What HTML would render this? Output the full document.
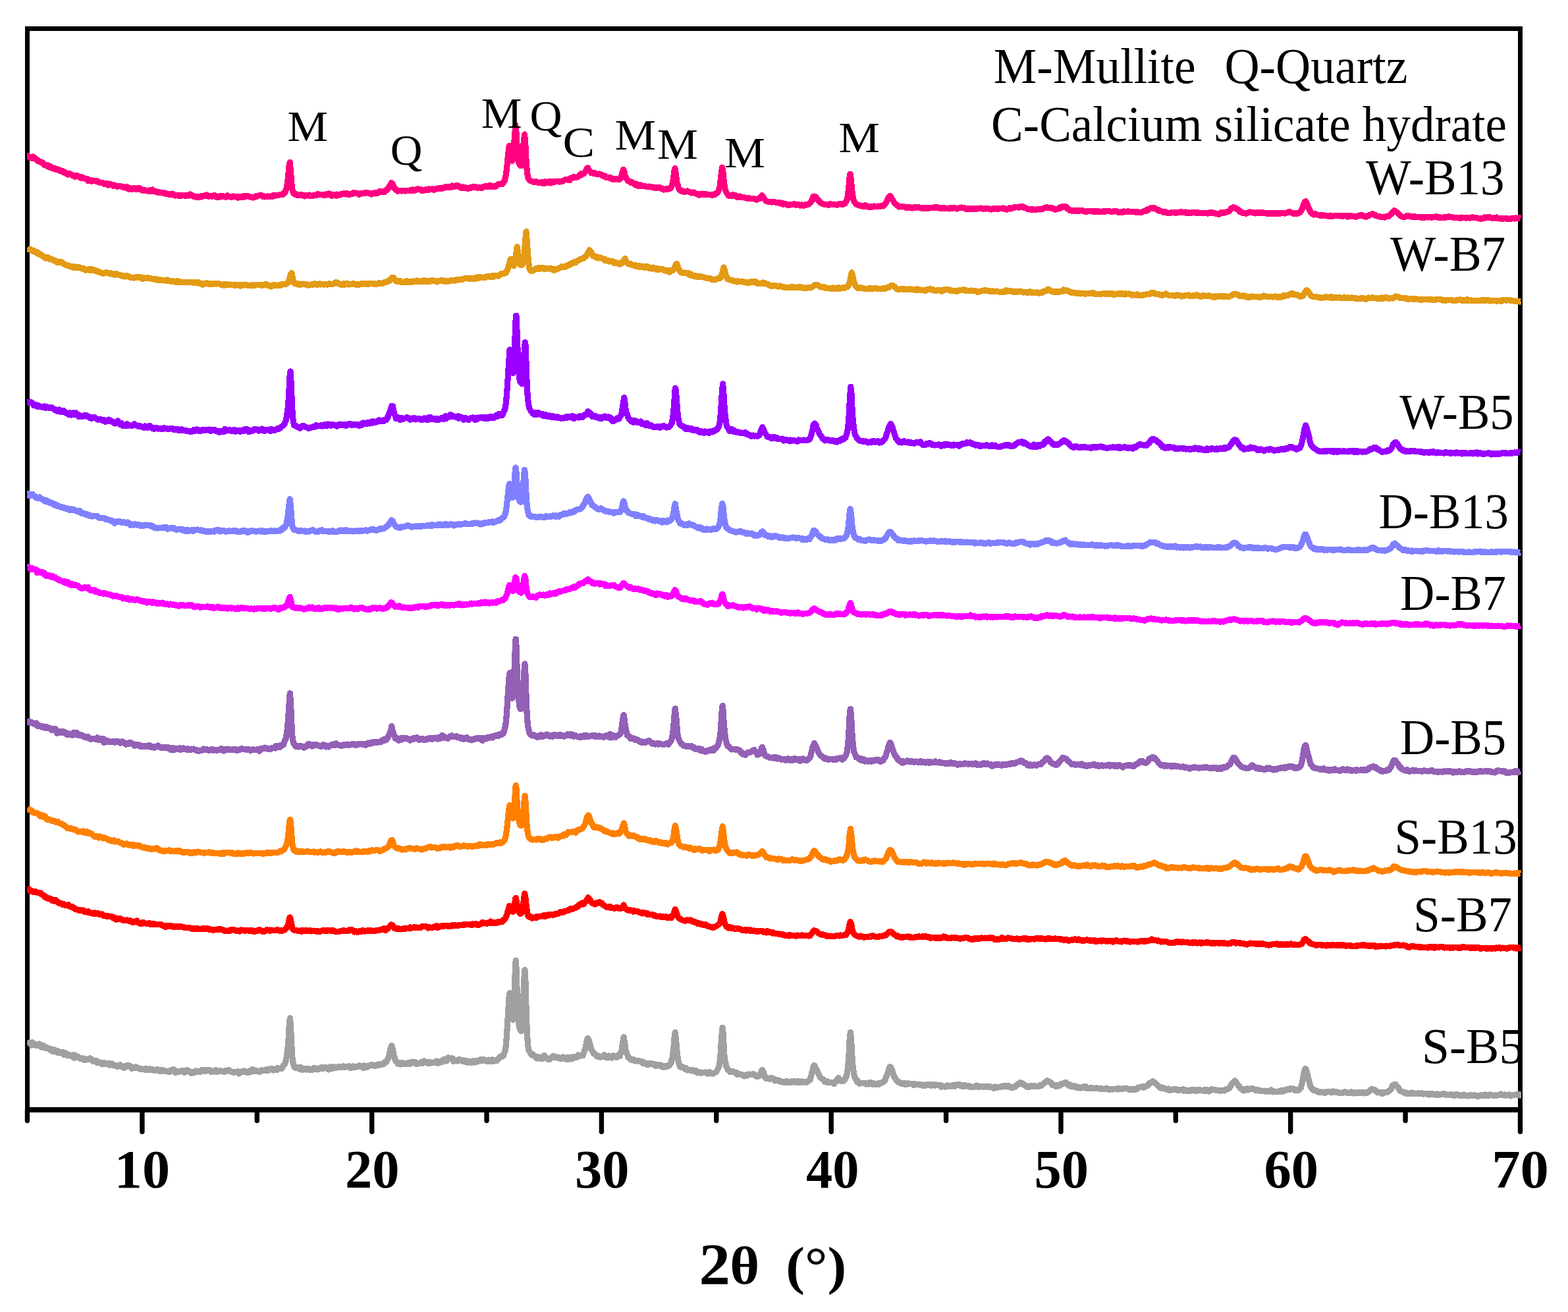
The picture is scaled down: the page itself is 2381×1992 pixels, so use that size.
<!DOCTYPE html>
<html lang="en">
<head>
<meta charset="utf-8">
<title>XRD patterns</title>
<style>
html,body{margin:0;padding:0;background:#fff;}
body{width:2381px;height:1992px;overflow:hidden;}
svg{display:block;}
text{font-family:"Liberation Serif","Times New Roman",Times,serif;fill:#000;}
.c{fill:none;stroke-width:9.2;stroke-linejoin:round;stroke-linecap:butt;shape-rendering:crispEdges;}
.tk{fill:none;stroke:#000;stroke-width:7.4;stroke-linecap:round;}
</style>
</head>
<body>
<svg width="2381" height="1992" viewBox="0 0 2381 1992">
<rect x="0" y="0" width="2381" height="1992" fill="#fff"/>
<g id="axes">
<path id="frame" fill="#000" shape-rendering="crispEdges" d="M38,40H2312V1689H38Z M45,47V1681H2305V47Z" fill-rule="evenodd"/>
<line class="tk" x1="41.5" y1="1685.0" x2="41.5" y2="1701.6"/>
<line class="tk" x1="215.9" y1="1685.0" x2="215.9" y2="1718.3"/>
<line class="tk" x1="390.3" y1="1685.0" x2="390.3" y2="1701.6"/>
<line class="tk" x1="564.7" y1="1685.0" x2="564.7" y2="1718.3"/>
<line class="tk" x1="739.0" y1="1685.0" x2="739.0" y2="1701.6"/>
<line class="tk" x1="913.4" y1="1685.0" x2="913.4" y2="1718.3"/>
<line class="tk" x1="1087.8" y1="1685.0" x2="1087.8" y2="1701.6"/>
<line class="tk" x1="1262.2" y1="1685.0" x2="1262.2" y2="1718.3"/>
<line class="tk" x1="1436.6" y1="1685.0" x2="1436.6" y2="1701.6"/>
<line class="tk" x1="1611.0" y1="1685.0" x2="1611.0" y2="1718.3"/>
<line class="tk" x1="1785.3" y1="1685.0" x2="1785.3" y2="1701.6"/>
<line class="tk" x1="1959.7" y1="1685.0" x2="1959.7" y2="1718.3"/>
<line class="tk" x1="2134.1" y1="1685.0" x2="2134.1" y2="1701.6"/>
<line class="tk" x1="2308.5" y1="1685.0" x2="2308.5" y2="1718.3"/>
</g>
<defs><clipPath id="plotclip"><rect x="41" y="0" width="2269" height="1992"/></clipPath></defs>
<g id="curves" clip-path="url(#plotclip)">
<polyline class="c" stroke="#a0a0a0" points="41.5,1580.1 42.8,1581.9 44,1583 45.2,1583.3 46.5,1584.5 47.8,1587.1 49,1582.7 50.2,1586.5 51.5,1584.5 52.8,1586.3 54,1586 55.2,1587.4 56.5,1585.5 57.8,1587.6 59,1585.3 60.2,1585 61.5,1587.8 62.8,1590 64,1589.1 65.2,1587.4 66.5,1589.6 67.8,1590.1 69,1591.6 70.2,1590 71.5,1591.8 72.8,1591.8 74,1591.6 75.2,1593.2 76.5,1592.5 77.8,1592.7 79,1596.2 80.2,1596.4 81.5,1596.1 82.8,1593.8 84,1595.8 85.2,1597 86.5,1596.6 87.8,1596.1 89,1598.9 90.2,1597.9 91.5,1597.2 92.8,1597.5 94,1598.5 95.2,1600 96.5,1597.7 97.8,1601.7 99,1600 100.2,1599 101.5,1601.5 102.8,1603 104,1601.7 105.2,1602.5 106.5,1601.7 107.8,1602.4 109,1604.2 110.2,1604 111.5,1601.6 112.8,1606.4 114,1602.1 115.2,1603.8 116.5,1604 117.8,1604.1 119,1605.6 120.2,1606 121.5,1607.3 122.8,1606.8 124,1606.6 125.2,1607.7 126.5,1608.5 127.8,1607 129,1609.9 130.2,1607.7 131.5,1609 132.8,1608.6 134,1608.4 135.2,1608.5 136.5,1606.7 137.8,1608.5 139,1608.1 140.2,1608.9 141.5,1611.7 142.8,1610.6 144,1611.5 145.2,1611.3 146.5,1610.3 147.8,1613.7 149,1613 150.2,1612.4 151.5,1612.6 152.8,1614.4 154,1613.1 155.2,1615.9 156.5,1615.6 157.8,1613.3 159,1615.1 160.2,1615.4 161.5,1615.2 162.8,1614.7 164,1615 165.2,1614.6 166.5,1617.1 167.8,1615.8 169,1616.6 170.2,1615 171.5,1617.3 172.8,1617.1 174,1617.2 175.2,1618.5 176.5,1618.6 177.8,1619.1 179,1619.5 180.2,1617.8 181.5,1618.6 182.8,1616.8 184,1619 185.2,1619.1 186.5,1620.6 187.8,1621.4 189,1620.7 190.2,1618.3 191.5,1619.5 192.8,1617.7 194,1618.5 195.2,1618.6 196.5,1618 197.8,1618.3 199,1620.9 200.2,1622.2 201.5,1621.5 202.8,1621.7 204,1620.8 205.2,1620.7 206.5,1619.8 207.8,1621.7 209,1621.7 210.2,1621.9 211.5,1622.4 212.8,1622.5 214,1623.9 215.2,1622.8 216.5,1623.3 217.8,1623.7 219,1623.7 220.2,1624.1 221.5,1622.2 222.8,1623 224,1624.9 225.2,1623.8 226.5,1623.8 227.8,1622.9 229,1624.3 230.2,1623.2 231.5,1623.2 232.8,1625 234,1625.2 235.2,1624.9 236.5,1624.7 237.8,1624 239,1625.4 240.2,1624.1 241.5,1624.8 242.8,1624.4 244,1626.8 245.2,1625.1 246.5,1625.8 247.8,1624.8 249,1625.3 250.2,1626.6 251.5,1626.4 252.8,1626.9 254,1626.3 255.2,1627.2 256.5,1626.6 257.8,1627.4 259,1625.1 260.2,1624.5 261.5,1624.5 262.8,1623.6 264,1624.3 265.2,1627 266.5,1628.8 267.8,1626.8 269,1627.1 270.2,1626.5 271.5,1627.7 272.8,1626.6 274,1626.2 275.2,1626.4 276.5,1625.3 277.8,1627.5 279,1625.6 280.2,1628.4 281.5,1627.4 282.8,1626.3 284,1624.4 285.2,1626.3 286.5,1626.8 287.8,1626.7 289,1627.1 290.2,1629.5 291.5,1627.9 292.8,1627.1 294,1629.1 295.2,1627.3 296.5,1626 297.8,1626.1 299,1627.3 300.2,1626.8 301.5,1626.7 302.8,1627 304,1627.7 305.2,1625.9 306.5,1624.4 307.8,1624.8 309,1624.7 310.2,1625.8 311.5,1626.5 312.8,1624.8 314,1625.4 315.2,1625.2 316.5,1624.2 317.8,1624.7 319,1625.1 320.2,1627.4 321.5,1627.2 322.8,1626.5 324,1626.5 325.2,1627.2 326.5,1625.7 327.8,1624.6 329,1626.8 330.2,1627.4 331.5,1626.2 332.8,1626.1 334,1626.6 335.2,1625.7 336.5,1626.6 337.8,1626.2 339,1626.9 340.2,1627.5 341.5,1626 342.8,1626.9 344,1626.3 345.2,1625 346.5,1625 347.8,1624.3 349,1625.6 350.2,1626.7 351.5,1627.5 352.8,1627.5 354,1628 355.2,1628.5 356.5,1627.5 357.8,1627.2 359,1627.7 360.2,1627.5 361.5,1626.7 362.8,1630.1 364,1627.9 365.2,1628 366.5,1627.4 367.8,1627 369,1626.2 370.2,1627.6 371.5,1626.1 372.8,1627.3 374,1626.9 375.2,1628.8 376.5,1628.8 377.8,1627.7 379,1626.3 380.2,1625.5 381.5,1627.4 382.8,1623.9 384,1624.8 385.2,1624.1 386.5,1624.9 387.8,1626.6 389,1625.7 390.2,1626.6 391.5,1626.1 392.8,1627 394,1627.4 395.2,1627 396.5,1625.3 397.8,1624.9 399,1625.7 400.2,1625.7 401.5,1625.2 402.8,1625.2 404,1623.8 405.2,1623.7 406.5,1625.5 407.8,1623.5 409,1624.7 410.2,1622.9 411.5,1623 412.8,1622.7 414,1624.6 415.2,1625 416.5,1624 417.8,1624.7 419,1624.8 420.2,1624.8 421.5,1621.6 422.8,1622.3 424,1622.7 425.2,1622.4 426.5,1622.6 427.8,1622.4 429,1620.3 430.2,1618.1 431.5,1616.3 432.8,1614.9 434,1611 435.2,1604.6 436.5,1595.6 437.8,1582.2 439,1561 440.2,1546.5 440.5,1545.7 441.5,1559.1 442.8,1587.7 444,1606 445.2,1614.3 446.5,1618.8 447.8,1620.8 449,1621.3 450.2,1621.1 451.5,1620.4 452.8,1621.9 454,1622.8 455.2,1623 456.5,1620.2 457.8,1621.3 459,1624.3 460.2,1622.1 461.5,1623 462.8,1622.1 464,1623.8 465.2,1624.2 466.5,1622.6 467.8,1622.2 469,1624.2 470.2,1623.3 471.5,1624.3 472.8,1624.7 474,1624.1 475.2,1624.1 476.5,1621.5 477.8,1623.5 479,1622 480.2,1622.4 481.5,1623.7 482.8,1622.6 484,1622.8 485.2,1623.1 486.5,1621.4 487.8,1620.7 489,1620.6 490.2,1622.7 491.5,1620.5 492.8,1620.1 494,1620.5 495.2,1620.6 496.5,1621.8 497.8,1621.9 499,1624.1 500.2,1622.7 501.5,1619.7 502.8,1622.1 504,1620.9 505.2,1622.2 506.5,1619.5 507.8,1620.8 509,1621 510.2,1621.3 511.5,1621 512.8,1620.6 514,1619.7 515.2,1620.5 516.5,1620.1 517.8,1620.6 519,1619.8 520.2,1620.3 521.5,1618.9 522.8,1620.3 524,1620.2 525.2,1619.5 526.5,1619.6 527.8,1619.2 529,1619.3 530.2,1618.7 531.5,1621.2 532.8,1619.9 534,1621.2 535.2,1621 536.5,1618.7 537.8,1619.4 539,1619.6 540.2,1620.4 541.5,1619.6 542.8,1619 544,1619.4 545.2,1617.8 546.5,1618.8 547.8,1618.9 549,1618.4 550.2,1619.7 551.5,1621.5 552.8,1617.9 554,1619.4 555.2,1620.4 556.5,1619.2 557.8,1620.1 559,1618 560.2,1618.5 561.5,1618.1 562.8,1617.8 564,1616.6 565.2,1616.7 566.5,1617.6 567.8,1618 569,1618.8 570.2,1618.1 571.5,1617 572.8,1617.7 574,1616.6 575.2,1617.3 576.5,1615.7 577.8,1616.3 579,1615.8 580.2,1616.4 581.5,1615.1 582.8,1615.5 584,1613.3 585.2,1612.1 586.5,1612.6 587.8,1610.6 589,1607 590.2,1605.9 591.5,1599.1 592.8,1592.6 594,1589.1 594.8,1587.5 595.2,1589.1 596.5,1594 597.8,1600.8 599,1605.4 600.2,1609.7 601.5,1611.5 602.8,1612.1 604,1614.9 605.2,1615.2 606.5,1614.8 607.8,1616.1 609,1614.4 610.2,1613.5 611.5,1613.6 612.8,1615.6 614,1614.2 615.2,1614.3 616.5,1615.5 617.8,1615.9 619,1614.1 620.2,1614.5 621.5,1613.6 622.8,1615.4 624,1612.7 625.2,1613.9 626.5,1612 627.8,1613.2 629,1614.1 630.2,1612.4 631.5,1615.4 632.8,1614.8 634,1615.4 635.2,1614.2 636.5,1614.5 637.8,1614.4 639,1612.9 640.2,1612.4 641.5,1614.7 642.8,1611.9 644,1611.1 645.2,1612.5 646.5,1612.4 647.8,1612.7 649,1614.4 650.2,1613.7 651.5,1612.6 652.8,1614.7 654,1612.9 655.2,1613.8 656.5,1613.1 657.8,1613.6 659,1613.4 660.2,1613.4 661.5,1611.9 662.8,1611 664,1613.3 665.2,1614.3 666.5,1613.7 667.8,1613 669,1612.9 670.2,1611 671.5,1612.9 672.8,1609 674,1611 675.2,1609 676.5,1609.6 677.8,1611.1 679,1608.8 680.2,1605.9 681.5,1606.7 682.8,1607.5 684,1607.1 685.2,1606.8 686.2,1606.5 686.5,1609 687.8,1607.2 689,1611.7 690.2,1609.3 691.5,1609.4 692.8,1610 694,1609.5 695.2,1611.1 696.5,1608.8 697.8,1608.7 699,1609.4 700.2,1609.9 701.5,1609.5 702.8,1611.6 704,1610.9 705.2,1610.7 706.5,1610.1 707.8,1612.9 709,1611 710.2,1613.3 711.5,1612.1 712.8,1611.4 714,1612.7 715.2,1613.7 716.5,1612.5 717.8,1611.5 719,1610.8 720.2,1613.1 721.5,1612.2 722.8,1610.6 724,1612.2 725.2,1612 726.5,1610.9 727.8,1610.2 729,1609.5 730.2,1608.3 731.5,1611 732.8,1609.9 734,1608.2 735.2,1609.9 736.5,1610 737.8,1611 739,1610.5 740.2,1611.6 741.5,1609.1 742.8,1610.2 744,1609.2 745.2,1611.4 746.5,1609.1 747.8,1608.9 749,1611.5 750.2,1610.3 751.5,1610.8 752.8,1609.6 754,1610.8 755.2,1608.7 756.5,1608.2 757.8,1606.7 759,1605 760.2,1603.9 761.5,1604.7 762.8,1602.8 764,1603.5 765.2,1600.9 766.5,1596.8 767.8,1591.7 769,1578.4 770.2,1561.2 771.5,1539.9 772.8,1515.9 773.7,1509 774,1507.8 775.2,1518.6 776.5,1535.4 777.8,1547.4 779,1548.3 780.2,1529.1 781.5,1497.4 782.8,1461.2 783.2,1458.2 784,1469.6 785.2,1507.1 786.5,1537.2 787.8,1553.3 789,1561.4 790.2,1563.6 791.5,1565.7 792.8,1557 794,1538.4 795.2,1506.1 796.5,1474.1 796.9,1472.7 797.8,1485.4 799,1529 800.2,1564.5 801.5,1586.3 802.8,1594.3 804,1596.5 805.2,1597.7 806.5,1601 807.8,1602.1 809,1600.4 810.2,1602.4 811.5,1602.8 812.8,1603.2 814,1606.2 815.2,1606.9 816.5,1605.2 817.8,1604.9 819,1606.9 820.2,1607.6 821.5,1606.1 822.8,1604.5 824,1607.7 825.2,1604 826.5,1602.6 827.8,1605.3 829,1605.3 830.2,1606.5 831.5,1607.4 832.8,1608.8 834,1608.7 835.2,1608.2 836.5,1606.5 837.8,1605 839,1603.9 840.2,1603.7 841.5,1604.1 842.8,1605.9 844,1604.2 845.2,1604.9 846.5,1606.6 847.8,1606.2 849,1605.9 850.2,1605.9 851.5,1607.7 852.8,1606 854,1607 855.2,1604.8 856.5,1607 857.8,1606.7 859,1606.2 860.2,1608.8 861.5,1606.4 862.8,1605 864,1608.1 865.2,1606.5 866.5,1606.1 867.8,1608.1 869,1606 870.2,1604.8 871.5,1606 872.8,1604.8 874,1605 875.2,1604.2 876.5,1605.1 877.8,1601.9 879,1603.8 880.2,1603.5 881.5,1603.2 882.8,1602.6 884,1602.3 885.2,1602.7 886.5,1598.7 887.8,1595 889,1590.8 890.2,1584.9 891.5,1578 892.8,1576.3 893,1577.4 894,1578.8 895.2,1582.5 896.5,1587.7 897.8,1593.1 899,1595.2 900.2,1596.9 901.5,1600 902.8,1599.8 904,1600.6 905.2,1602.9 906.5,1602.4 907.8,1603.2 909,1604.7 910.2,1604.1 911.5,1605.2 912.8,1604.6 914,1604.1 915.2,1604.4 916.5,1602.2 917.8,1601.8 919,1605.1 920.2,1604.2 921.5,1603.3 922.8,1606.1 924,1602.9 925.2,1605.4 926.5,1603.5 927.8,1604.4 929,1606.2 930.2,1603.8 931.5,1602.9 932.8,1604.4 934,1603.1 935.2,1605.1 936.5,1605.2 937.8,1603 939,1603.1 940.2,1601 941.5,1603.7 942.8,1598 944,1594.7 945.2,1586.1 946.5,1578.1 947.1,1574.5 947.8,1578.1 949,1586.3 950.2,1595.7 951.5,1598.7 952.8,1601.7 954,1605.7 955.2,1606.3 956.5,1606.9 957.8,1609.1 959,1608.1 960.2,1609.1 961.5,1609.9 962.8,1608.8 964,1611 965.2,1610 966.5,1610.7 967.8,1610.7 969,1611.1 970.2,1610.5 971.5,1611.4 972.8,1611.5 974,1612 975.2,1611.5 976.5,1614.7 977.8,1613.5 979,1613.8 980.2,1614.6 981.5,1615.4 982.8,1616.8 984,1614.4 985.2,1616.4 986.5,1614.4 987.8,1615.6 989,1614.8 990.2,1615.3 991.5,1615.5 992.8,1615.5 994,1615.6 995.2,1618.3 996.5,1617.9 997.8,1618 999,1616.8 1000.2,1616.9 1001.5,1618.2 1002.8,1616.9 1004,1618.8 1005.2,1618.3 1006.5,1620.2 1007.8,1618.6 1009,1619.3 1010.2,1620.1 1011.5,1618 1012.8,1619 1014,1619 1015.2,1618 1016.5,1617.4 1017.8,1615.2 1019,1614.1 1020.2,1608.5 1021.5,1604.1 1022.8,1592.5 1024,1576.6 1025.2,1567.8 1025.2,1567.2 1026.5,1578.4 1027.8,1594.1 1029,1604.8 1030.2,1611.7 1031.5,1616.4 1032.8,1620 1034,1618.8 1035.2,1620.1 1036.5,1619.7 1037.8,1620.8 1039,1622.4 1040.2,1623.5 1041.5,1621.4 1042.8,1623 1044,1624.8 1045.2,1624.1 1046.5,1624.4 1047.8,1624.7 1049,1625.8 1050.2,1625.4 1051.5,1624.7 1052.8,1626.2 1054,1625.8 1055.2,1626.6 1056.5,1625.4 1057.8,1626.3 1059,1629.1 1060.2,1628 1061.5,1627.5 1062.8,1628.2 1064,1629.2 1065.2,1628.5 1066.5,1628.5 1067.8,1628.2 1069,1628.1 1070.2,1628.1 1071.5,1627.9 1072.8,1629.3 1074,1630.1 1075.2,1630.1 1076.5,1627.7 1077.8,1627.8 1079,1629.9 1080.2,1629.9 1081.5,1629.2 1082.8,1630.1 1084,1629.3 1085.2,1629.1 1086.5,1628.1 1087.8,1627.3 1089,1625 1090.2,1622.9 1091.5,1620.1 1092.8,1614.8 1094,1601.5 1095.2,1583.1 1096.5,1564.1 1097.1,1560.1 1097.8,1565.2 1099,1585.9 1100.2,1607 1101.5,1612.8 1102.8,1618.9 1104,1621.1 1105.2,1624.6 1106.5,1625 1107.8,1626.1 1109,1627.8 1110.2,1626.8 1111.5,1626.8 1112.8,1626.3 1114,1627.3 1115.2,1627.8 1116.5,1628.9 1117.8,1628.1 1119,1631.3 1120.2,1630.5 1121.5,1630.5 1122.8,1630.6 1124,1631.4 1125.2,1631.4 1126.5,1631.2 1127.8,1632.1 1129,1632.7 1130.2,1634 1131.5,1633.5 1132.8,1633.4 1134,1631.7 1135.2,1633 1136.5,1631.4 1137.8,1630.9 1139,1631.2 1140.2,1631.2 1141.5,1631.6 1142.8,1631.7 1143.1,1630.3 1144,1631.2 1145.2,1631.5 1146.5,1632 1147.8,1633.6 1149,1634.3 1150.2,1634.9 1151.5,1634.1 1152.8,1632.8 1154,1631.3 1155.2,1630.1 1156.5,1625.3 1157.4,1624.2 1157.8,1625.2 1159,1627.6 1160.2,1630.5 1161.5,1635.9 1162.8,1636.3 1164,1637.9 1165.2,1636.9 1166.5,1637.7 1167.8,1637.8 1169,1638.4 1170.2,1637.9 1171.5,1636.6 1172.8,1637.4 1174,1637.9 1175.2,1638 1176.5,1641 1177.8,1640 1179,1640.3 1180.2,1639.9 1181.5,1641.2 1182.8,1640.5 1184,1641.1 1185.2,1642.2 1186.5,1641.9 1187.8,1642.8 1189,1642.4 1190.2,1643.4 1191.5,1642.7 1192.8,1643.1 1194,1641.7 1195.2,1643 1196.5,1642.1 1197.8,1643.4 1199,1642.8 1200.2,1642.8 1201.5,1643.1 1202.8,1641.6 1204,1642.7 1205.2,1643.2 1206.5,1641.9 1207.8,1642.3 1209,1642.9 1210.2,1643.4 1211.5,1641.6 1212.8,1641.9 1214,1643.9 1215.2,1642.7 1216.5,1643.4 1217.8,1641.8 1219,1643.8 1220.2,1642.7 1221.5,1642.8 1222.8,1642.8 1224,1642.5 1225.2,1643.3 1226.5,1641.7 1227.8,1641.4 1229,1639.5 1230.2,1639.4 1231.5,1634.8 1232.8,1629 1234,1625 1235.2,1619.1 1236.2,1617.5 1236.5,1618 1237.8,1619.3 1239,1622.1 1240.2,1623.9 1241.5,1627.8 1242.8,1629.9 1244,1633.2 1245.2,1635.6 1246.5,1636.9 1247.8,1637.4 1249,1638.6 1250.2,1638.9 1251.5,1640.3 1252.8,1642.8 1254,1641.3 1255.2,1641.3 1256.5,1643.8 1257.8,1642.3 1259,1643.3 1260.2,1643.4 1261.5,1643.4 1262.8,1643.4 1264,1643.5 1265.2,1644.5 1266.5,1645.9 1267.8,1643.6 1269,1642.3 1270.2,1641.6 1271.5,1638.8 1272.8,1637.1 1273.2,1636.6 1274,1638.4 1275.2,1639.6 1276.5,1641.3 1277.8,1641.6 1279,1641.9 1280.2,1641.1 1281.5,1640.6 1282.8,1639.5 1284,1636.2 1285.2,1634.4 1286.5,1628.7 1287.8,1618.4 1289,1601.6 1290.2,1577.7 1291.3,1567.2 1291.5,1567.3 1292.8,1583 1294,1606 1295.2,1620.4 1296.5,1629.8 1297.8,1634.9 1299,1638.4 1300.2,1638.9 1301.5,1642.5 1302.8,1642.4 1304,1642.8 1305.2,1645.2 1306.5,1644.7 1307.8,1644.7 1309,1644.1 1310.2,1644.5 1311.5,1644.6 1312.8,1644.3 1314,1645.2 1315.2,1646 1316.5,1644.6 1317.8,1644.9 1319,1646 1320.2,1645.3 1321.5,1643.4 1322.8,1645.1 1324,1645.6 1325.2,1646.8 1326.5,1644.9 1327.8,1646.4 1329,1645.5 1330.2,1646.5 1331.5,1645.7 1332.8,1646.9 1334,1644.7 1335.2,1644.2 1336.5,1645.3 1337.8,1643.9 1339,1643.9 1340.2,1643.3 1341.5,1642.6 1342.8,1641.8 1344,1640.3 1345.2,1636.1 1346.5,1633.5 1347.8,1629.8 1349,1626.1 1350.2,1621.8 1351.5,1619.8 1351.7,1620.3 1352.8,1621.2 1354,1622.9 1355.2,1626.3 1356.5,1630.1 1357.8,1635.4 1359,1636.1 1360.2,1637.9 1361.5,1640.4 1362.8,1642.1 1364,1642.8 1365.2,1642.5 1366.5,1644.2 1367.8,1644.5 1369,1645.3 1370.2,1644.8 1371.5,1645.3 1372.8,1646 1374,1644.8 1375.2,1646.1 1376.5,1646.8 1377.8,1645.5 1379,1644.8 1380.2,1645 1381.5,1645.9 1382.8,1645.6 1384,1645.9 1385.2,1645.8 1386.5,1645.9 1387.8,1647.8 1389,1645.8 1390.2,1646.3 1391.5,1646.8 1392.8,1646.3 1394,1646.3 1395.2,1646.2 1396.5,1647.2 1397.8,1646.5 1399,1646.5 1400.2,1648.3 1401.5,1647.3 1402.8,1647.4 1404,1648.8 1405.2,1647.1 1406.5,1647.7 1407.8,1647.8 1409,1646.8 1410.2,1647.9 1411.5,1647.5 1412.8,1646.6 1414,1648.2 1415.2,1647.9 1416.5,1646.8 1417.8,1647.3 1419,1648.1 1420.2,1646.9 1421.5,1646.7 1422.8,1647.7 1424,1647.5 1425.2,1647.5 1426.5,1648 1427.8,1647.5 1429,1650.5 1430.2,1648.8 1431.5,1649 1432.8,1649.2 1434,1649.8 1435.2,1650.2 1436.5,1650 1437.8,1648.3 1439,1648 1440.2,1649.3 1441.5,1648.5 1442.8,1648.8 1444,1648.9 1445.2,1649.2 1446.5,1648 1447.8,1648.8 1449,1648.8 1450.2,1649.4 1451.5,1646.9 1452.8,1647.2 1454,1647.1 1455.2,1647.5 1456.5,1646.5 1457.8,1648.3 1459,1647.8 1460.2,1648.5 1461.5,1649.8 1462.8,1647.6 1464,1649.8 1465.2,1647.8 1466.5,1648.9 1467.8,1648.6 1469,1649 1470.2,1649 1471.5,1648.9 1472.8,1650.2 1474,1649.4 1475.2,1650 1476.5,1650.3 1477.8,1650.2 1479,1650.5 1480.2,1649.7 1481.5,1649.6 1482.8,1648.1 1484,1649.9 1485.2,1650.2 1486.5,1649.2 1487.8,1650.6 1489,1649.2 1490.2,1649.7 1491.5,1649.6 1492.8,1649.7 1494,1650.3 1495.2,1650 1496.5,1649.6 1497.8,1649.8 1499,1650.2 1500.2,1649.5 1501.5,1650.1 1502.8,1649.7 1504,1650.7 1505.2,1650.7 1506.5,1651.1 1507.8,1651.8 1509,1652.2 1510.2,1650.5 1511.5,1650 1512.8,1651.2 1514,1651.4 1515.2,1650.3 1516.5,1650.3 1517.8,1650.4 1519,1650.7 1520.2,1649.4 1521.5,1650 1522.8,1649.2 1524,1648.8 1525.2,1649.4 1526.5,1648.7 1527.8,1649.9 1529,1648.7 1530.2,1648.5 1531.5,1648.6 1532.8,1649.4 1534,1650.7 1535.2,1651.3 1536.5,1650.8 1537.8,1651.3 1539,1650.4 1540.2,1649.8 1541.5,1650.2 1542.8,1648.2 1544,1648 1545.2,1646.3 1546.5,1645 1547.8,1645.3 1549,1645.7 1549.4,1643.6 1550.2,1645.7 1551.5,1645.2 1552.8,1644.8 1554,1646.8 1555.2,1647.6 1556.5,1647.3 1557.8,1648.4 1559,1649.8 1560.2,1650.8 1561.5,1649.3 1562.8,1650.3 1564,1649.7 1565.2,1648.4 1566.5,1649.8 1567.8,1649.4 1569,1648.1 1570.2,1649.6 1571.5,1648.7 1572.8,1649.1 1574,1649.3 1575.2,1649.1 1576.5,1649.6 1577.8,1649.7 1579,1649 1580.2,1647.1 1581.5,1648.1 1582.8,1646.6 1584,1645.8 1585.2,1645 1586.5,1643 1587.8,1642.9 1589,1641.8 1590.2,1640.6 1590.2,1640.5 1591.5,1641.6 1592.8,1642.5 1594,1642.7 1595.2,1643.2 1596.5,1645.1 1597.8,1647.6 1599,1647.9 1600.2,1647.1 1601.5,1647.5 1602.8,1648.8 1604,1649.8 1605.2,1647.8 1606.5,1647.3 1607.8,1647.5 1609,1648.5 1610.2,1646.8 1611.5,1645.6 1612.8,1646.2 1614,1645.4 1615.2,1645.4 1615.7,1644.1 1616.5,1644.6 1617.8,1643.2 1619,1643.7 1620.2,1645 1621.5,1647.2 1622.8,1646.1 1624,1648.8 1625.2,1648.3 1626.5,1649.8 1627.8,1650 1629,1649.7 1630.2,1648.5 1631.5,1650.4 1632.8,1649 1634,1651.1 1635.2,1651.3 1636.5,1651.2 1637.8,1651.5 1639,1650.2 1640.2,1652.1 1641.5,1651.1 1642.8,1651 1644,1651.1 1645.2,1649.8 1646.5,1651.2 1647.8,1650.9 1649,1649.6 1650.2,1652.7 1651.5,1652.1 1652.8,1652.7 1654,1652.4 1655.2,1651.9 1656.5,1652.1 1657.8,1651.6 1659,1652.9 1660.2,1652.4 1661.5,1652.5 1662.8,1652.6 1664,1652.6 1665.2,1651.6 1666.5,1652.2 1667.8,1652.5 1669,1652.4 1670.2,1652.6 1671.5,1653.6 1672.8,1652.4 1674,1653 1675.2,1653.8 1676.5,1653.3 1677.8,1653.4 1679,1653.1 1680.2,1652 1681.5,1653.4 1682.8,1653.4 1684,1654.4 1685.2,1654.2 1686.5,1653.2 1687.8,1653.3 1689,1653.4 1690.2,1654 1691.5,1653.2 1692.8,1653.8 1694,1653.5 1695.2,1653.2 1696.5,1652.9 1697.8,1654.1 1699,1652.5 1700.2,1652.6 1701.5,1653.8 1702.8,1653.8 1704,1653.7 1705.2,1653 1706.5,1652.9 1707.8,1652.5 1709,1652.9 1710.2,1652.4 1711.5,1652.9 1712.8,1653.3 1714,1654.3 1715.2,1653.2 1716.5,1653.4 1717.8,1654.2 1719,1654.3 1720.2,1654.3 1721.5,1653.6 1722.8,1654.1 1724,1653.3 1725.2,1654.1 1726.5,1653.4 1727.8,1651.4 1729,1651.4 1730.2,1651 1731.5,1650.3 1732.5,1650.8 1732.8,1650.5 1734,1650.6 1735.2,1649.3 1736.5,1651.2 1737.8,1649.9 1739,1650.1 1740.2,1649.4 1741.5,1649 1742.8,1648.4 1744,1646 1745.2,1644.8 1746.5,1645.1 1747.8,1643.5 1749,1643.5 1749.9,1642.9 1750.2,1641.8 1751.5,1643.5 1752.8,1643 1754,1644.2 1755.2,1644.9 1756.5,1646.6 1757.8,1647.8 1759,1648.7 1760.2,1649.6 1761.5,1651.6 1762.8,1651.2 1764,1652.3 1765.2,1651.1 1766.5,1651.7 1767.8,1652.7 1769,1652.7 1770.2,1653.3 1771.5,1654.2 1772.8,1654.1 1774,1652.9 1775.2,1655.2 1776.5,1654.2 1777.8,1655 1779,1654.6 1780.2,1654.7 1781.5,1653.7 1782.8,1654 1784,1653.9 1785.2,1653.8 1786.5,1655 1787.8,1655 1789,1655.5 1790.2,1654.4 1791.5,1655.1 1792.8,1654.9 1794,1654.4 1795.2,1654.7 1796.5,1653.8 1797.8,1656.2 1799,1654.2 1800.2,1655.2 1801.5,1656.1 1802.8,1655.8 1804,1655.4 1805.2,1656.4 1806.5,1655.9 1807.8,1656.5 1809,1654.7 1810.2,1654.5 1811.5,1655.8 1812.8,1654.6 1814,1655.8 1815.2,1655.8 1816.5,1656.4 1817.8,1654.6 1819,1654.2 1820.2,1655.6 1821.5,1654.5 1822.8,1654.8 1824,1655.2 1825.2,1655.5 1826.5,1655.3 1827.8,1656.3 1829,1654.8 1830.2,1655.3 1831.5,1656.6 1832.8,1654.5 1834,1656.7 1835.2,1656.9 1836.5,1657 1837.8,1655 1839,1654.4 1840.2,1653.7 1841.5,1654.3 1842.8,1654.9 1844,1654.9 1845.2,1654.2 1846.5,1655.2 1847.8,1655.3 1849,1655.6 1850.2,1655.3 1851.5,1655.3 1852.8,1656.5 1854,1656.1 1855.2,1655.8 1856.5,1655.2 1857.8,1655.3 1859,1656.1 1860.2,1654.3 1861.5,1654 1862.8,1654.2 1864,1653.8 1865.2,1652.5 1866.5,1652.2 1867.8,1650.7 1869,1648.6 1870.2,1645.6 1871.5,1644.9 1872.8,1643.3 1873.8,1642.7 1874,1642.8 1875.2,1640.9 1876.5,1642 1877.8,1644.3 1879,1645.9 1880.2,1648.2 1881.5,1648.9 1882.8,1651.1 1884,1653.2 1885.2,1653 1886.5,1654.9 1887.8,1655.8 1889,1656.1 1890.2,1653.9 1891.5,1653.2 1892.8,1654.3 1894,1652.8 1895.2,1655.1 1896.5,1654.2 1897.8,1653.3 1899,1653.6 1899.9,1653.6 1900.2,1652.4 1901.5,1652.5 1902.8,1653.5 1904,1653.5 1905.2,1654.6 1906.5,1655.9 1907.8,1654.3 1909,1655.3 1910.2,1655.6 1911.5,1655 1912.8,1656.2 1914,1655.6 1915.2,1656.9 1916.5,1656.4 1917.8,1656.2 1919,1656.5 1920.2,1656.6 1921.5,1656.1 1922.8,1657.7 1924,1656.4 1925.2,1656.5 1926.5,1656.2 1927.8,1657.1 1929,1656.6 1930.2,1654.9 1931.5,1656.1 1932.8,1658 1934,1657 1935.2,1657 1936.5,1657.3 1937.8,1657.5 1939,1657.5 1940.2,1657.2 1941.5,1657.4 1942.8,1656.7 1944,1657.8 1945.2,1657 1946.5,1655 1947.8,1656.3 1949,1657 1950.2,1655.2 1951.5,1654.8 1952.8,1655 1954,1654.6 1955.2,1653.4 1956.5,1653.7 1957.8,1654.3 1959,1653.9 1959.2,1652.7 1960.2,1653.5 1961.5,1653.7 1962.8,1653.9 1964,1652.8 1965.2,1654.1 1966.5,1655.7 1967.8,1654.7 1969,1655.7 1970.2,1655.3 1971.5,1655.6 1972.8,1654.6 1974,1653.2 1975.2,1652.3 1976.5,1647.6 1977.8,1641.5 1979,1635 1980.2,1627.5 1981.5,1623.4 1982.2,1622.5 1982.8,1622.9 1984,1626.4 1985.2,1631.1 1986.5,1636.3 1987.8,1641.6 1989,1646.3 1990.2,1650.1 1991.5,1652.1 1992.8,1653 1994,1655.4 1995.2,1655.1 1996.5,1655.1 1997.8,1655.7 1999,1656 2000.2,1656.8 2001.5,1658.2 2002.8,1657.3 2004,1658.3 2005.2,1658 2006.5,1658.7 2007.8,1658 2009,1658.2 2010.2,1658.7 2011.5,1659.4 2012.8,1658 2014,1658.1 2015.2,1658.1 2016.5,1657.3 2017.8,1657.3 2019,1657.7 2020.2,1657.2 2021.5,1659 2022.8,1658.1 2024,1657.1 2025.2,1657.8 2026.5,1657.7 2027.8,1658.4 2029,1657.8 2030.2,1658.8 2031.5,1658.5 2032.8,1659.4 2034,1659 2035.2,1659.8 2036.5,1659.6 2037.8,1659 2039,1659.1 2040.2,1659 2041.5,1657.7 2042.8,1658 2044,1658.6 2045.2,1659.5 2046.5,1659 2047.8,1659.5 2049,1659.8 2050.2,1659.5 2051.5,1657.8 2052.8,1658.1 2054,1658.9 2055.2,1660.1 2056.5,1658.6 2057.8,1659 2059,1659.2 2060.2,1659.9 2061.5,1658.7 2062.8,1658.5 2064,1659.5 2065.2,1659.7 2066.5,1658.7 2067.8,1658.9 2069,1659.8 2070.2,1658.6 2071.5,1659.7 2072.8,1658.4 2074,1659.9 2075.2,1659.6 2076.5,1658.8 2077.8,1658.1 2079,1656.8 2080.2,1656.1 2081.5,1654.9 2082.8,1653.5 2084,1653.6 2084.8,1654.5 2085.2,1654.8 2086.5,1654.7 2087.8,1654.8 2089,1656.6 2090.2,1657.2 2091.5,1658.8 2092.8,1658 2094,1658.1 2095.2,1659 2096.5,1658.8 2097.8,1660.2 2099,1660.8 2100.2,1658.6 2101.5,1659 2102.8,1658.8 2104,1658.7 2105.2,1658.5 2106.5,1658.1 2107.8,1657.7 2109,1656.2 2110.2,1655.9 2111.5,1654.5 2112.8,1653.1 2114,1649.4 2115.2,1647.3 2116.5,1646.8 2117.5,1646.7 2117.8,1647.8 2119,1646.2 2120.2,1647.9 2121.5,1649.8 2122.8,1651.4 2124,1651.9 2125.2,1655.2 2126.5,1656.7 2127.8,1656.8 2129,1657.3 2130.2,1658 2131.5,1658 2132.8,1659.1 2134,1658.5 2135.2,1660.3 2136.5,1660 2137.8,1659.9 2139,1660.6 2140.2,1660.3 2141.5,1659.8 2142.8,1660.1 2144,1659 2145.2,1660.1 2146.5,1659.7 2147.8,1660.5 2149,1660.3 2150.2,1660.1 2151.5,1660.7 2152.8,1660.4 2154,1659.4 2155.2,1660 2156.5,1660.3 2157.8,1660.1 2159,1659.5 2160.2,1660.5 2161.5,1661.1 2162.8,1661 2164,1660.2 2165.2,1660.9 2166.5,1660.9 2167.8,1660.9 2169,1661.6 2170.2,1662.1 2171.5,1660.2 2172.8,1660.7 2174,1661.4 2175.2,1661 2176.5,1661.1 2177.8,1662 2179,1661.6 2180.2,1662.5 2181.5,1660.7 2182.8,1662 2184,1662 2185.2,1661.3 2186.5,1662.2 2187.8,1661.5 2189,1661.2 2190.2,1660.9 2191.5,1660.9 2192.8,1660.3 2194,1662 2195.2,1661.8 2196.5,1661.9 2197.8,1662.3 2199,1662.9 2200.2,1662.7 2201.5,1661.9 2202.8,1661.8 2204,1661.4 2205.2,1662.2 2206.5,1663.3 2207.8,1663 2209,1663.3 2210.2,1661.9 2211.5,1662.2 2212.8,1662 2214,1662 2215.2,1662.2 2216.5,1663.6 2217.8,1662.4 2219,1662.4 2220.2,1663.9 2221.5,1662.3 2222.8,1662 2224,1663.9 2225.2,1663.2 2226.5,1663.4 2227.8,1663.5 2229,1664.1 2230.2,1663.1 2231.5,1663.4 2232.8,1662.3 2234,1663.5 2235.2,1663.8 2236.5,1663.4 2237.8,1662.6 2239,1663.2 2240.2,1663.6 2241.5,1663.8 2242.8,1663.5 2244,1664.9 2245.2,1664.4 2246.5,1663.2 2247.8,1663.3 2249,1663.1 2250.2,1662.1 2251.5,1664 2252.8,1663 2254,1662.8 2255.2,1662 2256.5,1663.6 2257.8,1663 2259,1663.2 2260.2,1662.6 2261.5,1663.2 2262.8,1661.8 2264,1662.9 2265.2,1662.3 2266.5,1663 2267.8,1663.6 2269,1663.4 2270.2,1663 2271.5,1663.3 2272.8,1663.5 2274,1663.1 2275.2,1662.2 2276.5,1662.8 2277.8,1662.1 2279,1661.1 2280.2,1661.8 2281.5,1662.6 2282.8,1662.5 2284,1663 2285.2,1662 2286.5,1662.6 2287.8,1663.2 2289,1662.8 2290.2,1662.8 2291.5,1661.7 2292.8,1663.5 2294,1664 2295.2,1662.3 2296.5,1662.6 2297.8,1662.6 2299,1662.6 2300.2,1662.7 2301.5,1662.6 2302.8,1661.7 2304,1662 2305.2,1661.2 2306.5,1661.4 2307.8,1663.1 2308.5,1660.8"/>
<polyline class="c" stroke="#ff0000" points="41.5,1348.2 42.8,1349.9 44,1349.7 45.2,1352.4 46.5,1352.5 47.8,1353.2 49,1352.9 50.2,1354.2 51.5,1353.8 52.8,1353.5 54,1354.2 55.2,1353.9 56.5,1355.3 57.8,1355.4 59,1355.8 60.2,1355.8 61.5,1355.8 62.8,1357.9 64,1357.5 65.2,1359.2 66.5,1359 67.8,1361.6 69,1362.5 70.2,1362.1 71.5,1363.4 72.8,1364.3 74,1364.2 75.2,1364 76.5,1364.8 77.8,1364.8 79,1367 80.2,1367.8 81.5,1368 82.8,1367.1 84,1368.3 85.2,1366.8 86.5,1368.6 87.8,1370.1 89,1370.3 90.2,1371.8 91.5,1371.1 92.8,1371.8 94,1371.9 95.2,1373.8 96.5,1372.3 97.8,1373.7 99,1373.9 100.2,1374.9 101.5,1374.6 102.8,1375 104,1373.9 105.2,1375 106.5,1376.6 107.8,1376.9 109,1376.2 110.2,1378.1 111.5,1378.8 112.8,1378.6 114,1380.3 115.2,1380.9 116.5,1380.8 117.8,1381.1 119,1382.1 120.2,1382.6 121.5,1381.2 122.8,1382.8 124,1382.2 125.2,1382.7 126.5,1382 127.8,1384.3 129,1384 130.2,1383.6 131.5,1384.5 132.8,1385.4 134,1383.8 135.2,1384.7 136.5,1385.3 137.8,1385.8 139,1386.7 140.2,1386.2 141.5,1386.1 142.8,1387.7 144,1386 145.2,1387 146.5,1387.4 147.8,1387.5 149,1386.6 150.2,1388.2 151.5,1387.9 152.8,1388.8 154,1388.9 155.2,1388 156.5,1390 157.8,1390.8 159,1390.2 160.2,1390.8 161.5,1391.2 162.8,1391 164,1390.6 165.2,1391.1 166.5,1391.3 167.8,1391.9 169,1391.2 170.2,1391.6 171.5,1393.5 172.8,1394.3 174,1393.4 175.2,1393.9 176.5,1396.1 177.8,1395.1 179,1394.6 180.2,1395.5 181.5,1395.4 182.8,1394.6 184,1395.4 185.2,1396.4 186.5,1397.2 187.8,1397 189,1397.3 190.2,1397.8 191.5,1397.1 192.8,1396.8 194,1397.7 195.2,1398.1 196.5,1398.3 197.8,1397.7 199,1398.7 200.2,1400 201.5,1399.4 202.8,1400.2 204,1399.9 205.2,1399.6 206.5,1398.5 207.8,1398 209,1399.8 210.2,1400.7 211.5,1402.1 212.8,1402 214,1401.4 215.2,1400.9 216.5,1402.4 217.8,1400.5 219,1401.3 220.2,1401.5 221.5,1402.2 222.8,1402.3 224,1402.5 225.2,1402.9 226.5,1401.6 227.8,1403.3 229,1403.7 230.2,1402.7 231.5,1402.5 232.8,1403.7 234,1402.7 235.2,1403.8 236.5,1403.2 237.8,1403.2 239,1403.7 240.2,1403.7 241.5,1403.3 242.8,1403.8 244,1403.1 245.2,1403.9 246.5,1405.1 247.8,1405.2 249,1405.1 250.2,1405.6 251.5,1407.4 252.8,1407.1 254,1405.8 255.2,1405.8 256.5,1406.4 257.8,1406 259,1406.7 260.2,1405.8 261.5,1406.1 262.8,1407.3 264,1406.9 265.2,1407.3 266.5,1406.2 267.8,1406.2 269,1407.1 270.2,1406.5 271.5,1407.2 272.8,1406.4 274,1406.8 275.2,1406.5 276.5,1407.5 277.8,1407.2 279,1407.5 280.2,1408.4 281.5,1408.7 282.8,1408.5 284,1408.5 285.2,1408.5 286.5,1408.5 287.8,1409 289,1408.9 290.2,1409.3 291.5,1409.3 292.8,1410.6 294,1409.9 295.2,1409.9 296.5,1410.3 297.8,1409.9 299,1410 300.2,1409.6 301.5,1410.6 302.8,1410.2 304,1410.5 305.2,1410.2 306.5,1410.4 307.8,1409.9 309,1409.5 310.2,1410.5 311.5,1410.4 312.8,1409.7 314,1409.4 315.2,1409.8 316.5,1410.6 317.8,1411.2 319,1410.5 320.2,1411.1 321.5,1411.5 322.8,1411.8 324,1412.5 325.2,1411.6 326.5,1411.2 327.8,1411.7 329,1411.2 330.2,1411 331.5,1411.1 332.8,1411 334,1411 335.2,1410.9 336.5,1411.1 337.8,1411.6 339,1412.3 340.2,1413 341.5,1413.2 342.8,1412.9 344,1413.5 345.2,1413.4 346.5,1413.3 347.8,1412.5 349,1413.6 350.2,1412.7 351.5,1411.4 352.8,1411.4 354,1411.8 355.2,1411.6 356.5,1412.4 357.8,1412.3 359,1412.6 360.2,1413.9 361.5,1413.4 362.8,1413 364,1413.9 365.2,1413.1 366.5,1411.9 367.8,1412.1 369,1412.6 370.2,1412.7 371.5,1413.1 372.8,1413.1 374,1412.9 375.2,1412.3 376.5,1413 377.8,1412.7 379,1413.7 380.2,1413.1 381.5,1412.4 382.8,1412.7 384,1413.9 385.2,1413.3 386.5,1414.5 387.8,1413.6 389,1413.7 390.2,1413.8 391.5,1412.6 392.8,1412.6 394,1411.4 395.2,1412.6 396.5,1413.3 397.8,1414 399,1414 400.2,1413.4 401.5,1414.3 402.8,1413.2 404,1412.4 405.2,1411.7 406.5,1412.7 407.8,1412.7 409,1412 410.2,1413.4 411.5,1412.6 412.8,1412.1 414,1412.7 415.2,1412.8 416.5,1412.6 417.8,1412.1 419,1412.5 420.2,1412.1 421.5,1411.7 422.8,1412.3 424,1412.6 425.2,1413.4 426.5,1413.5 427.8,1413.6 429,1412.2 430.2,1412.5 431.5,1412.3 432.8,1411.8 434,1410.2 435.2,1408.2 436.5,1406.4 437.8,1402.7 439,1396.9 440.2,1392.8 440.5,1392.9 441.5,1397.4 442.8,1404.2 444,1409.5 445.2,1411.3 446.5,1412 447.8,1412.8 449,1412.7 450.2,1412.2 451.5,1413.4 452.8,1413.2 454,1413.4 455.2,1413.4 456.5,1412.7 457.8,1414.4 459,1412.7 460.2,1413.6 461.5,1413 462.8,1413.2 464,1413.1 465.2,1412.4 466.5,1413.1 467.8,1413.2 469,1413.3 470.2,1413 471.5,1412.7 472.8,1413.9 474,1413.3 475.2,1413.8 476.5,1413.1 477.8,1413.6 479,1413.8 480.2,1414.1 481.5,1414.4 482.8,1413.7 484,1413.9 485.2,1414.4 486.5,1414.3 487.8,1413.7 489,1413.1 490.2,1412.7 491.5,1413 492.8,1413 494,1413.5 495.2,1412.8 496.5,1413 497.8,1413.1 499,1412.6 500.2,1412.4 501.5,1413.2 502.8,1412.3 504,1412.9 505.2,1413.5 506.5,1412.9 507.8,1413.7 509,1413.9 510.2,1414.9 511.5,1414.7 512.8,1414.5 514,1414.7 515.2,1414.1 516.5,1413.8 517.8,1413.2 519,1413.2 520.2,1412.9 521.5,1413.1 522.8,1412.9 524,1413.7 525.2,1413.6 526.5,1413.5 527.8,1413.7 529,1413.6 530.2,1411.8 531.5,1411.9 532.8,1411.9 534,1411.4 535.2,1412.4 536.5,1412.8 537.8,1415 539,1414.3 540.2,1413.8 541.5,1414.1 542.8,1415.4 544,1414.6 545.2,1414.3 546.5,1413.4 547.8,1413.7 549,1414.2 550.2,1412.3 551.5,1413.8 552.8,1413.5 554,1414 555.2,1413.2 556.5,1413.1 557.8,1412.6 559,1412.2 560.2,1413.3 561.5,1413 562.8,1412.7 564,1413.5 565.2,1413.2 566.5,1413.1 567.8,1413.7 569,1413.2 570.2,1413.3 571.5,1412.4 572.8,1412.7 574,1412.7 575.2,1412.3 576.5,1412.1 577.8,1411.3 579,1411.4 580.2,1411.5 581.5,1410.8 582.8,1409.7 584,1411.2 585.2,1412.8 586.5,1411.5 587.8,1410.6 589,1410.1 590.2,1407.9 591.5,1407.1 592.8,1405.7 594,1403.9 594.8,1404.4 595.2,1404.3 596.5,1405.7 597.8,1407.5 599,1409.6 600.2,1409.2 601.5,1410.4 602.8,1410.2 604,1409.9 605.2,1409.9 606.5,1410.7 607.8,1410.8 609,1410.9 610.2,1410.9 611.5,1410 612.8,1410.4 614,1409.5 615.2,1410.6 616.5,1409.2 617.8,1409.4 619,1409.4 620.2,1409.2 621.5,1410 622.8,1407.8 624,1409.3 625.2,1408.7 626.5,1408.6 627.8,1408.8 629,1407.7 630.2,1407.4 631.5,1407.7 632.8,1408.9 634,1408.7 635.2,1408.5 636.5,1408.8 637.8,1408.2 639,1408.5 640.2,1407.1 641.5,1406.6 642.8,1406.2 644,1406.9 645.2,1406.4 646.5,1406.6 647.8,1407 649,1408.3 650.2,1409 651.5,1407.5 652.8,1408.6 654,1408.3 655.2,1408.6 656.5,1408.4 657.8,1407.8 659,1407.4 660.2,1407.1 661.5,1406.9 662.8,1405.7 664,1408.2 665.2,1407 666.5,1407.9 667.8,1406.7 669,1406.7 670.2,1405.9 671.5,1406.5 672.8,1406 674,1405.2 675.2,1406 676.5,1405.4 677.8,1405.8 679,1405.5 680.2,1406.7 681.5,1406.7 682.8,1405.9 684,1405.5 685.2,1406 686.5,1404.7 687.8,1406 689,1404.5 690.2,1405.7 691.5,1404.8 692.8,1405.9 694,1405.7 695.2,1404.9 696.5,1405.3 697.8,1404.9 699,1404.6 700.2,1404.6 701.5,1404.4 702.8,1404.6 704,1403.5 705.2,1404.4 706.5,1403.5 707.8,1403.1 709,1403.4 710.2,1403.6 711.5,1403.5 712.8,1403.8 714,1404 715.2,1403.8 716.5,1404.7 717.8,1402.8 719,1403.2 720.2,1403.6 721.5,1403 722.8,1402.5 724,1403 725.2,1404.3 726.5,1404.6 727.8,1404.2 729,1403.2 730.2,1403 731.5,1401.5 732.8,1400.2 734,1401.8 735.2,1401 736.5,1401.7 737.8,1401.2 739,1402.7 740.2,1401.3 741.5,1400.8 742.8,1401.3 744,1400.7 745.2,1399 746.5,1400.1 747.8,1401.7 749,1400.7 750.2,1400.4 751.5,1401.3 752.8,1400.2 754,1401.1 755.2,1399.9 756.5,1400.6 757.8,1399.8 759,1400.1 760.2,1399.8 761.5,1399.6 762.8,1399.6 764,1396.7 765.2,1397 766.5,1395.6 767.8,1393.3 769,1390.7 770.2,1387.3 771.5,1382.6 772.8,1377.3 773.7,1375.3 774,1375.3 775.2,1376.6 776.5,1381.2 777.8,1383.7 779,1384.5 780.2,1379.9 781.5,1372.6 782.8,1364 783.2,1363.3 784,1366.4 785.2,1373.8 786.5,1381.2 787.8,1384.2 789,1386.1 790.2,1387.2 791.5,1386.9 792.8,1384.4 794,1377.8 795.2,1367.8 796.5,1356.9 796.9,1357.1 797.8,1361.9 799,1372.9 800.2,1382.3 801.5,1389.4 802.8,1391.9 804,1392.2 805.2,1391.5 806.5,1392.8 807.8,1394.2 809,1393 810.2,1393.4 811.5,1393.3 812.8,1393.4 814,1392.1 815.2,1393 816.5,1391.5 817.8,1391.9 819,1391.7 820.2,1391.8 821.5,1391.2 822.8,1390.8 824,1390.4 825.2,1391.1 826.5,1389.4 827.8,1391.3 829,1390.3 830.2,1390.7 831.5,1389.8 832.8,1388.7 834,1388.8 835.2,1389.5 836.5,1388.3 837.8,1388.5 839,1388.7 840.2,1389.3 841.5,1388 842.8,1388.3 844,1387.3 845.2,1387.2 846.5,1387.6 847.8,1386.6 849,1386.5 850.2,1384.8 851.5,1385.2 852.8,1384.5 854,1385.3 855.2,1384.3 856.5,1383.8 857.8,1384.2 859,1383.3 860.2,1383 861.5,1382.8 862.8,1381.9 864,1382 865.2,1381.5 866.5,1379.3 867.8,1379.6 869,1380.2 870.2,1380 871.5,1379.2 872.8,1378.9 874,1377.6 875.2,1377.8 876.5,1377.2 877.8,1376 879,1373.6 880.2,1374 881.5,1372.9 882.8,1371.5 884,1370.9 885.2,1373 886.5,1372.7 887.8,1370.1 889,1368.9 890.2,1367.4 891.5,1365.7 892.8,1364.3 893,1362.6 894,1364.2 895.2,1364.8 896.5,1367.5 897.8,1370.3 899,1371 900.2,1371 901.5,1371.6 902.8,1373.1 904,1371.6 905.2,1372.5 906.5,1370.6 907.8,1370.7 909,1370.8 910.2,1369.3 911.5,1371 912.8,1371.7 914,1371.2 915.2,1373.9 916.5,1374.2 917.8,1374.9 919,1375.6 920.2,1376.7 921.5,1377.7 922.8,1377.2 924,1377 925.2,1376.5 926.5,1376.5 927.8,1378.7 929,1378.1 930.2,1378.9 931.5,1378.7 932.8,1379.3 934,1378.7 935.2,1378.8 936.5,1377.4 937.8,1378.9 939,1378.4 940.2,1378.7 941.5,1379.6 942.8,1378.1 944,1379.2 945.2,1377.2 946.5,1374.9 947.1,1374 947.8,1376 949,1378.2 950.2,1380 951.5,1380.9 952.8,1381.6 954,1381.9 955.2,1382.2 956.5,1381.6 957.8,1381.8 959,1382.5 960.2,1383 961.5,1384 962.8,1382.6 964,1383.1 965.2,1383.2 966.5,1383.4 967.8,1383.2 969,1384.3 970.2,1385.2 971.5,1385.5 972.8,1385.7 974,1386.3 975.2,1386.9 976.5,1385.3 977.8,1385.3 979,1386.4 980.2,1387.2 981.5,1386.4 982.8,1386.5 984,1388.7 985.2,1388.5 986.5,1388.9 987.8,1388.6 989,1388.7 990.2,1388.2 991.5,1388.7 992.8,1390.3 994,1389.9 995.2,1389.9 996.5,1390.9 997.8,1391.7 999,1391.9 1000.2,1391.3 1001.5,1391 1002.8,1391.6 1004,1392.2 1005.2,1391.4 1006.5,1391.5 1007.8,1392.2 1009,1392.7 1010.2,1392.6 1011.5,1392 1012.8,1392 1014,1393.9 1015.2,1393.2 1016.5,1393.2 1017.8,1392.6 1019,1393.8 1020.2,1392.3 1021.5,1389.8 1022.8,1387.4 1024,1383.7 1025.2,1380.5 1025.2,1381.4 1026.5,1382.8 1027.8,1388.2 1029,1390.8 1030.2,1393.2 1031.5,1394.6 1032.8,1395 1034,1395.6 1035.2,1396.8 1036.5,1397.1 1037.8,1397.1 1039,1397.2 1040.2,1398.1 1041.5,1397.9 1042.8,1397.1 1044,1396.9 1045.2,1397.2 1046.5,1397.3 1047.8,1396.8 1049,1397 1050.2,1398.4 1051.5,1399.4 1052.8,1399 1054,1399.8 1055.2,1400.3 1056.5,1400.1 1057.8,1400.2 1059,1401.3 1060.2,1402.9 1061.5,1401.8 1062.8,1402.2 1064,1403.2 1065.2,1403.1 1066.5,1403 1067.8,1404.2 1069,1403.5 1070.2,1403.4 1071.5,1404.9 1072.8,1404.6 1074,1406 1075.2,1406.5 1076.5,1406.2 1077.8,1406.9 1079,1407.2 1080.2,1407.5 1081.5,1408.4 1082.8,1408.1 1084,1408.1 1085.2,1407.1 1086.5,1407 1087.8,1405.8 1089,1405 1090.2,1404.3 1091.5,1403.5 1092.8,1402.2 1094,1398.6 1095.2,1393.2 1096.5,1387.8 1097.1,1387.5 1097.8,1389.4 1099,1395.4 1100.2,1400.7 1101.5,1403.6 1102.8,1406.5 1104,1407.5 1105.2,1408.2 1106.5,1409 1107.8,1407.8 1109,1407.6 1110.2,1409.6 1111.5,1408.4 1112.8,1409.1 1114,1409.3 1115.2,1409.1 1116.5,1410.5 1117.8,1409.2 1119,1409.9 1120.2,1409.4 1121.5,1410.4 1122.8,1410.5 1124,1410.6 1125.2,1411.2 1126.5,1412.2 1127.8,1412.1 1129,1412.2 1130.2,1411.9 1131.5,1411.9 1132.8,1413 1134,1412.4 1135.2,1411.6 1136.5,1411.8 1137.8,1412.3 1139,1413.2 1140.2,1411.9 1141.5,1413.2 1142.8,1413.5 1144,1413.3 1145.2,1413 1146.5,1413.8 1147.8,1414 1149,1413.8 1150.2,1414.2 1151.5,1414.1 1152.8,1413.2 1154,1413.4 1155.2,1413.2 1156.5,1413.8 1157.4,1413.4 1157.8,1414.2 1159,1415 1160.2,1414.4 1161.5,1414.9 1162.8,1415.8 1164,1416.1 1165.2,1413.6 1166.5,1415.1 1167.8,1414.3 1169,1415 1170.2,1415.3 1171.5,1415.9 1172.8,1417.1 1174,1415.7 1175.2,1416.7 1176.5,1417.3 1177.8,1417.6 1179,1417.2 1180.2,1417.6 1181.5,1418 1182.8,1417.8 1184,1418.2 1185.2,1418.3 1186.5,1418 1187.8,1419.5 1189,1418.3 1190.2,1419.8 1191.5,1420.3 1192.8,1420.7 1194,1420.2 1195.2,1420.4 1196.5,1420.4 1197.8,1421 1199,1419.3 1200.2,1419.5 1201.5,1420.8 1202.8,1420.4 1204,1420.4 1205.2,1420.5 1206.5,1420.6 1207.8,1420.9 1209,1421.4 1210.2,1420 1211.5,1420.1 1212.8,1420.2 1214,1420.6 1215.2,1420.7 1216.5,1420 1217.8,1419.8 1219,1420.1 1220.2,1420.3 1221.5,1420.2 1222.8,1420.3 1224,1420.7 1225.2,1420.9 1226.5,1420.8 1227.8,1421 1229,1420.8 1230.2,1420.7 1231.5,1418.5 1232.8,1417.2 1234,1415.4 1235.2,1413.5 1236.2,1412.6 1236.5,1412.9 1237.8,1413.6 1239,1414.1 1240.2,1413.9 1241.5,1415.3 1242.8,1417 1244,1417.5 1245.2,1418.5 1246.5,1418.7 1247.8,1418.6 1249,1419.8 1250.2,1419.1 1251.5,1419.7 1252.8,1419.9 1254,1420.4 1255.2,1421.3 1256.5,1420.9 1257.8,1421.5 1259,1421.3 1260.2,1421.1 1261.5,1421 1262.8,1421.3 1264,1421.4 1265.2,1421.4 1266.5,1421.8 1267.8,1421.5 1269,1421 1270.2,1420.9 1271.5,1420.3 1272.8,1420.8 1274,1420.9 1275.2,1421.1 1276.5,1419.8 1277.8,1420.6 1279,1420.5 1280.2,1420.5 1281.5,1419.8 1282.8,1419.5 1284,1419.8 1285.2,1418.6 1286.5,1416.6 1287.8,1413.3 1289,1409 1290.2,1402.5 1291.3,1399.5 1291.5,1399.9 1292.8,1403.9 1294,1411.3 1295.2,1415.2 1296.5,1417.1 1297.8,1419.2 1299,1420.1 1300.2,1420.7 1301.5,1421.1 1302.8,1421.9 1304,1422 1305.2,1422.2 1306.5,1421 1307.8,1421.5 1309,1421.7 1310.2,1422 1311.5,1423.1 1312.8,1423 1314,1422.9 1315.2,1422.4 1316.5,1422.8 1317.8,1422.8 1319,1422.1 1320.2,1421.9 1321.5,1422.5 1322.8,1421.2 1324,1421 1325.2,1420.9 1326.5,1421.2 1327.8,1421.8 1329,1422 1330.2,1422.1 1331.5,1422.2 1332.8,1422.4 1334,1422.4 1335.2,1421.5 1336.5,1421.7 1337.8,1421.4 1339,1421.5 1340.2,1421.6 1341.5,1420.5 1342.8,1420.5 1344,1419.7 1345.2,1420 1346.5,1418.8 1347.8,1417.2 1349,1416.1 1350.2,1414.8 1351.5,1414.5 1351.7,1414.3 1352.8,1414.5 1354,1415.2 1355.2,1416.1 1356.5,1417 1357.8,1419 1359,1419.4 1360.2,1420.5 1361.5,1421.5 1362.8,1420.5 1364,1421.5 1365.2,1422.9 1366.5,1422.8 1367.8,1423.1 1369,1423.4 1370.2,1422.7 1371.5,1423.2 1372.8,1422.5 1374,1422.7 1375.2,1422.9 1376.5,1422.1 1377.8,1422.4 1379,1421.9 1380.2,1422.4 1381.5,1423.2 1382.8,1423.1 1384,1423 1385.2,1423.1 1386.5,1423.6 1387.8,1423.4 1389,1423 1390.2,1422.8 1391.5,1423 1392.8,1422.7 1394,1422.2 1395.2,1421.5 1396.5,1422.5 1397.8,1422.2 1399,1422.2 1400.2,1421.9 1401.5,1422.7 1402.8,1421.7 1404,1422.1 1405.2,1421.3 1406.5,1422.7 1407.8,1422.7 1409,1422.8 1410.2,1423.5 1411.5,1422.9 1412.8,1424.3 1414,1423.3 1415.2,1423.1 1416.5,1423.6 1417.8,1423.2 1419,1424 1420.2,1424.1 1421.5,1423.8 1422.8,1424.4 1424,1423.4 1425.2,1424.8 1426.5,1424.8 1427.8,1423.5 1429,1424.3 1430.2,1423.6 1431.5,1423.2 1432.8,1422 1434,1423.2 1435.2,1423.4 1436.5,1422.9 1437.8,1424.2 1439,1424.1 1440.2,1424.2 1441.5,1424.5 1442.8,1424 1444,1424.4 1445.2,1423.7 1446.5,1423.6 1447.8,1424 1449,1423.8 1450.2,1423.9 1451.5,1423.6 1452.8,1424.8 1454,1424.1 1455.2,1424.1 1456.5,1424.9 1457.8,1425.2 1459,1425.1 1460.2,1424.6 1461.5,1424.7 1462.8,1424.4 1464,1424 1465.2,1423.5 1466.5,1423.2 1467.8,1423.3 1469,1423.4 1470.2,1424.6 1471.5,1425.2 1472.8,1425.8 1474,1426 1475.2,1425.8 1476.5,1426.7 1477.8,1425.8 1479,1426 1480.2,1424.8 1481.5,1425.7 1482.8,1425.3 1484,1424.1 1485.2,1425.6 1486.5,1425.4 1487.8,1424.4 1489,1424.6 1490.2,1423.9 1491.5,1424.1 1492.8,1424.4 1494,1424.2 1495.2,1424.1 1496.5,1424.2 1497.8,1424.1 1499,1424.6 1500.2,1424.2 1501.5,1423.9 1502.8,1423.2 1504,1424.8 1505.2,1424.6 1506.5,1423.7 1507.8,1424.4 1509,1424.8 1510.2,1426.4 1511.5,1426.1 1512.8,1426.4 1514,1425.9 1515.2,1426.1 1516.5,1426.2 1517.8,1426 1519,1425.9 1520.2,1425.2 1521.5,1423.6 1522.8,1425.8 1524,1425.5 1525.2,1425.6 1526.5,1425.7 1527.8,1425.4 1529,1424.9 1530.2,1423.9 1531.5,1424.8 1532.8,1424.8 1534,1424.8 1535.2,1424.7 1536.5,1425 1537.8,1425.7 1539,1425.4 1540.2,1425.1 1541.5,1425.6 1542.8,1425.2 1544,1424.9 1545.2,1425.6 1546.5,1426.1 1547.8,1426.5 1549,1425.8 1550.2,1425.5 1551.5,1425.5 1552.8,1425.1 1554,1424.7 1555.2,1425.2 1556.5,1425.9 1557.8,1424.7 1559,1426.1 1560.2,1426.6 1561.5,1425.8 1562.8,1426.6 1564,1425.3 1565.2,1426.1 1566.5,1425.7 1567.8,1425.4 1569,1425.4 1570.2,1425.3 1571.5,1426 1572.8,1424.6 1574,1424.4 1575.2,1424.5 1576.5,1425.1 1577.8,1424.4 1579,1425.6 1580.2,1424.4 1581.5,1424.2 1582.8,1425.3 1584,1425.7 1585.2,1425.2 1586.5,1425.7 1587.8,1426.2 1589,1425.2 1590.2,1425.4 1591.5,1424.5 1592.8,1425.3 1594,1424.7 1595.2,1425.2 1596.5,1425.2 1597.8,1425.3 1599,1425.8 1600.2,1425.9 1601.5,1425.5 1602.8,1424.8 1604,1425.4 1605.2,1425.6 1606.5,1425.7 1607.8,1425.5 1609,1426 1610.2,1425.4 1611.5,1426.3 1612.8,1426.7 1614,1427.1 1615.2,1426.4 1616.5,1427.6 1617.8,1427.5 1619,1426.9 1620.2,1426.7 1621.5,1427.4 1622.8,1428.2 1624,1427.9 1625.2,1427.7 1626.5,1427.6 1627.8,1426.8 1629,1426.4 1630.2,1427 1631.5,1426.1 1632.8,1425.8 1634,1426.7 1635.2,1427.6 1636.5,1427.1 1637.8,1426 1639,1427.7 1640.2,1427 1641.5,1427.5 1642.8,1428.4 1644,1427.9 1645.2,1427.7 1646.5,1428.1 1647.8,1427.5 1649,1427.6 1650.2,1426.9 1651.5,1427.3 1652.8,1427.7 1654,1428 1655.2,1428.1 1656.5,1427.9 1657.8,1428.3 1659,1428.3 1660.2,1428 1661.5,1427.7 1662.8,1429.4 1664,1429.7 1665.2,1429.6 1666.5,1428.8 1667.8,1428.1 1669,1428.3 1670.2,1428.5 1671.5,1427.9 1672.8,1429.2 1674,1428.4 1675.2,1427.9 1676.5,1428.4 1677.8,1428.7 1679,1429 1680.2,1428.4 1681.5,1428.3 1682.8,1429.2 1684,1428.3 1685.2,1428.8 1686.5,1428.5 1687.8,1429.5 1689,1428.8 1690.2,1429.9 1691.5,1428.6 1692.8,1428.8 1694,1429 1695.2,1427.6 1696.5,1428.6 1697.8,1428.9 1699,1429.2 1700.2,1429.5 1701.5,1429 1702.8,1430 1704,1429 1705.2,1429 1706.5,1428.3 1707.8,1428.1 1709,1428.9 1710.2,1428.7 1711.5,1429.5 1712.8,1428.9 1714,1429.7 1715.2,1430.2 1716.5,1429.6 1717.8,1429.4 1719,1429.3 1720.2,1429.3 1721.5,1429.9 1722.8,1429.5 1724,1429.9 1725.2,1429.8 1726.5,1429.8 1727.8,1430.1 1729,1429.6 1730.2,1429.6 1731.5,1428.9 1732.8,1428.8 1734,1428.6 1735.2,1429 1736.5,1428.9 1737.8,1429 1739,1428.9 1740.2,1429.2 1741.5,1428.3 1742.8,1428.2 1744,1428.4 1745.2,1427.9 1746.5,1427.6 1747.8,1427.3 1749,1426 1749.9,1427.4 1750.2,1426.9 1751.5,1427.3 1752.8,1427.3 1754,1427.7 1755.2,1427.6 1756.5,1428.3 1757.8,1428.9 1759,1428 1760.2,1428.8 1761.5,1429.1 1762.8,1430 1764,1429.1 1765.2,1429.3 1766.5,1430 1767.8,1429.4 1769,1429.7 1770.2,1429.4 1771.5,1430 1772.8,1430.4 1774,1430.9 1775.2,1431.5 1776.5,1431.7 1777.8,1431.6 1779,1431.5 1780.2,1431.7 1781.5,1431.4 1782.8,1431 1784,1431 1785.2,1430.2 1786.5,1430 1787.8,1430 1789,1429.4 1790.2,1430.1 1791.5,1430.6 1792.8,1430.1 1794,1431.1 1795.2,1430.6 1796.5,1430 1797.8,1430.5 1799,1430.4 1800.2,1430.6 1801.5,1430.6 1802.8,1430.9 1804,1430.6 1805.2,1431.3 1806.5,1431.2 1807.8,1431.3 1809,1431.6 1810.2,1431 1811.5,1431.9 1812.8,1430.7 1814,1430.5 1815.2,1430.9 1816.5,1431.7 1817.8,1432 1819,1431.7 1820.2,1431.2 1821.5,1430.8 1822.8,1431.1 1824,1432.1 1825.2,1431 1826.5,1431.4 1827.8,1431.4 1829,1431.2 1830.2,1431.5 1831.5,1430.7 1832.8,1430.9 1834,1431.1 1835.2,1431 1836.5,1431.8 1837.8,1431.9 1839,1432.1 1840.2,1431.9 1841.5,1431.5 1842.8,1432.7 1844,1432.1 1845.2,1432.3 1846.5,1431.6 1847.8,1431.7 1849,1431.7 1850.2,1432.1 1851.5,1432 1852.8,1432.2 1854,1431.5 1855.2,1431.9 1856.5,1431.9 1857.8,1431.9 1859,1431.7 1860.2,1432.3 1861.5,1432.4 1862.8,1432.5 1864,1433 1865.2,1432.1 1866.5,1432.4 1867.8,1432.1 1869,1432.4 1870.2,1431.1 1871.5,1430.5 1872.8,1430.2 1873.8,1430.6 1874,1430.3 1875.2,1430.9 1876.5,1432.3 1877.8,1431.7 1879,1431.7 1880.2,1431.3 1881.5,1431.8 1882.8,1431.6 1884,1432.8 1885.2,1432.4 1886.5,1432.8 1887.8,1432.9 1889,1432.9 1890.2,1433.1 1891.5,1433.2 1892.8,1433.6 1894,1434 1895.2,1433.4 1896.5,1432.8 1897.8,1432.7 1899,1432 1900.2,1432.6 1901.5,1432.6 1902.8,1432.5 1904,1432.7 1905.2,1432.3 1906.5,1433.1 1907.8,1433.2 1909,1432.9 1910.2,1433.7 1911.5,1432.4 1912.8,1432.7 1914,1432.7 1915.2,1433.3 1916.5,1432.9 1917.8,1432.9 1919,1433.2 1920.2,1433.8 1921.5,1434 1922.8,1434.1 1924,1434.8 1925.2,1434.2 1926.5,1435.2 1927.8,1434.6 1929,1434.1 1930.2,1434.1 1931.5,1434 1932.8,1433.5 1934,1433.8 1935.2,1433.8 1936.5,1433.8 1937.8,1433 1939,1433 1940.2,1433.3 1941.5,1434.5 1942.8,1433.8 1944,1433.7 1945.2,1434.8 1946.5,1434.5 1947.8,1433.5 1949,1434 1950.2,1434.1 1951.5,1434.5 1952.8,1433.9 1954,1433.8 1955.2,1434.5 1956.5,1433.8 1957.8,1434 1959,1433.4 1960.2,1432.9 1961.5,1433.9 1962.8,1434.1 1964,1434.2 1965.2,1433.8 1966.5,1434.1 1967.8,1434.4 1969,1434.3 1970.2,1434.7 1971.5,1434.4 1972.8,1434.6 1974,1433.9 1975.2,1433.9 1976.5,1433.3 1977.8,1430.9 1979,1429.2 1980.2,1427.1 1981.5,1425.8 1982.2,1425.6 1982.8,1426 1984,1427 1985.2,1428.2 1986.5,1429.8 1987.8,1429.7 1989,1431.9 1990.2,1432.5 1991.5,1432.9 1992.8,1433.8 1994,1433.7 1995.2,1434.1 1996.5,1434.6 1997.8,1434.5 1999,1435.2 2000.2,1434.2 2001.5,1434.5 2002.8,1434.3 2004,1434.8 2005.2,1434.4 2006.5,1435.1 2007.8,1435.2 2009,1434.7 2010.2,1435.4 2011.5,1435.3 2012.8,1435.2 2014,1435.9 2015.2,1434.4 2016.5,1435.1 2017.8,1435.7 2019,1435.2 2020.2,1435.8 2021.5,1434.4 2022.8,1434.6 2024,1435 2025.2,1434.7 2026.5,1434.8 2027.8,1435.3 2029,1435.5 2030.2,1435 2031.5,1435 2032.8,1434.8 2034,1435.2 2035.2,1434.9 2036.5,1434.7 2037.8,1435.7 2039,1434.8 2040.2,1434.8 2041.5,1435 2042.8,1435.5 2044,1436.2 2045.2,1436 2046.5,1435.6 2047.8,1435.9 2049,1435.8 2050.2,1436.2 2051.5,1435.8 2052.8,1436.1 2054,1436.4 2055.2,1436.4 2056.5,1436.5 2057.8,1436.5 2059,1436 2060.2,1436.6 2061.5,1435.8 2062.8,1435.8 2064,1435.4 2065.2,1435.8 2066.5,1435.2 2067.8,1434.8 2069,1435.6 2070.2,1434.6 2071.5,1435.2 2072.8,1435 2074,1435.4 2075.2,1436 2076.5,1435.7 2077.8,1436 2079,1435.9 2080.2,1436.2 2081.5,1435.7 2082.8,1436 2084,1435.9 2085.2,1435.8 2086.5,1435.6 2087.8,1437.2 2089,1437.8 2090.2,1437.4 2091.5,1437 2092.8,1436.8 2094,1437 2095.2,1436.5 2096.5,1436 2097.8,1436.6 2099,1436.2 2100.2,1436.4 2101.5,1436.4 2102.8,1436.4 2104,1437 2105.2,1436 2106.5,1436.2 2107.8,1436.2 2109,1436.4 2110.2,1436.5 2111.5,1436.2 2112.8,1435.5 2114,1435.7 2115.2,1435.6 2116.5,1434.7 2117.5,1435.1 2117.8,1435.2 2119,1435.1 2120.2,1434.8 2121.5,1434.2 2122.8,1434 2124,1435.5 2125.2,1435.4 2126.5,1435.4 2127.8,1435.8 2129,1435.9 2130.2,1435.6 2131.5,1435 2132.8,1435.4 2134,1435.8 2135.2,1436 2136.5,1437.6 2137.8,1437.6 2139,1438.2 2140.2,1438.2 2141.5,1437.3 2142.8,1437 2144,1436.4 2145.2,1436.7 2146.5,1436.6 2147.8,1437.2 2149,1437.5 2150.2,1437.5 2151.5,1437.6 2152.8,1437.7 2154,1438 2155.2,1437.9 2156.5,1438.1 2157.8,1437.7 2159,1437.9 2160.2,1438.3 2161.5,1438.7 2162.8,1438.7 2164,1438.7 2165.2,1438.6 2166.5,1438.6 2167.8,1439 2169,1438 2170.2,1437.3 2171.5,1437.3 2172.8,1438.3 2174,1437.5 2175.2,1438 2176.5,1437.8 2177.8,1439.4 2179,1438.3 2180.2,1437.5 2181.5,1438.2 2182.8,1438.2 2184,1438.7 2185.2,1437.9 2186.5,1437.5 2187.8,1437.6 2189,1437.8 2190.2,1437.4 2191.5,1438.2 2192.8,1439 2194,1438.2 2195.2,1438.5 2196.5,1439 2197.8,1438.7 2199,1438.6 2200.2,1438.3 2201.5,1439.2 2202.8,1439.1 2204,1438.5 2205.2,1438.4 2206.5,1439.1 2207.8,1438.5 2209,1438.7 2210.2,1438.7 2211.5,1438.5 2212.8,1439.1 2214,1438.2 2215.2,1439.3 2216.5,1438.6 2217.8,1439.2 2219,1438.9 2220.2,1438 2221.5,1438.1 2222.8,1437.6 2224,1438 2225.2,1438.2 2226.5,1438.2 2227.8,1438.3 2229,1438.6 2230.2,1438.9 2231.5,1438.9 2232.8,1439 2234,1438.5 2235.2,1439.1 2236.5,1439.2 2237.8,1438.9 2239,1438.8 2240.2,1439.3 2241.5,1439.2 2242.8,1438.7 2244,1438.6 2245.2,1438.8 2246.5,1440 2247.8,1439.9 2249,1439.9 2250.2,1440 2251.5,1439.6 2252.8,1439.4 2254,1439.3 2255.2,1439.4 2256.5,1439.8 2257.8,1440.6 2259,1439.8 2260.2,1440.1 2261.5,1439.7 2262.8,1439.9 2264,1440.3 2265.2,1439.6 2266.5,1440.2 2267.8,1439.9 2269,1439.6 2270.2,1440.1 2271.5,1439 2272.8,1439.1 2274,1439.5 2275.2,1439.1 2276.5,1438.3 2277.8,1439.7 2279,1440 2280.2,1439.8 2281.5,1439.1 2282.8,1439.6 2284,1439.6 2285.2,1439.4 2286.5,1439.4 2287.8,1440.4 2289,1439.6 2290.2,1439.5 2291.5,1439.1 2292.8,1438.4 2294,1438.5 2295.2,1438.3 2296.5,1438.7 2297.8,1438.5 2299,1439.2 2300.2,1439.4 2301.5,1438.9 2302.8,1440.2 2304,1439.3 2305.2,1438.9 2306.5,1439.3 2307.8,1439.8 2308.5,1438.7"/>
<polyline class="c" stroke="#ff8000" points="41.5,1227.1 42.8,1228 44,1229.5 45.2,1229.4 46.5,1230.4 47.8,1230.4 49,1233 50.2,1232.8 51.5,1233.5 52.8,1233.9 54,1234.8 55.2,1234.9 56.5,1234.6 57.8,1235.3 59,1236.5 60.2,1238.1 61.5,1239.6 62.8,1237.7 64,1238.9 65.2,1238.1 66.5,1240.5 67.8,1238.9 69,1240.2 70.2,1242.3 71.5,1244.2 72.8,1243.7 74,1243.9 75.2,1244.3 76.5,1245.1 77.8,1245.1 79,1246.2 80.2,1246.6 81.5,1247 82.8,1246.6 84,1247.7 85.2,1248.6 86.5,1248 87.8,1247.2 89,1249 90.2,1249.6 91.5,1250.2 92.8,1250.9 94,1250.7 95.2,1251.8 96.5,1252.6 97.8,1254 99,1254.3 100.2,1255.5 101.5,1256.9 102.8,1257.6 104,1257.7 105.2,1257.7 106.5,1258.3 107.8,1257.6 109,1258.4 110.2,1258.1 111.5,1259.4 112.8,1259.1 114,1259.9 115.2,1259.7 116.5,1261.2 117.8,1262.5 119,1263 120.2,1262.6 121.5,1262.8 122.8,1262.6 124,1262.2 125.2,1263.1 126.5,1261.9 127.8,1263.8 129,1264.4 130.2,1264.7 131.5,1263 132.8,1262.9 134,1265.2 135.2,1264.6 136.5,1264.9 137.8,1265 139,1266.6 140.2,1267.1 141.5,1268.3 142.8,1269.2 144,1270.5 145.2,1270.1 146.5,1269.4 147.8,1269.9 149,1270.4 150.2,1272.1 151.5,1269.7 152.8,1271.6 154,1271.1 155.2,1271.5 156.5,1273 157.8,1271.4 159,1272.5 160.2,1272.9 161.5,1273 162.8,1273.6 164,1274.8 165.2,1275 166.5,1276.1 167.8,1275.7 169,1277 170.2,1277 171.5,1276.8 172.8,1275.6 174,1277.1 175.2,1278 176.5,1277.5 177.8,1277.5 179,1277.3 180.2,1278.2 181.5,1278.9 182.8,1279.8 184,1279.7 185.2,1280.3 186.5,1281.2 187.8,1282.3 189,1281.8 190.2,1281.1 191.5,1281.4 192.8,1280.9 194,1281.4 195.2,1283 196.5,1282.9 197.8,1282.4 199,1283.1 200.2,1283.5 201.5,1284.3 202.8,1282.5 204,1283.2 205.2,1283.2 206.5,1284.2 207.8,1283.3 209,1283.6 210.2,1283.4 211.5,1283.7 212.8,1285.4 214,1284.9 215.2,1285.9 216.5,1286.5 217.8,1286.4 219,1287.7 220.2,1286.6 221.5,1287.6 222.8,1287.4 224,1288.3 225.2,1288.6 226.5,1287.9 227.8,1288.1 229,1289.6 230.2,1289.2 231.5,1288.4 232.8,1288.9 234,1289 235.2,1288.3 236.5,1287.7 237.8,1287.4 239,1288.6 240.2,1288.6 241.5,1290.5 242.8,1290.8 244,1290.9 245.2,1291.8 246.5,1292 247.8,1291.9 249,1292.4 250.2,1292 251.5,1292.4 252.8,1291.2 254,1291.6 255.2,1291.7 256.5,1290.9 257.8,1291.9 259,1292.2 260.2,1292.6 261.5,1291.8 262.8,1292.9 264,1292.7 265.2,1292.6 266.5,1292.3 267.8,1291.3 269,1292.4 270.2,1291.5 271.5,1291.8 272.8,1292.8 274,1291.9 275.2,1293.7 276.5,1293.2 277.8,1294.2 279,1294.8 280.2,1293.8 281.5,1293.9 282.8,1293.6 284,1293.9 285.2,1294.1 286.5,1293.3 287.8,1294.7 289,1295.3 290.2,1294.8 291.5,1294.1 292.8,1295.5 294,1293.9 295.2,1294.3 296.5,1294.3 297.8,1293.1 299,1294.6 300.2,1293.1 301.5,1293.7 302.8,1293.7 304,1293.9 305.2,1294.2 306.5,1294.8 307.8,1294.6 309,1294.6 310.2,1295.5 311.5,1294.6 312.8,1294.4 314,1294.3 315.2,1294.1 316.5,1294.4 317.8,1293.9 319,1294.1 320.2,1295.1 321.5,1295.1 322.8,1294.7 324,1294.6 325.2,1295.4 326.5,1295.8 327.8,1295.4 329,1295.9 330.2,1295.5 331.5,1295.2 332.8,1296 334,1296.1 335.2,1295.9 336.5,1295.6 337.8,1294.9 339,1296.8 340.2,1294.9 341.5,1295 342.8,1294.9 344,1294.4 345.2,1294.4 346.5,1294.3 347.8,1294.1 349,1294.1 350.2,1295.2 351.5,1295.5 352.8,1294.8 354,1295.6 355.2,1296.4 356.5,1296 357.8,1296.8 359,1296.8 360.2,1295.5 361.5,1294.8 362.8,1295.5 364,1296 365.2,1295.3 366.5,1296.1 367.8,1295.9 369,1296.2 370.2,1295.5 371.5,1295.7 372.8,1296 374,1294.5 375.2,1295.1 376.5,1295.3 377.8,1295.5 379,1295.3 380.2,1294 381.5,1295.2 382.8,1295.9 384,1295.8 385.2,1296.1 386.5,1295.7 387.8,1295.4 389,1295.5 390.2,1295.2 391.5,1295.4 392.8,1295.5 394,1295.8 395.2,1295.7 396.5,1295.8 397.8,1295.7 399,1296.2 400.2,1295.9 401.5,1296 402.8,1295.1 404,1295 405.2,1295.9 406.5,1294.1 407.8,1295.1 409,1294.7 410.2,1295.5 411.5,1295.4 412.8,1294.7 414,1294.6 415.2,1294.4 416.5,1294.2 417.8,1294.6 419,1294.7 420.2,1294.4 421.5,1294.4 422.8,1293.7 424,1293.2 425.2,1292.7 426.5,1291.6 427.8,1292.7 429,1291.4 430.2,1290.3 431.5,1289.3 432.8,1287.6 434,1285.1 435.2,1282.5 436.5,1277.4 437.8,1267.7 439,1254.8 440.2,1244.5 440.7,1244.1 441.5,1249.7 442.8,1269 444,1281.9 445.2,1287.9 446.5,1291.2 447.8,1291.2 449,1291.3 450.2,1293.2 451.5,1292.6 452.8,1292.9 454,1293.1 455.2,1293 456.5,1293.1 457.8,1293.5 459,1292.7 460.2,1293 461.5,1293.5 462.8,1293.3 464,1293.3 465.2,1292.6 466.5,1292.8 467.8,1292.3 469,1293.5 470.2,1293.4 471.5,1293.3 472.8,1293.6 474,1293.1 475.2,1293.2 476.5,1293 477.8,1294.2 479,1293.6 480.2,1293.6 481.5,1294.3 482.8,1293.9 484,1294 485.2,1293.6 486.5,1293 487.8,1293.7 489,1294.5 490.2,1294.6 491.5,1294.4 492.8,1294 494,1294.4 495.2,1294 496.5,1293.6 497.8,1293.8 499,1292.1 500.2,1293.1 501.5,1293.5 502.8,1294.1 504,1294.2 505.2,1295 506.5,1294.4 507.8,1295.4 509,1294.2 510.2,1294.6 511.5,1292.9 512.8,1293.8 514,1293 515.2,1293 516.5,1293 517.8,1293.3 519,1293.9 520.2,1293.1 521.5,1292.4 522.8,1293 524,1293.3 525.2,1293.9 526.5,1293.6 527.8,1294.9 529,1293.2 530.2,1293.4 531.5,1293.3 532.8,1293.1 534,1294.6 535.2,1293.6 536.5,1293.5 537.8,1292.9 539,1292.6 540.2,1293.2 541.5,1291.8 542.8,1292.4 544,1293.2 545.2,1293 546.5,1293.4 547.8,1293.1 549,1293.7 550.2,1293.2 551.5,1293 552.8,1293.2 554,1292.4 555.2,1292.1 556.5,1292.9 557.8,1292.5 559,1293.3 560.2,1292.5 561.5,1291.4 562.8,1292 564,1291 565.2,1290.9 566.5,1291.1 567.8,1291.1 569,1291.4 570.2,1290.8 571.5,1290.9 572.8,1290.7 574,1290.8 575.2,1291.2 576.5,1292.4 577.8,1291.7 579,1291.2 580.2,1290.8 581.5,1290.6 582.8,1289.2 584,1288.8 585.2,1288.2 586.5,1287.9 587.8,1286.9 589,1285.6 590.2,1285.4 591.5,1281.7 592.8,1278.4 594,1276.2 595,1275.8 595.2,1275.4 596.5,1277.6 597.8,1282.5 599,1285 600.2,1286.7 601.5,1287 602.8,1287.9 604,1287.2 605.2,1288.7 606.5,1288.2 607.8,1288.4 609,1289.2 610.2,1290.2 611.5,1289.4 612.8,1289.2 614,1289.6 615.2,1290 616.5,1289.5 617.8,1288.2 619,1288.3 620.2,1287.9 621.5,1287.5 622.8,1288 624,1288 625.2,1288.5 626.5,1288.9 627.8,1288.7 629,1289.1 630.2,1289.3 631.5,1288.1 632.8,1288 634,1288.6 635.2,1288.1 636.5,1288.9 637.8,1289.1 639,1289.1 640.2,1290.1 641.5,1289.7 642.8,1288.5 644,1288.7 645.2,1288.5 646.5,1288.1 647.8,1287.4 649,1286.8 650.2,1286.1 651.5,1286.3 652.8,1286 654,1285.4 655.2,1286.9 656.5,1286.4 657.8,1286.7 659,1286.6 660.2,1286.3 661.5,1286.7 662.8,1287.1 664,1288.1 665.2,1287.2 666.5,1287.7 667.8,1288.1 669,1286.5 670.2,1286.6 671.5,1285.6 672.8,1285.6 674,1286.8 675.2,1286.3 676.5,1285.8 677.8,1286.8 679,1286.1 680.2,1286.2 681.5,1285.3 682.8,1285.2 684,1287.3 685.2,1285.8 686.5,1285.9 687.8,1285.5 689,1286.2 690.2,1284.8 691.5,1284.1 692.8,1284.3 694,1283.2 695.2,1284.7 696.5,1284.4 697.8,1285.1 699,1285.4 700.2,1285.2 701.5,1284.8 702.8,1284.4 704,1283.3 705.2,1284.7 706.5,1284.6 707.8,1284.8 709,1284.3 710.2,1285.3 711.5,1284.5 712.8,1284.4 714,1284.8 715.2,1285 716.5,1284.7 717.8,1285.3 719,1285 720.2,1284.6 721.5,1284.8 722.8,1284.7 724,1283.4 725.2,1284.9 726.5,1283.3 727.8,1282 729,1282 730.2,1283.3 731.5,1282.7 732.8,1283.3 734,1283.4 735.2,1283 736.5,1282.8 737.8,1282.3 739,1283.3 740.2,1282.3 741.5,1281.6 742.8,1282.7 744,1282.3 745.2,1282.7 746.5,1281.7 747.8,1281.3 749,1282.5 750.2,1281.6 751.5,1281.1 752.8,1280 754,1280.3 755.2,1279.6 756.5,1280.4 757.8,1279.6 759,1278.9 760.2,1280.1 761.5,1279.8 762.8,1279.1 764,1277.4 765.2,1276.9 766.5,1275.2 767.8,1270.1 769,1263.4 770.2,1254.1 771.5,1241.2 772.8,1229.3 773.9,1222.7 774,1222.5 775.2,1226.4 776.5,1233.9 777.8,1242 779,1242.5 780.2,1235.8 781.5,1217.1 782.8,1195.7 783.3,1192.5 784,1196.6 785.2,1218.8 786.5,1236.5 787.8,1245.7 789,1249.9 790.2,1253.2 791.5,1253.7 792.8,1251 794,1243.1 795.2,1228.3 796.5,1211.3 797.1,1208.2 797.8,1213.5 799,1235.4 800.2,1255.4 801.5,1265.6 802.8,1270.4 804,1272.7 805.2,1273.3 806.5,1274.6 807.8,1274.8 809,1275.1 810.2,1274.2 811.5,1274.7 812.8,1274.4 814,1275.1 815.2,1274 816.5,1273.9 817.8,1274.1 819,1273.9 820.2,1273.3 821.5,1273.7 822.8,1275.5 824,1274.8 825.2,1275.5 826.5,1274.6 827.8,1273.9 829,1273.5 830.2,1273.8 831.5,1272.6 832.8,1271.9 834,1271.8 835.2,1271 836.5,1271 837.8,1272.5 839,1271.7 840.2,1271.6 841.5,1272 842.8,1270.8 844,1271.1 845.2,1270.7 846.5,1270.6 847.8,1272.2 849,1270.2 850.2,1269.8 851.5,1269.6 852.8,1269 854,1269.2 855.2,1269.2 856.5,1266.6 857.8,1268 859,1267.8 860.2,1267 861.5,1266 862.8,1263.2 864,1263.7 865.2,1263.6 866.5,1263.6 867.8,1263.7 869,1263.1 870.2,1262.4 871.5,1263 872.8,1262.9 874,1264.3 875.2,1262.5 876.5,1260.8 877.8,1260.4 879,1259.5 880.2,1259.7 881.5,1258.9 882.8,1258.3 884,1258.1 885.2,1256.3 886.5,1254.2 887.8,1252.8 889,1250 890.2,1245 891.5,1240.4 892.8,1239.3 893.2,1237.9 894,1238.4 895.2,1242.1 896.5,1245.5 897.8,1249.4 899,1250.2 900.2,1253.4 901.5,1256 902.8,1256.6 904,1255.9 905.2,1255.1 906.5,1255.9 907.8,1256.6 909,1256.2 910.2,1257.3 911.5,1257.6 912.8,1258.1 914,1258.6 915.2,1259 916.5,1260.3 917.8,1261.7 919,1262.4 920.2,1261.9 921.5,1262 922.8,1263.3 924,1263.8 925.2,1264.2 926.5,1264.2 927.8,1264.5 929,1266.2 930.2,1264.9 931.5,1265.9 932.8,1265.4 934,1266.6 935.2,1266.5 936.5,1265.6 937.8,1265.4 939,1264.2 940.2,1265.8 941.5,1264.9 942.8,1262.6 944,1259.6 945.2,1255.9 946.5,1252.1 947.3,1249.8 947.8,1251.1 949,1257.2 950.2,1262.3 951.5,1265.1 952.8,1266 954,1267.9 955.2,1269.2 956.5,1268.3 957.8,1268.9 959,1268.8 960.2,1269.3 961.5,1269.5 962.8,1268.5 964,1269.5 965.2,1270.3 966.5,1270.5 967.8,1272.4 969,1271.5 970.2,1272.3 971.5,1274.3 972.8,1273.2 974,1274 975.2,1274.6 976.5,1273.8 977.8,1273.8 979,1273.5 980.2,1274.9 981.5,1274.2 982.8,1274.9 984,1275.5 985.2,1276.7 986.5,1275.5 987.8,1275.9 989,1277 990.2,1277.9 991.5,1278.1 992.8,1277.9 994,1278.5 995.2,1276.4 996.5,1277.2 997.8,1277.4 999,1278.6 1000.2,1279.4 1001.5,1279.3 1002.8,1278.6 1004,1279.5 1005.2,1280.3 1006.5,1280.1 1007.8,1279.5 1009,1279.3 1010.2,1281 1011.5,1280 1012.8,1281 1014,1282.1 1015.2,1280.6 1016.5,1280 1017.8,1279.8 1019,1279.9 1020.2,1277.9 1021.5,1275.7 1022.8,1269.5 1024,1259.9 1025.2,1253.5 1025.4,1253.6 1026.5,1257.9 1027.8,1266.2 1029,1275.3 1030.2,1279.2 1031.5,1282.7 1032.8,1284 1034,1284.7 1035.2,1284.9 1036.5,1285.8 1037.8,1286.5 1039,1285.1 1040.2,1286.3 1041.5,1286 1042.8,1286.8 1044,1286.8 1045.2,1286.9 1046.5,1288.1 1047.8,1286.9 1049,1288.4 1050.2,1288.5 1051.5,1288.7 1052.8,1289.2 1054,1290.8 1055.2,1288.9 1056.5,1288.7 1057.8,1289.8 1059,1289.1 1060.2,1289 1061.5,1289.4 1062.8,1288.8 1064,1290.2 1065.2,1290.1 1066.5,1291.9 1067.8,1290.7 1069,1290.5 1070.2,1290.4 1071.5,1290.6 1072.8,1290.7 1074,1290.5 1075.2,1290.7 1076.5,1292.4 1077.8,1292.7 1079,1291.1 1080.2,1290.2 1081.5,1290.8 1082.8,1290.9 1084,1290 1085.2,1290.6 1086.5,1291.8 1087.8,1290.2 1089,1291.1 1090.2,1290.5 1091.5,1287.5 1092.8,1284.3 1094,1278 1095.2,1269.1 1096.5,1257.6 1097.2,1254.7 1097.8,1256.7 1099,1268.9 1100.2,1278.4 1101.5,1285.3 1102.8,1288.2 1104,1290.2 1105.2,1292.1 1106.5,1293.1 1107.8,1295 1109,1295.7 1110.2,1295 1111.5,1294.8 1112.8,1295.2 1114,1294.9 1115.2,1294.4 1116.5,1294.1 1117.8,1294.6 1119,1294 1120.2,1295.4 1121.5,1296.4 1122.8,1296.7 1124,1297.8 1125.2,1298.2 1126.5,1298 1127.8,1298 1129,1298.3 1130.2,1298.5 1131.5,1298 1132.8,1298.6 1134,1299.3 1135.2,1298 1136.5,1297.6 1137.8,1297.8 1139,1298.1 1140.2,1298.1 1141.5,1298.2 1142.8,1299.7 1144,1299.7 1145.2,1299 1146.5,1298.8 1147.8,1298.3 1149,1298.9 1150.2,1297.9 1151.5,1298 1152.8,1296.9 1154,1296.5 1155.2,1294.6 1156.5,1293.2 1157.6,1292.5 1157.8,1293.7 1159,1293.9 1160.2,1297.2 1161.5,1298.8 1162.8,1300.1 1164,1301.8 1165.2,1301.5 1166.5,1302.1 1167.8,1302.1 1169,1303.4 1170.2,1302.7 1171.5,1303.4 1172.8,1303.8 1174,1303.9 1175.2,1303.4 1176.5,1303.9 1177.8,1304.3 1179,1304.1 1180.2,1305.1 1181.5,1305.3 1182.8,1304 1184,1304.9 1185.2,1304.2 1186.5,1304.7 1187.8,1305 1189,1306.3 1190.2,1306.3 1191.5,1305.7 1192.8,1306.7 1194,1306.6 1195.2,1306.9 1196.5,1306.7 1197.8,1306.8 1199,1306.9 1200.2,1306.5 1201.5,1305.7 1202.8,1304.6 1204,1305.5 1205.2,1305.5 1206.5,1306.3 1207.8,1305.8 1209,1305.9 1210.2,1306.1 1211.5,1306.1 1212.8,1306.1 1214,1306.7 1215.2,1307.6 1216.5,1306.7 1217.8,1307.2 1219,1306.7 1220.2,1306.6 1221.5,1306.3 1222.8,1305.8 1224,1305.6 1225.2,1304.8 1226.5,1304.4 1227.8,1304.7 1229,1303.3 1230.2,1302.7 1231.5,1300.7 1232.8,1299.3 1234,1295.2 1235.2,1293.1 1236.4,1291.6 1236.5,1292.5 1237.8,1292.7 1239,1294.8 1240.2,1296.5 1241.5,1298.1 1242.8,1299 1244,1301.2 1245.2,1302 1246.5,1302.6 1247.8,1304.2 1249,1304.5 1250.2,1305.2 1251.5,1305.2 1252.8,1304.8 1254,1305.4 1255.2,1305 1256.5,1306.4 1257.8,1306.5 1259,1306.4 1260.2,1306.9 1261.5,1308.7 1262.8,1307.8 1264,1307.9 1265.2,1307.8 1266.5,1306.8 1267.8,1307.6 1269,1306.2 1270.2,1306.3 1271.5,1306.6 1272.8,1305.2 1274,1305.1 1275.2,1304.8 1276.5,1305.6 1277.8,1305.4 1279,1305.1 1280.2,1306.4 1281.5,1305.1 1282.8,1304.3 1284,1302.4 1285.2,1300.8 1286.5,1296.7 1287.8,1291.3 1289,1282.3 1290.2,1266.4 1291.5,1259.4 1291.5,1258.4 1292.8,1266.5 1294,1281.5 1295.2,1291.4 1296.5,1297.8 1297.8,1301.5 1299,1302.9 1300.2,1304.1 1301.5,1305.4 1302.8,1306.7 1304,1306.6 1305.2,1307.3 1306.5,1306.7 1307.8,1306.4 1309,1307.1 1310.2,1306.4 1311.5,1305.4 1312.8,1306.1 1314,1305 1315.2,1306 1316.5,1306.1 1317.8,1306.7 1319,1307.4 1320.2,1308.2 1321.5,1308.4 1322.8,1308.4 1324,1307.9 1325.2,1307.7 1326.5,1308 1327.8,1306.7 1329,1307.2 1330.2,1307.3 1331.5,1307.6 1332.8,1307.5 1334,1308 1335.2,1307.6 1336.5,1308 1337.8,1308.4 1339,1307.7 1340.2,1308.6 1341.5,1307.4 1342.8,1306.2 1344,1304.4 1345.2,1304.2 1346.5,1300.8 1347.8,1298.2 1349,1294.5 1350.2,1291.3 1351.5,1290.9 1351.8,1290.3 1352.8,1290.9 1354,1291.8 1355.2,1294.7 1356.5,1297.6 1357.8,1300.6 1359,1302.8 1360.2,1304.3 1361.5,1306.2 1362.8,1307.4 1364,1308.8 1365.2,1308.3 1366.5,1308.6 1367.8,1308.6 1369,1309.1 1370.2,1308.8 1371.5,1308.8 1372.8,1309.1 1374,1309 1375.2,1308.7 1376.5,1309 1377.8,1309.1 1379,1309.3 1380.2,1309.9 1381.5,1308.3 1382.8,1308.4 1384,1308.8 1385.2,1309.2 1386.5,1309.4 1387.8,1309.4 1389,1309.1 1390.2,1309.8 1391.5,1309.4 1392.8,1310.5 1394,1310.8 1395.2,1311.4 1396.5,1311.3 1397.8,1311.2 1399,1311.5 1400.2,1310.3 1401.5,1310.1 1402.8,1309 1404,1309.5 1405.2,1309.2 1406.5,1311.1 1407.8,1310.1 1409,1309.8 1410.2,1310.7 1411.5,1310.6 1412.8,1310.4 1414,1311.1 1415.2,1309.7 1416.5,1310.8 1417.8,1310.9 1419,1311.1 1420.2,1310.9 1421.5,1311.7 1422.8,1310.8 1424,1311.4 1425.2,1310 1426.5,1310.4 1427.8,1310.7 1429,1310.6 1430.2,1310.2 1431.5,1311.3 1432.8,1311.1 1434,1310.9 1435.2,1310.9 1436.5,1311.1 1437.8,1310.4 1439,1310.7 1440.2,1310 1441.5,1310.4 1442.8,1310.3 1444,1310.6 1445.2,1310.4 1446.5,1310.1 1447.8,1309.8 1449,1310.2 1450.2,1310.5 1451.5,1310.2 1452.8,1311 1454,1311.2 1455.2,1310.9 1456.5,1311.8 1457.8,1311.8 1459,1311.8 1460.2,1312 1461.5,1311.6 1462.8,1312.6 1464,1313.3 1465.2,1311.5 1466.5,1311.5 1467.8,1312 1469,1312 1470.2,1311.5 1471.5,1311.4 1472.8,1311.9 1474,1312.6 1475.2,1312.7 1476.5,1312.1 1477.8,1311.7 1479,1312 1480.2,1311.8 1481.5,1311.1 1482.8,1311.7 1484,1311.8 1485.2,1311.4 1486.5,1311.7 1487.8,1311.1 1489,1311.2 1490.2,1311.6 1491.5,1311.1 1492.8,1311.3 1494,1312 1495.2,1311.6 1496.5,1312 1497.8,1311.2 1499,1311.7 1500.2,1311.7 1501.5,1311.1 1502.8,1311.4 1504,1311.7 1505.2,1311.6 1506.5,1312.3 1507.8,1311.3 1509,1310.9 1510.2,1312.2 1511.5,1311.6 1512.8,1312.4 1514,1312.1 1515.2,1312.2 1516.5,1312.2 1517.8,1312.4 1519,1313.3 1520.2,1312.6 1521.5,1312.4 1522.8,1312.1 1524,1313.1 1525.2,1313.3 1526.5,1313.4 1527.8,1313.8 1529,1313 1530.2,1312.5 1531.5,1311.2 1532.8,1311.4 1534,1311.2 1535.2,1311 1536.5,1311 1537.8,1310.7 1539,1310.8 1540.2,1311.2 1541.5,1311 1542.8,1311 1544,1310.3 1545.2,1311 1546.5,1310.4 1547.8,1310.6 1549,1310 1549.6,1309.8 1550.2,1309.6 1551.5,1310.6 1552.8,1310.2 1554,1311.1 1555.2,1311.4 1556.5,1311.7 1557.8,1312 1559,1311.7 1560.2,1313 1561.5,1313.4 1562.8,1313.5 1564,1314.1 1565.2,1313.3 1566.5,1313 1567.8,1313.3 1569,1312.7 1570.2,1313.3 1571.5,1313.8 1572.8,1313.5 1574,1314.1 1575.2,1313 1576.5,1313.7 1577.8,1313.2 1579,1312.7 1580.2,1312.7 1581.5,1312.3 1582.8,1311.4 1584,1310.6 1585.2,1310.5 1586.5,1309.6 1587.8,1308.4 1589,1308.6 1590.2,1308.1 1590.4,1308.7 1591.5,1309 1592.8,1309.2 1594,1309.4 1595.2,1309.7 1596.5,1310.8 1597.8,1311.7 1599,1311.8 1600.2,1311.6 1601.5,1313.4 1602.8,1313 1604,1312.9 1605.2,1313.1 1606.5,1312.3 1607.8,1311.9 1609,1311.9 1610.2,1311.2 1611.5,1311.3 1612.8,1310.2 1614,1307.5 1615.2,1307.1 1615.8,1307.7 1616.5,1307.5 1617.8,1306.7 1619,1308 1620.2,1309.4 1621.5,1310.3 1622.8,1311.4 1624,1311.7 1625.2,1313 1626.5,1313.4 1627.8,1314.3 1629,1313.8 1630.2,1314.5 1631.5,1314 1632.8,1314 1634,1314.6 1635.2,1315.1 1636.5,1315.5 1637.8,1314.6 1639,1315.1 1640.2,1315.5 1641.5,1314.7 1642.8,1314.8 1644,1314.1 1645.2,1314.4 1646.5,1313.6 1647.8,1313.2 1649,1314.2 1650.2,1314.1 1651.5,1313.1 1652.8,1314.6 1654,1314.7 1655.2,1314.5 1656.5,1315.5 1657.8,1314.2 1659,1314.3 1660.2,1313.6 1661.5,1313.6 1662.8,1313.5 1664,1314.6 1665.2,1314.4 1666.5,1315.1 1667.8,1315.8 1669,1315.6 1670.2,1315.5 1671.5,1315.2 1672.8,1314.7 1674,1314 1675.2,1314.4 1676.5,1315.1 1677.8,1314.7 1679,1315.9 1680.2,1316.2 1681.5,1316.1 1682.8,1316.6 1684,1316.6 1685.2,1316.4 1686.5,1315.8 1687.8,1315.6 1689,1315.2 1690.2,1315.2 1691.5,1314.7 1692.8,1315.2 1694,1314.5 1695.2,1314.9 1696.5,1315.2 1697.8,1314.4 1699,1315 1700.2,1315.7 1701.5,1316.1 1702.8,1315 1704,1314.7 1705.2,1315.6 1706.5,1316.1 1707.8,1316.2 1709,1315.4 1710.2,1315.7 1711.5,1315.3 1712.8,1315.3 1714,1315.4 1715.2,1315.5 1716.5,1315.2 1717.8,1314.8 1719,1314.5 1720.2,1315.1 1721.5,1315.4 1722.8,1314.8 1724,1315.9 1725.2,1316.4 1726.5,1317.6 1727.8,1316.8 1729,1316.9 1730.2,1316.6 1731.5,1316.3 1732.8,1315.2 1734,1315.3 1735.2,1316.2 1736.5,1314.9 1737.8,1315.2 1739,1314.8 1740.2,1314.4 1741.5,1314.3 1742.8,1313 1744,1312.8 1745.2,1312.7 1746.5,1312.6 1747.8,1311.7 1749,1311.4 1750.1,1311.1 1750.2,1310.8 1751.5,1310.2 1752.8,1309.9 1754,1310.3 1755.2,1311.3 1756.5,1311.8 1757.8,1313 1759,1313.3 1760.2,1314 1761.5,1314.3 1762.8,1314.1 1764,1315 1765.2,1315 1766.5,1316.1 1767.8,1315.5 1769,1316.5 1770.2,1316.9 1771.5,1318.4 1772.8,1317.7 1774,1318.2 1775.2,1317.5 1776.5,1317.6 1777.8,1317.6 1779,1316.3 1780.2,1317.1 1781.5,1316.7 1782.8,1317.3 1784,1317.9 1785.2,1317.1 1786.5,1317.8 1787.8,1317.6 1789,1318 1790.2,1317.6 1791.5,1317.5 1792.8,1317.7 1794,1318.1 1795.2,1317.6 1796.5,1317.3 1797.8,1316.4 1799,1316.5 1800.2,1317 1801.5,1317.7 1802.8,1317.2 1804,1317.4 1805.2,1318.4 1806.5,1318.2 1807.8,1318.4 1809,1317.6 1810.2,1317.6 1811.5,1317 1812.8,1317.2 1814,1317.7 1815.2,1317.9 1816.5,1317.6 1817.8,1317.7 1819,1317.7 1820.2,1318.5 1821.5,1318 1822.8,1318.1 1824,1318.6 1825.2,1318.6 1826.5,1318.6 1827.8,1318.4 1829,1318.2 1830.2,1318.5 1831.5,1318 1832.8,1317.9 1834,1319.2 1835.2,1318.1 1836.5,1319 1837.8,1318.1 1839,1317.7 1840.2,1318.7 1841.5,1318.4 1842.8,1318.9 1844,1318.2 1845.2,1318.4 1846.5,1318.1 1847.8,1318.6 1849,1318.7 1850.2,1319.1 1851.5,1319.2 1852.8,1318.4 1854,1319 1855.2,1319 1856.5,1318.9 1857.8,1318.2 1859,1317.8 1860.2,1317.6 1861.5,1317.4 1862.8,1317.6 1864,1316.5 1865.2,1316.6 1866.5,1315.8 1867.8,1314.8 1869,1314.5 1870.2,1312.3 1871.5,1312.3 1872.8,1310.8 1873.9,1309.9 1874,1310.5 1875.2,1309.8 1876.5,1310.4 1877.8,1310.8 1879,1312.7 1880.2,1312.8 1881.5,1314.6 1882.8,1315.6 1884,1316.7 1885.2,1317.5 1886.5,1317.7 1887.8,1317.4 1889,1318.1 1890.2,1317.6 1891.5,1317.4 1892.8,1317.8 1894,1318.5 1895.2,1318.5 1896.5,1318.5 1897.8,1319.7 1899,1320 1900.2,1320.9 1901.5,1320 1902.8,1319.9 1904,1320.1 1905.2,1320.2 1906.5,1319.6 1907.8,1319.7 1909,1319 1910.2,1319.2 1911.5,1319.6 1912.8,1320.4 1914,1320.1 1915.2,1320.4 1916.5,1319.8 1917.8,1319.7 1919,1319.2 1920.2,1319.2 1921.5,1319.5 1922.8,1319.7 1924,1320.2 1925.2,1319.6 1926.5,1319.6 1927.8,1320.3 1929,1319.8 1930.2,1319.5 1931.5,1319.7 1932.8,1320.3 1934,1320.1 1935.2,1320.4 1936.5,1319.2 1937.8,1319.4 1939,1319.1 1940.2,1318.4 1941.5,1319.1 1942.8,1320.4 1944,1320.2 1945.2,1320.2 1946.5,1320.8 1947.8,1320.1 1949,1319.9 1950.2,1319.7 1951.5,1319 1952.8,1318.4 1954,1318.4 1955.2,1318.2 1956.5,1316.5 1957.8,1315.8 1959,1315.9 1959.4,1316 1960.2,1315.8 1961.5,1316.9 1962.8,1316.2 1964,1317.4 1965.2,1317.6 1966.5,1318.4 1967.8,1319.1 1969,1318.8 1970.2,1319.5 1971.5,1320.4 1972.8,1319.5 1974,1318.1 1975.2,1317.1 1976.5,1315.5 1977.8,1311.8 1979,1309.2 1980.2,1304.4 1981.5,1300.4 1982.4,1300 1982.8,1300.2 1984,1301 1985.2,1304.8 1986.5,1307.4 1987.8,1311.2 1989,1314.4 1990.2,1316.1 1991.5,1317.9 1992.8,1319 1994,1319.4 1995.2,1320.2 1996.5,1320.9 1997.8,1321 1999,1322.1 2000.2,1321.4 2001.5,1321.5 2002.8,1321 2004,1320.8 2005.2,1320.5 2006.5,1320.8 2007.8,1321 2009,1321.2 2010.2,1321.6 2011.5,1321.6 2012.8,1321.7 2014,1321.8 2015.2,1321.4 2016.5,1321.5 2017.8,1321.2 2019,1320.8 2020.2,1321.5 2021.5,1321.6 2022.8,1322 2024,1322.5 2025.2,1323.9 2026.5,1323 2027.8,1323.1 2029,1322.8 2030.2,1322.2 2031.5,1321.5 2032.8,1321.7 2034,1320.9 2035.2,1321.2 2036.5,1322.4 2037.8,1322.3 2039,1322.5 2040.2,1322.6 2041.5,1322.2 2042.8,1322.8 2044,1322 2045.2,1322.1 2046.5,1322.2 2047.8,1321.6 2049,1321.7 2050.2,1321.4 2051.5,1321.4 2052.8,1321.4 2054,1321.4 2055.2,1320.7 2056.5,1321.9 2057.8,1321.4 2059,1321.8 2060.2,1322.4 2061.5,1322.1 2062.8,1322.5 2064,1322.1 2065.2,1322 2066.5,1322.4 2067.8,1322.8 2069,1322.6 2070.2,1322.1 2071.5,1322.6 2072.8,1322.1 2074,1322.6 2075.2,1321.9 2076.5,1321.4 2077.8,1321.3 2079,1321.5 2080.2,1320.1 2081.5,1319.7 2082.8,1319.8 2084,1318.8 2084.9,1319 2085.2,1318 2086.5,1318.1 2087.8,1319 2089,1319.4 2090.2,1320 2091.5,1320.8 2092.8,1321.2 2094,1322.6 2095.2,1322.6 2096.5,1322.6 2097.8,1322.4 2099,1323.6 2100.2,1323 2101.5,1322.2 2102.8,1322.3 2104,1321.6 2105.2,1321.7 2106.5,1322 2107.8,1321.3 2109,1320.5 2110.2,1321.4 2111.5,1320.9 2112.8,1320.1 2114,1318.8 2115.2,1316.9 2116.5,1315.6 2117.7,1315.7 2117.8,1315.3 2119,1315.9 2120.2,1316.2 2121.5,1317 2122.8,1318.3 2124,1318.8 2125.2,1319.6 2126.5,1320.1 2127.8,1320.6 2129,1321.3 2130.2,1321.9 2131.5,1321.8 2132.8,1321.5 2134,1322.5 2135.2,1322.6 2136.5,1322.2 2137.8,1322.8 2139,1322.4 2140.2,1323.9 2141.5,1323.7 2142.8,1323.9 2144,1323.6 2145.2,1324.5 2146.5,1324.6 2147.8,1323.7 2149,1323.7 2150.2,1324.2 2151.5,1324.2 2152.8,1323.6 2154,1323.2 2155.2,1323.9 2156.5,1323.8 2157.8,1323.5 2159,1323.4 2160.2,1322.4 2161.5,1322.8 2162.8,1322.5 2164,1322.7 2165.2,1322.3 2166.5,1323.2 2167.8,1323.9 2169,1323.9 2170.2,1323.7 2171.5,1323.8 2172.8,1323.4 2174,1323.5 2175.2,1324.3 2176.5,1324.4 2177.8,1324.2 2179,1323.4 2180.2,1323.6 2181.5,1323.6 2182.8,1323 2184,1323.7 2185.2,1323.2 2186.5,1324 2187.8,1324 2189,1324.9 2190.2,1324.7 2191.5,1324.7 2192.8,1324.5 2194,1324.1 2195.2,1325.3 2196.5,1324.3 2197.8,1324.6 2199,1324.4 2200.2,1325.1 2201.5,1324.1 2202.8,1324.5 2204,1324.8 2205.2,1324.2 2206.5,1324.5 2207.8,1324 2209,1324.1 2210.2,1324.3 2211.5,1323.2 2212.8,1323.8 2214,1324 2215.2,1324.4 2216.5,1323.2 2217.8,1323.7 2219,1324.1 2220.2,1324.4 2221.5,1323.4 2222.8,1324.2 2224,1324.7 2225.2,1324.3 2226.5,1324.1 2227.8,1324.6 2229,1324.8 2230.2,1325.2 2231.5,1324.9 2232.8,1324.9 2234,1324.9 2235.2,1324.7 2236.5,1324.9 2237.8,1324.3 2239,1324.9 2240.2,1324.4 2241.5,1324.5 2242.8,1324.7 2244,1324.5 2245.2,1325.4 2246.5,1325.1 2247.8,1325.3 2249,1324.8 2250.2,1324.4 2251.5,1325 2252.8,1324.3 2254,1325.1 2255.2,1325.2 2256.5,1325.1 2257.8,1325.1 2259,1324.5 2260.2,1324.5 2261.5,1325.2 2262.8,1326 2264,1326 2265.2,1326.4 2266.5,1325.4 2267.8,1325.4 2269,1325.3 2270.2,1324.3 2271.5,1324.9 2272.8,1324.6 2274,1325.7 2275.2,1325.8 2276.5,1325.4 2277.8,1325.9 2279,1326 2280.2,1326.1 2281.5,1325.9 2282.8,1325.3 2284,1325.9 2285.2,1325.8 2286.5,1325.1 2287.8,1325.8 2289,1325.3 2290.2,1326 2291.5,1325.5 2292.8,1325.9 2294,1326.3 2295.2,1326.6 2296.5,1326.4 2297.8,1326.3 2299,1326 2300.2,1326.2 2301.5,1326.4 2302.8,1325.8 2304,1325.8 2305.2,1326.6 2306.5,1326 2307.8,1325.6 2308.5,1326.3"/>
<polyline class="c" stroke="#9460b6" points="41.5,1096.5 42.8,1096.9 44,1095.2 45.2,1097.1 46.5,1097.5 47.8,1096.4 49,1097.4 50.2,1098.1 51.5,1099.2 52.8,1099.2 54,1099.9 55.2,1097.8 56.5,1102.2 57.8,1101.2 59,1100.9 60.2,1102.3 61.5,1103.2 62.8,1103 64,1102.4 65.2,1104.4 66.5,1103.1 67.8,1105.1 69,1104.7 70.2,1103.4 71.5,1105.5 72.8,1105.9 74,1105 75.2,1105.4 76.5,1106.8 77.8,1108.3 79,1108.1 80.2,1106.1 81.5,1108.7 82.8,1106.9 84,1106.3 85.2,1110.4 86.5,1113.1 87.8,1111.3 89,1112.7 90.2,1110.9 91.5,1110.5 92.8,1112.4 94,1110.9 95.2,1111.9 96.5,1110.8 97.8,1111.2 99,1111.4 100.2,1114.5 101.5,1113.4 102.8,1115.9 104,1113.7 105.2,1115.6 106.5,1115.3 107.8,1115.8 109,1116 110.2,1116.2 111.5,1112.1 112.8,1115.1 114,1115.4 115.2,1113.3 116.5,1112.4 117.8,1115.6 119,1116.5 120.2,1115.9 121.5,1116.4 122.8,1116 124,1115.8 125.2,1117.7 126.5,1117.2 127.8,1118.7 129,1119.3 130.2,1119.7 131.5,1119 132.8,1120 134,1118.6 135.2,1119.9 136.5,1121 137.8,1122.3 139,1121.1 140.2,1121.5 141.5,1121.3 142.8,1121.7 144,1122.1 145.2,1122.1 146.5,1120.8 147.8,1119.9 149,1123.3 150.2,1122.2 151.5,1121.3 152.8,1123.7 154,1122.9 155.2,1123 156.5,1121.5 157.8,1127.5 159,1123.2 160.2,1126.8 161.5,1125.8 162.8,1125.9 164,1125.1 165.2,1126.6 166.5,1126.8 167.8,1125.9 169,1126.1 170.2,1126.6 171.5,1126 172.8,1125.4 174,1127.2 175.2,1125.9 176.5,1126.4 177.8,1126.8 179,1125.6 180.2,1127 181.5,1126.8 182.8,1128.2 184,1126.7 185.2,1125.8 186.5,1126.4 187.8,1127.6 189,1127.4 190.2,1128 191.5,1130.3 192.8,1129.5 194,1129 195.2,1129.9 196.5,1127.2 197.8,1128.8 199,1127.7 200.2,1128.5 201.5,1129.6 202.8,1129.4 204,1132.5 205.2,1132 206.5,1131.2 207.8,1131.8 209,1130.3 210.2,1131.9 211.5,1133 212.8,1133.2 214,1131.9 215.2,1133.8 216.5,1132.2 217.8,1132.7 219,1132.2 220.2,1133.3 221.5,1133.5 222.8,1133.9 224,1132.6 225.2,1133.6 226.5,1131.6 227.8,1131.7 229,1134.5 230.2,1133.3 231.5,1134 232.8,1134.6 234,1135.3 235.2,1133.2 236.5,1134 237.8,1133.2 239,1133.3 240.2,1131.9 241.5,1134.1 242.8,1134.7 244,1134.6 245.2,1135.3 246.5,1135.3 247.8,1134.8 249,1134.9 250.2,1135.3 251.5,1134.6 252.8,1135.6 254,1134.4 255.2,1134.7 256.5,1136.4 257.8,1137.2 259,1138.2 260.2,1135.4 261.5,1137.6 262.8,1139 264,1136 265.2,1138.4 266.5,1136.8 267.8,1137.2 269,1137.2 270.2,1136.3 271.5,1136.7 272.8,1135.6 274,1138.6 275.2,1137.3 276.5,1137.4 277.8,1136.7 279,1135.8 280.2,1137.5 281.5,1137.5 282.8,1138 284,1137.4 285.2,1136.9 286.5,1138.7 287.8,1137.4 289,1138.9 290.2,1137.2 291.5,1138 292.8,1137.7 294,1137 295.2,1138 296.5,1138.4 297.8,1139.4 299,1139.9 300.2,1139.1 301.5,1140.5 302.8,1139.2 304,1139.4 305.2,1139.2 306.5,1139.3 307.8,1138.6 309,1137.1 310.2,1137.8 311.5,1138.4 312.8,1137.7 314,1137.6 315.2,1138.7 316.5,1138.4 317.8,1139.7 319,1138.1 320.2,1138 321.5,1137.5 322.8,1138.5 324,1139.6 325.2,1138.3 326.5,1138.9 327.8,1138.4 329,1139.3 330.2,1139.5 331.5,1138.4 332.8,1138.5 334,1138.5 335.2,1136.8 336.5,1136.8 337.8,1139.6 339,1137.7 340.2,1139.9 341.5,1139.4 342.8,1137.9 344,1138.4 345.2,1138.2 346.5,1137 347.8,1137.5 349,1138.3 350.2,1138.3 351.5,1138.4 352.8,1137.9 354,1138.7 355.2,1138.5 356.5,1137.5 357.8,1137.3 359,1139.6 360.2,1139.9 361.5,1139.2 362.8,1138.3 364,1138.5 365.2,1137.1 366.5,1137.7 367.8,1136.8 369,1137.3 370.2,1137.3 371.5,1138 372.8,1137.3 374,1137.7 375.2,1138.4 376.5,1137.9 377.8,1137.2 379,1138.8 380.2,1139.8 381.5,1138.5 382.8,1138 384,1137.7 385.2,1137.9 386.5,1138.8 387.8,1138.1 389,1138.5 390.2,1138 391.5,1137.7 392.8,1138 394,1140.2 395.2,1138.3 396.5,1136.6 397.8,1136.9 399,1136.4 400.2,1135.9 401.5,1135.1 402.8,1136.8 404,1135.8 405.2,1136.9 406.5,1137.3 407.8,1136.9 409,1136.5 410.2,1137.5 411.5,1137.1 412.8,1136.7 414,1135.2 415.2,1135.4 416.5,1135.4 417.8,1136 419,1132.3 420.2,1134 421.5,1134.5 422.8,1133 424,1133.2 425.2,1134.4 426.5,1131.2 427.8,1131.4 429,1130.9 430.2,1131.1 431.5,1128 432.8,1123.6 434,1121.9 435.2,1114.3 436.5,1105.1 437.8,1088.2 439,1069.9 440.2,1052.5 440.5,1052.7 441.5,1067.1 442.8,1098.3 444,1118.7 445.2,1126.6 446.5,1129.5 447.8,1130.3 449,1133.5 450.2,1133 451.5,1132.8 452.8,1133.9 454,1132.6 455.2,1133.6 456.5,1132.5 457.8,1132.9 459,1133.9 460.2,1134.2 461.5,1135 462.8,1133.6 464,1134.1 465.2,1133.3 466.5,1131.8 467.8,1132.1 467.9,1130.6 469,1129.2 470.2,1130.8 471.5,1131.4 472.8,1132.5 474,1133.1 475.2,1132.8 476.5,1130.5 477.8,1130.6 479,1131.4 480.2,1130.2 481.5,1131 482.8,1131.8 484,1132.6 485.2,1132.5 486.5,1133.2 487.8,1132.7 489,1133.1 490.2,1130.8 491.5,1131.5 492.8,1131.1 494,1132.8 495.2,1133.9 496.5,1132.8 497.8,1132.7 499,1134 500.2,1132.3 501.5,1131.7 502.8,1131.6 504,1130.6 505.2,1130.2 506.5,1131 507.8,1129.4 509,1131.2 510.2,1128.9 511.5,1129.9 512.8,1130.5 514,1131.5 515.2,1131.4 516.5,1131.3 517.8,1132.5 519,1132.2 520.2,1131.7 521.5,1131.8 522.8,1130.4 524,1131.4 525.2,1130.4 526.5,1130.3 527.8,1130.1 529,1131.3 530.2,1131.3 531.5,1130.5 532.8,1130.9 534,1130.3 535.2,1129.6 536.5,1130.1 537.8,1129.3 539,1130.8 540.2,1131.4 541.5,1130.2 542.8,1130.9 544,1129.8 545.2,1129.5 546.5,1129.4 547.8,1129.2 549,1129.6 550.2,1130.5 551.5,1130.8 552.8,1130.8 554,1129.3 555.2,1131.4 556.5,1129 557.8,1128.8 559,1128.1 560.2,1129.2 561.5,1129.4 562.8,1127.9 564,1128.8 565.2,1127.5 566.5,1126.6 567.8,1127.3 569,1126.6 570.2,1126.3 571.5,1127.5 572.8,1127.6 574,1126.6 575.2,1126.1 576.5,1126.7 577.8,1127 579,1125.5 580.2,1124.1 581.5,1124.1 582.8,1122.5 584,1124.3 585.2,1122.6 586.5,1123.3 587.8,1120.6 589,1119.7 590.2,1117.3 591.5,1114.1 592.8,1110.5 594,1107.5 594.8,1102.6 595.2,1105 596.5,1110.6 597.8,1114.5 599,1117.2 600.2,1121 601.5,1121.8 602.8,1120.7 604,1123.2 605.2,1124.2 606.5,1123.8 607.8,1121 609,1123.2 610.2,1120.9 611.5,1120.2 612.8,1122 614,1120.9 615.2,1120.3 616.5,1121.4 617.8,1120.9 619,1121.7 620.2,1122.4 621.5,1122.8 622.8,1124.2 624,1122.9 625.2,1121.6 626.5,1122.3 627.8,1120.7 629,1122.1 630.2,1121.3 631.5,1120.7 632.8,1119.7 634,1121.3 635.2,1122.1 636.5,1123.6 637.8,1122 639,1122.8 640.2,1121.8 641.5,1121.3 642.8,1123.5 644,1122.4 645.2,1123.8 646.5,1122.3 647.8,1121.8 649,1121.2 650.2,1122.5 651.5,1120.8 652.8,1120.2 654,1120.4 655.2,1122 656.5,1122.3 657.8,1120.5 659,1120.3 660.2,1120.1 661.5,1120.3 662.8,1120.6 664,1121.9 665.2,1122 666.5,1119.5 667.8,1120.7 669,1121.1 670.2,1120 671.5,1116.5 672.8,1120.1 674,1120.1 675.2,1119 676.5,1120 677.8,1120.2 679,1120.4 680.2,1121.3 681.5,1119 682.8,1118 684,1118 685.2,1117.1 686.2,1116.8 686.5,1118.4 687.8,1118.4 689,1118.8 690.2,1118.4 691.5,1118.8 692.8,1117.5 694,1119.3 695.2,1118.9 696.5,1119.7 697.8,1120.5 699,1121 700.2,1119.7 701.5,1121 702.8,1120.2 704,1122.2 705.2,1121.6 706.5,1121.8 707.8,1121.3 709,1119.5 710.2,1121.3 711.5,1122.6 712.8,1123 714,1122.3 715.2,1122.8 716.5,1124 717.8,1122.2 719,1122 720.2,1122.8 721.5,1122.2 722.8,1121.9 724,1120.4 725.2,1121.7 726.5,1120.8 727.8,1120.8 729,1121.5 730.2,1120.3 731.5,1123.7 732.8,1124.5 734,1122.4 735.2,1120.6 736.5,1120.9 737.8,1120.6 739,1121.2 740.2,1119.7 741.5,1120.2 742.8,1120.3 744,1119.8 745.2,1118.4 746.5,1119.2 747.8,1120.1 749,1117.6 750.2,1118.3 751.5,1117.1 752.8,1116.3 754,1117.1 755.2,1115.8 756.5,1117.5 757.8,1115.9 759,1114.8 760.2,1114.9 761.5,1115.5 762.8,1113 764,1114 765.2,1111.3 766.5,1106.8 767.8,1100.4 769,1088.7 770.2,1071.8 771.5,1049.3 772.8,1031 773.7,1022.4 774,1021.7 775.2,1029.7 776.5,1045.8 777.8,1060.4 779,1057.2 780.2,1038.9 781.5,1005.3 782.8,971.8 783.2,970.1 784,980.3 785.2,1016.7 786.5,1046.9 787.8,1063.4 789,1073.4 790.2,1076.8 791.5,1076.2 792.8,1071.9 794,1058.5 795.2,1034.6 796.5,1009.4 796.9,1008 797.8,1019.6 799,1055.7 800.2,1084.9 801.5,1101.5 802.8,1107.1 804,1113.1 805.2,1115 806.5,1115.4 807.8,1117 809,1117 810.2,1115.5 811.5,1116.2 812.8,1117.6 814,1118.2 815.2,1119 816.5,1119.2 817.8,1117.3 819,1116.7 820.2,1117 821.5,1115.9 822.8,1118.8 824,1116.5 825.2,1118 826.5,1117.4 827.8,1116.6 829,1115.5 830.2,1115 831.5,1115.4 832.8,1117.3 834,1116.6 835.2,1118 836.5,1117 837.8,1116.2 839,1118.2 840.2,1118 841.5,1115.2 842.8,1115.7 844,1116.6 845.2,1116.5 846.5,1117.8 847.8,1117 849,1115.6 850.2,1115.4 851.5,1117.5 852.8,1116.5 854,1116.7 855.2,1117.4 856.5,1118.3 857.8,1117.7 859,1116.8 860.2,1116.2 861.5,1115 862.8,1115.8 864,1116.7 865.2,1116.2 866.5,1114.5 867.8,1115.7 869,1117.9 870.2,1115.8 871.5,1118.2 872.8,1116.1 874,1117.6 875.2,1117.7 876.5,1118.1 877.8,1118.3 879,1119 880.2,1118.6 881.5,1117.7 882.8,1119.7 884,1118.1 885.2,1118.4 886.5,1116.7 887.8,1118.8 889,1118.3 890.2,1116.2 891.5,1118.8 892.8,1118.8 894,1118.2 895.2,1117.9 896.5,1117.2 897.8,1117.2 899,1116.6 900.2,1116.6 901.5,1118 902.8,1118.3 904,1116.6 905.2,1117.9 906.5,1118 907.8,1117.5 909,1118.3 910.2,1117 911.5,1117.2 912.8,1118.3 914,1118.4 915.2,1118.2 916.5,1119.4 917.8,1117.8 919,1118.1 920.2,1117.7 921.5,1116.5 922.8,1117.2 924,1119 925.2,1117.7 926.5,1114.5 927.8,1120 929,1117.6 930.2,1116.5 931.5,1116.2 932.8,1118.3 934,1119.6 935.2,1119.2 936.5,1117 937.8,1116.9 939,1116.2 940.2,1115.8 941.5,1114.7 942.8,1112.6 944,1105.1 945.2,1095.8 946.5,1086.2 947.1,1085.4 947.8,1089.1 949,1098.8 950.2,1106.5 951.5,1112.7 952.8,1116.9 954,1116.6 955.2,1117.7 956.5,1119.4 957.8,1121.9 959,1120.5 960.2,1120.7 961.5,1120.8 962.8,1122.5 964,1123.2 965.2,1122.1 966.5,1123.2 967.8,1123 969,1123.7 970.2,1125.7 971.5,1126.3 972.8,1127 974,1125.8 975.2,1127.2 976.5,1126.2 977.8,1126.9 979,1127.2 980.2,1126.1 981.5,1126.9 982.8,1125.8 984,1125.1 985.2,1124.4 986.5,1126.4 987.8,1126.6 989,1127.4 990.2,1129.2 991.5,1128.1 992.8,1128.5 994,1129.1 995.2,1130 996.5,1129.6 997.8,1128.6 999,1130.2 1000.2,1128.3 1001.5,1129.3 1002.8,1129.2 1004,1129.4 1005.2,1130.1 1006.5,1130.8 1007.8,1130.2 1009,1129.9 1010.2,1129.8 1011.5,1129.5 1012.8,1128.1 1014,1129.6 1015.2,1130.3 1016.5,1127.5 1017.8,1126.5 1019,1125.5 1020.2,1121.1 1021.5,1114.6 1022.8,1102.9 1024,1086.1 1025.2,1075.8 1025.2,1075.9 1026.5,1085.3 1027.8,1101.6 1029,1115.2 1030.2,1121.1 1031.5,1124.2 1032.8,1126.6 1034,1127.7 1035.2,1130.1 1036.5,1130.2 1037.8,1132.3 1039,1132.1 1040.2,1132.8 1041.5,1133.1 1042.8,1132.5 1044,1133 1045.2,1132.9 1046.5,1133.3 1047.8,1133.4 1049,1133.7 1050.2,1132.8 1051.5,1134.1 1052.8,1136.1 1054,1134.7 1055.2,1137.2 1056.5,1136.6 1057.8,1136.6 1059,1137.5 1060.2,1136.5 1061.5,1137.6 1062.8,1136.8 1064,1139.8 1065.2,1137.1 1066.5,1139.5 1067.8,1140.7 1069,1140.4 1070.2,1140.7 1071.5,1141.5 1072.8,1140.1 1074,1140.7 1075.2,1139 1076.5,1139.2 1077.8,1138.2 1079,1138 1080.2,1139.9 1081.5,1137.1 1082.8,1138 1084,1139.3 1085.2,1135.9 1086.5,1134.9 1087.8,1135.5 1089,1132.8 1090.2,1131.4 1091.5,1127.4 1092.8,1122 1094,1112.4 1095.2,1094.6 1096.5,1074.3 1097.1,1071.4 1097.8,1075.4 1099,1093.9 1100.2,1109.3 1101.5,1120.6 1102.8,1126.8 1104,1130.5 1105.2,1133 1106.5,1133.3 1107.8,1134.2 1109,1136.4 1110.2,1137.3 1111.5,1138 1112.8,1137.7 1114,1137.8 1115.2,1137.7 1116.5,1138 1117.8,1138.5 1119,1137.7 1120.2,1138.5 1121.5,1138.7 1122.8,1138.7 1124,1141 1125.2,1142.9 1126.5,1142.3 1127.8,1145.3 1129,1144.8 1130.2,1145.3 1131.5,1146.4 1132.8,1144.9 1134,1144.4 1135.2,1142.6 1136.5,1142.7 1137.8,1142.7 1139,1142.4 1140.2,1142.1 1141.5,1140.1 1142.8,1140 1143.1,1140.3 1144,1139.7 1145.2,1138.4 1146.5,1140.7 1147.8,1141.6 1149,1143.2 1150.2,1146 1151.5,1145.5 1152.8,1144.9 1154,1142.2 1155.2,1139.5 1156.5,1135.4 1157.4,1134.5 1157.8,1135.5 1159,1138.2 1160.2,1142.2 1161.5,1146.9 1162.8,1147.2 1164,1148.6 1165.2,1148.3 1166.5,1148.7 1167.8,1149.6 1169,1150.5 1170.2,1150.7 1171.5,1150.6 1172.8,1151 1174,1150.8 1175.2,1149.8 1176.5,1151.2 1177.8,1150 1179,1149.9 1180.2,1152.2 1181.5,1150.4 1182.8,1151.4 1184,1151.4 1185.2,1152.6 1186.5,1153.1 1187.8,1152.3 1189,1152.2 1190.2,1152.8 1191.5,1153.5 1192.8,1154.4 1194,1152.6 1195.2,1152.2 1196.5,1151.8 1197.8,1152.3 1199,1154.3 1200.2,1152.2 1201.5,1153.5 1202.8,1154.9 1204,1153 1205.2,1152.9 1206.5,1151.3 1207.8,1153.4 1209,1153.6 1210.2,1152.3 1211.5,1154.1 1212.8,1154 1214,1152.8 1215.2,1155.5 1216.5,1153.9 1217.8,1153.6 1219,1152.1 1220.2,1152.9 1221.5,1153.2 1222.8,1153.1 1224,1154.7 1225.2,1154.5 1226.5,1153.6 1227.8,1152.2 1229,1151 1230.2,1149.5 1231.5,1145 1232.8,1140.6 1234,1134.2 1235.2,1131.6 1236.2,1129.6 1236.5,1128.5 1237.8,1130.6 1239,1132.6 1240.2,1135.7 1241.5,1139 1242.8,1142.2 1244,1144.2 1245.2,1146.2 1246.5,1147.4 1247.8,1148.2 1249,1148.8 1250.2,1150.3 1251.5,1150.9 1252.8,1152.4 1254,1151.1 1255.2,1151.8 1256.5,1152 1257.8,1153.4 1259,1152.8 1260.2,1152.6 1261.5,1152.4 1262.8,1152.3 1264,1153.1 1265.2,1153.5 1266.5,1153.1 1267.8,1152.3 1269,1153.8 1270.2,1152.7 1271.5,1151.6 1272.8,1151.9 1274,1151.6 1275.2,1151.7 1276.5,1150.4 1277.8,1151.1 1279,1153.3 1280.2,1152 1281.5,1151.8 1282.8,1148.9 1284,1148.3 1285.2,1144.2 1286.5,1140.4 1287.8,1128.4 1289,1110.8 1290.2,1085.6 1291.3,1076.2 1291.5,1076.3 1292.8,1091.5 1294,1114.7 1295.2,1129.7 1296.5,1140.4 1297.8,1143.7 1299,1146.3 1300.2,1149.8 1301.5,1149.5 1302.8,1151.3 1304,1152 1305.2,1153.2 1306.5,1151.5 1307.8,1154.4 1309,1153.9 1310.2,1153.7 1311.5,1152.7 1312.8,1156.1 1314,1155.5 1315.2,1154.1 1316.5,1155.2 1317.8,1156.2 1319,1155.8 1320.2,1154.9 1321.5,1155.7 1322.8,1156.5 1324,1154.7 1325.2,1155.2 1326.5,1155.5 1327.8,1154.1 1329,1154.5 1330.2,1153.7 1331.5,1154.8 1332.8,1154.8 1334,1153.7 1335.2,1155 1336.5,1156.2 1337.8,1156.1 1339,1155 1340.2,1154 1341.5,1154.1 1342.8,1150.5 1344,1150.2 1345.2,1147.2 1346.5,1142.9 1347.8,1138.8 1349,1133.3 1350.2,1130.7 1351.5,1127.2 1351.7,1127.3 1352.8,1129 1354,1132.6 1355.2,1136.5 1356.5,1140.6 1357.8,1144.7 1359,1146.4 1360.2,1148.5 1361.5,1149.1 1362.8,1152.5 1364,1153.8 1365.2,1154.6 1366.5,1154.8 1367.8,1156.7 1369,1156 1370.2,1158.3 1371.5,1155.9 1372.8,1157.3 1374,1156.8 1375.2,1156.2 1376.5,1155.9 1377.8,1154.9 1379,1155.5 1380.2,1156.8 1381.5,1156 1382.8,1156.9 1384,1157 1385.2,1155.5 1386.5,1156.5 1387.8,1157.4 1389,1157.1 1390.2,1156.4 1391.5,1156 1392.8,1156.7 1394,1156.7 1395.2,1157.9 1396.5,1156.1 1397.8,1155.7 1399,1156.4 1400.2,1157.9 1401.5,1156.7 1402.8,1156.9 1404,1156.9 1405.2,1158.1 1406.5,1157.2 1407.8,1156.6 1409,1156.1 1410.2,1156.4 1411.5,1158.6 1412.8,1157.1 1414,1157 1415.2,1157.1 1416.5,1157.8 1417.8,1157.6 1419,1157 1420.2,1155.8 1421.5,1157.4 1422.8,1157.5 1424,1157.5 1425.2,1157.3 1426.5,1156.9 1427.8,1158.8 1429,1157.5 1430.2,1158.7 1431.5,1158.4 1432.8,1158.4 1434,1159.1 1435.2,1158.8 1436.5,1159.8 1437.8,1159.7 1439,1158.3 1440.2,1158.9 1441.5,1159.2 1442.8,1157.7 1444,1157.4 1445.2,1158.6 1446.5,1159.7 1447.8,1158.7 1449,1158.7 1450.2,1159.3 1451.5,1159.4 1452.8,1160.2 1454,1161.4 1455.2,1160.7 1456.5,1159.7 1457.8,1159.3 1459,1160.1 1460.2,1160.3 1461.5,1160 1462.8,1159.8 1464,1160 1465.2,1158.9 1466.5,1159 1467.8,1159.4 1469,1160 1470.2,1159.3 1471.5,1160.1 1472.8,1159.8 1474,1159.6 1475.2,1159.2 1476.5,1160.6 1477.8,1159.8 1479,1160.3 1480.2,1160.2 1481.5,1158.7 1482.8,1160.4 1484,1161.6 1485.2,1160.4 1486.5,1160.3 1487.8,1160.2 1489,1161.6 1490.2,1160.1 1491.5,1159.1 1492.8,1159.1 1494,1158.5 1495.2,1160.5 1496.5,1159.6 1497.8,1159.2 1499,1158.9 1500.2,1160.9 1501.5,1160.8 1502.8,1160.3 1504,1161.2 1505.2,1160.6 1506.5,1163.2 1507.8,1161.9 1509,1162.3 1510.2,1160.9 1511.5,1160.8 1512.8,1160.3 1514,1161.3 1515.2,1160.2 1516.5,1161.4 1517.8,1161.3 1519,1161.6 1520.2,1162.2 1521.5,1162.2 1522.8,1160.4 1524,1160.6 1525.2,1160.2 1526.5,1161.7 1527.8,1161.3 1529,1160.8 1530.2,1160.8 1531.5,1160.3 1532.8,1159.1 1534,1160.4 1535.2,1160 1536.5,1158.6 1537.8,1158.6 1539,1159.4 1540.2,1158.9 1541.5,1159.1 1542.8,1158.1 1544,1157.1 1545.2,1157 1546.5,1156.6 1547.8,1155.9 1549,1155.2 1549.4,1156.2 1550.2,1154.8 1551.5,1155.6 1552.8,1155.6 1554,1157.1 1555.2,1158.6 1556.5,1158.7 1557.8,1158.5 1559,1159.9 1560.2,1161.8 1561.5,1161.3 1562.8,1162.8 1564,1160.7 1565.2,1161.3 1566.5,1161.6 1567.8,1162.8 1569,1161.5 1570.2,1160.8 1571.5,1161.7 1572.8,1161.4 1574,1162.4 1575.2,1160.9 1576.5,1160.8 1577.8,1160.2 1579,1160.4 1580.2,1160.8 1581.5,1159.2 1582.8,1157.4 1584,1156.7 1585.2,1155.8 1586.5,1154.3 1587.8,1152.2 1589,1151.2 1590.2,1151.9 1590.2,1150.9 1591.5,1151.7 1592.8,1152.9 1594,1154.7 1595.2,1157.3 1596.5,1158.2 1597.8,1158.9 1599,1159.9 1600.2,1159.7 1601.5,1160.9 1602.8,1160.5 1604,1161.5 1605.2,1159.3 1606.5,1160.1 1607.8,1157.7 1609,1156.3 1610.2,1155.1 1611.5,1153.2 1612.8,1151.8 1614,1150.2 1615.2,1151.7 1615.7,1151.4 1616.5,1151.8 1617.8,1151.5 1619,1152.2 1620.2,1153.4 1621.5,1155.4 1622.8,1155.8 1624,1157.4 1625.2,1158.3 1626.5,1159.9 1627.8,1160.8 1629,1160.7 1630.2,1160.2 1631.5,1160 1632.8,1161.3 1634,1160.2 1635.2,1161 1636.5,1160.4 1637.8,1160.2 1639,1160.4 1640.2,1161.4 1641.5,1161.5 1642.8,1159.8 1644,1161.5 1645.2,1162.3 1646.5,1162.2 1647.8,1162 1649,1162.2 1650.2,1163.4 1651.5,1162.4 1652.8,1162.5 1654,1161.1 1655.2,1162.4 1656.5,1162 1657.8,1161.2 1659,1161.4 1660.2,1160.8 1661.5,1160.1 1662.8,1161.3 1664,1162.2 1665.2,1161.3 1666.5,1161.2 1667.8,1163.3 1669,1162.8 1670.2,1163 1671.5,1162 1672.8,1161.7 1674,1162 1675.2,1163.1 1676.5,1162.5 1677.8,1162.1 1679,1162.8 1680.2,1161.9 1681.5,1162.1 1682.8,1161.9 1684,1160.9 1685.2,1163.2 1686.5,1163 1687.8,1161.9 1689,1162.3 1690.2,1161.5 1691.5,1162.2 1692.8,1163.1 1694,1161.5 1695.2,1162.8 1696.5,1163.6 1697.8,1162 1699,1162.7 1700.2,1161.7 1701.5,1162.1 1702.8,1163.5 1704,1163.7 1705.2,1164.9 1706.5,1164 1707.8,1162.8 1709,1162.7 1710.2,1162.6 1711.5,1161.9 1712.8,1162.7 1714,1161.3 1715.2,1162.6 1716.5,1161.4 1717.8,1162.9 1719,1163 1720.2,1162.6 1721.5,1163.6 1722.8,1162.4 1724,1160.7 1725.2,1160.9 1726.5,1159.9 1727.8,1159.9 1729,1158 1730.2,1156.5 1731.5,1156.8 1732.5,1155.3 1732.8,1156.7 1734,1155.2 1735.2,1157.5 1736.5,1156.8 1737.8,1157.9 1739,1158.3 1740.2,1158.4 1741.5,1156.9 1742.8,1156.3 1744,1155 1745.2,1152 1746.5,1152.2 1747.8,1150.6 1749,1151.1 1749.9,1149.6 1750.2,1151.6 1751.5,1149.7 1752.8,1152 1754,1151.3 1755.2,1153.4 1756.5,1155 1757.8,1155.3 1759,1158.2 1760.2,1159 1761.5,1160.8 1762.8,1162 1764,1161.5 1765.2,1161.6 1766.5,1162.1 1767.8,1163.2 1769,1161.4 1770.2,1161.7 1771.5,1163.1 1772.8,1162.2 1774,1162.9 1775.2,1162.3 1776.5,1163.4 1777.8,1163.1 1779,1163 1780.2,1164.1 1781.5,1162.7 1782.8,1163.2 1784,1163.1 1785.2,1162.5 1786.5,1163.9 1787.8,1163.4 1789,1163.3 1790.2,1163.7 1791.5,1164.2 1792.8,1164.3 1794,1164.9 1795.2,1164.6 1796.5,1163.8 1797.8,1165.1 1799,1164.7 1800.2,1164.6 1801.5,1165.5 1802.8,1165.6 1804,1165.7 1805.2,1166.1 1806.5,1167.1 1807.8,1166.3 1809,1165.5 1810.2,1165.8 1811.5,1165.6 1812.8,1164.5 1814,1164.4 1815.2,1165.4 1816.5,1165.3 1817.8,1165.2 1819,1165.3 1820.2,1166.1 1821.5,1165.3 1822.8,1165.6 1824,1165.9 1825.2,1165.9 1826.5,1165.1 1827.8,1165.5 1829,1165.5 1830.2,1164.2 1831.5,1164.5 1832.8,1165.5 1834,1165.2 1835.2,1165.7 1836.5,1166.3 1837.8,1166.6 1839,1165.9 1840.2,1165.4 1841.5,1166.6 1842.8,1166.2 1844,1165.1 1845.2,1165.4 1846.5,1165.5 1847.8,1166.1 1849,1167.8 1850.2,1167 1851.5,1166.2 1852.8,1165.9 1854,1167.9 1855.2,1166.8 1856.5,1165.5 1857.8,1164.7 1859,1164.4 1860.2,1165.1 1861.5,1164.2 1862.8,1164.5 1864,1163.5 1865.2,1161.3 1866.5,1160.7 1867.8,1160.9 1869,1158.2 1870.2,1155 1871.5,1152.7 1872.8,1150.3 1873.8,1150.9 1874,1150.9 1875.2,1150.8 1876.5,1152.8 1877.8,1154.9 1879,1157.8 1880.2,1159 1881.5,1160.5 1882.8,1161.6 1884,1163.3 1885.2,1163.9 1886.5,1164.8 1887.8,1165.4 1889,1165.4 1890.2,1165.9 1891.5,1166.2 1892.8,1166.2 1894,1166.7 1895.2,1166.2 1896.5,1165.8 1897.8,1165.5 1899,1164.2 1899.9,1164.6 1900.2,1162.8 1901.5,1161.8 1902.8,1162.8 1904,1164.2 1905.2,1164.4 1906.5,1166 1907.8,1166.5 1909,1166.6 1910.2,1167.2 1911.5,1165.7 1912.8,1167.2 1914,1166.4 1915.2,1166.9 1916.5,1167.9 1917.8,1167.9 1919,1168.5 1920.2,1167.8 1921.5,1168.2 1922.8,1167.2 1924,1166 1925.2,1166.8 1926.5,1167.7 1927.8,1166.1 1929,1167 1930.2,1168 1931.5,1167.9 1932.8,1167.3 1934,1169.1 1935.2,1167.7 1936.5,1168.5 1937.8,1168.4 1939,1167.1 1940.2,1167.4 1941.5,1166.3 1942.8,1166.2 1944,1165.9 1945.2,1166.3 1946.5,1165.7 1947.8,1165.9 1949,1165.9 1950.2,1165.1 1951.5,1166.4 1952.8,1164.3 1954,1165.6 1955.2,1164.5 1956.5,1163.8 1957.8,1163.6 1959,1164.2 1959.2,1163.4 1960.2,1163.7 1961.5,1163.5 1962.8,1165.1 1964,1165.2 1965.2,1164.6 1966.5,1166.4 1967.8,1166 1969,1166.2 1970.2,1165.7 1971.5,1165.4 1972.8,1164.3 1974,1164.4 1975.2,1162.2 1976.5,1158.9 1977.8,1151.5 1979,1144.2 1980.2,1137.2 1981.5,1131.9 1982.2,1131.6 1982.8,1131.3 1984,1135.8 1985.2,1141.6 1986.5,1146.7 1987.8,1150.8 1989,1156 1990.2,1159.8 1991.5,1161.4 1992.8,1163.6 1994,1164.4 1995.2,1166 1996.5,1165.9 1997.8,1166.1 1999,1166.9 2000.2,1166.8 2001.5,1167.1 2002.8,1167.2 2004,1167.3 2005.2,1168.6 2006.5,1167.9 2007.8,1167.6 2009,1168.7 2010.2,1166.7 2011.5,1168.4 2012.8,1168.7 2014,1169.5 2015.2,1169 2016.5,1168.8 2017.8,1168.7 2019,1170.5 2020.2,1168.5 2021.5,1169.3 2022.8,1169.5 2024,1169.8 2025.2,1168.2 2026.5,1167.7 2027.8,1169.2 2029,1169.6 2030.2,1169.8 2031.5,1169.8 2032.8,1170 2034,1170.2 2035.2,1170.3 2036.5,1169.6 2037.8,1168.6 2039,1167.4 2040.2,1168.6 2041.5,1168.8 2042.8,1169.6 2044,1168.2 2045.2,1167.9 2046.5,1169 2047.8,1169.8 2049,1168.9 2050.2,1168.9 2051.5,1169.6 2052.8,1170.7 2054,1169.8 2055.2,1169.3 2056.5,1169.1 2057.8,1169.7 2059,1170.2 2060.2,1168.8 2061.5,1169.8 2062.8,1169.9 2064,1169.8 2065.2,1169.1 2066.5,1169 2067.8,1168.7 2069,1169.3 2070.2,1168.8 2071.5,1169.9 2072.8,1168.9 2074,1169.2 2075.2,1169.5 2076.5,1167.7 2077.8,1167.9 2079,1166.3 2080.2,1166 2081.5,1164.9 2082.8,1164.1 2084,1164.1 2084.8,1164.8 2085.2,1163.3 2086.5,1163.6 2087.8,1165.8 2089,1164.5 2090.2,1166.1 2091.5,1168 2092.8,1167.7 2094,1168.6 2095.2,1169.4 2096.5,1170.5 2097.8,1170 2099,1171.2 2100.2,1170.6 2101.5,1170.8 2102.8,1170.5 2104,1170 2105.2,1170.4 2106.5,1169 2107.8,1169.7 2109,1169 2110.2,1167.5 2111.5,1165.5 2112.8,1162.6 2114,1160.4 2115.2,1156.4 2116.5,1154.3 2117.5,1154.7 2117.8,1154.1 2119,1154.9 2120.2,1156.8 2121.5,1158.5 2122.8,1160.1 2124,1161.9 2125.2,1164.8 2126.5,1164.4 2127.8,1167 2129,1167.8 2130.2,1168.6 2131.5,1169.3 2132.8,1169.4 2134,1169.5 2135.2,1170.6 2136.5,1168.5 2137.8,1170.5 2139,1170.1 2140.2,1171.3 2141.5,1170.2 2142.8,1170.2 2144,1169.7 2145.2,1170.1 2146.5,1169.1 2147.8,1171 2149,1169.1 2150.2,1170.2 2151.5,1170.2 2152.8,1170.2 2154,1170.6 2155.2,1170.6 2156.5,1170.4 2157.8,1170.7 2159,1171.2 2160.2,1170.4 2161.5,1170.4 2162.8,1169.8 2164,1170.4 2165.2,1170.8 2166.5,1170.6 2167.8,1171 2169,1170.8 2170.2,1170.4 2171.5,1170.9 2172.8,1169.7 2174,1170.8 2175.2,1169.9 2176.5,1171.2 2177.8,1171.9 2179,1171.1 2180.2,1171.4 2181.5,1171.8 2182.8,1172.5 2184,1171.7 2185.2,1171.4 2186.5,1172 2187.8,1171.8 2189,1171.3 2190.2,1172 2191.5,1172.1 2192.8,1170.6 2194,1171.2 2195.2,1171.6 2196.5,1171.3 2197.8,1170.9 2199,1171.6 2200.2,1170.8 2201.5,1170.6 2202.8,1171.7 2204,1171.9 2205.2,1172 2206.5,1173.1 2207.8,1171.7 2209,1171.3 2210.2,1172.4 2211.5,1172.3 2212.8,1172.5 2214,1171.3 2215.2,1170.8 2216.5,1171.7 2217.8,1172.2 2219,1171.4 2220.2,1172.6 2221.5,1172.8 2222.8,1172.5 2224,1172.2 2225.2,1171.9 2226.5,1170.8 2227.8,1171.1 2229,1170.3 2230.2,1171.3 2231.5,1171.6 2232.8,1171 2234,1171.2 2235.2,1172 2236.5,1172.4 2237.8,1172 2239,1172.3 2240.2,1171.8 2241.5,1171.9 2242.8,1172.8 2244,1171.9 2245.2,1171 2246.5,1170.3 2247.8,1171.5 2249,1171.6 2250.2,1171 2251.5,1171.6 2252.8,1171.3 2254,1170.9 2255.2,1170.6 2256.5,1171 2257.8,1170.8 2259,1171.5 2260.2,1171 2261.5,1170.8 2262.8,1170.8 2264,1172.1 2265.2,1171.7 2266.5,1172.3 2267.8,1172.2 2269,1172.4 2270.2,1173 2271.5,1171.7 2272.8,1170.1 2274,1171.2 2275.2,1169.9 2276.5,1170.5 2277.8,1170.5 2279,1170.8 2280.2,1171 2281.5,1171.3 2282.8,1170.3 2284,1170.4 2285.2,1171.7 2286.5,1171.7 2287.8,1173.5 2289,1173.6 2290.2,1173.8 2291.5,1173.7 2292.8,1172.8 2294,1172.3 2295.2,1172.3 2296.5,1172.5 2297.8,1172.3 2299,1171.9 2300.2,1170.9 2301.5,1172.1 2302.8,1171 2304,1171.3 2305.2,1172.8 2306.5,1171.3 2307.8,1171.5 2308.5,1171"/>
<polyline class="c" stroke="#ff00ff" points="41.5,861 42.8,860.8 44,861.6 45.2,862.1 46.5,864.2 47.8,863.2 49,862.8 50.2,864.7 51.5,864.8 52.8,864.8 54,864.3 55.2,865.3 56.5,869.4 57.8,868.7 59,867.5 60.2,868.7 61.5,869.3 62.8,868.8 64,868.7 65.2,870.3 66.5,869.3 67.8,872.7 69,871.9 70.2,874.4 71.5,874.1 72.8,874.2 74,874.5 75.2,873.6 76.5,875.7 77.8,875 79,876.4 80.2,874.9 81.5,876.2 82.8,876.1 84,877.8 85.2,878.4 86.5,879.2 87.8,879.6 89,880.4 90.2,880 91.5,881.8 92.8,881.9 94,882.5 95.2,882.7 96.5,883.8 97.8,882.7 99,883.5 100.2,885.6 101.5,884.4 102.8,883.7 104,886.3 105.2,887.5 106.5,886.7 107.8,888.2 109,886.7 110.2,887.2 111.5,888.5 112.8,887.1 114,888.3 115.2,888.4 116.5,888.9 117.8,889.3 119,889.8 120.2,891.7 121.5,891.8 122.8,893 124,893.2 125.2,893.5 126.5,892.2 127.8,892.1 129,891.7 130.2,892.2 131.5,892.4 132.8,893.3 134,891.7 135.2,894.7 136.5,895.7 137.8,896.5 139,895.7 140.2,896.2 141.5,896.3 142.8,896.8 144,895.8 145.2,898.6 146.5,898.1 147.8,898.6 149,898.4 150.2,899.7 151.5,900.6 152.8,900.6 154,900.2 155.2,900.2 156.5,900.3 157.8,902 159,900.6 160.2,901.3 161.5,901.3 162.8,901.8 164,902.3 165.2,902.2 166.5,902.6 167.8,903.2 169,903.4 170.2,904.5 171.5,904.9 172.8,905.7 174,904.7 175.2,904.8 176.5,904.2 177.8,905.4 179,905.9 180.2,906.1 181.5,906.9 182.8,906.6 184,906.2 185.2,907.2 186.5,909 187.8,907.8 189,908 190.2,908.7 191.5,909.3 192.8,909.3 194,908 195.2,910.1 196.5,910.1 197.8,909.2 199,910.2 200.2,909.6 201.5,909.9 202.8,910.2 204,910.1 205.2,911.3 206.5,910.7 207.8,909.8 209,910.8 210.2,910.6 211.5,911.9 212.8,911.7 214,912.5 215.2,912.9 216.5,913.3 217.8,913.4 219,912.6 220.2,913 221.5,914.2 222.8,915.1 224,913.4 225.2,913.8 226.5,914.7 227.8,913.6 229,914.3 230.2,914.5 231.5,915.5 232.8,913.9 234,914.3 235.2,914.6 236.5,914.8 237.8,916.2 239,916.2 240.2,916.4 241.5,916.2 242.8,915.2 244,915.6 245.2,916.2 246.5,915.1 247.8,916.1 249,915.9 250.2,917.3 251.5,917.3 252.8,917.8 254,917 255.2,917.2 256.5,918 257.8,917.2 259,917 260.2,917.6 261.5,918.2 262.8,917.7 264,918.2 265.2,918.5 266.5,919 267.8,918.9 269,919.1 270.2,919.6 271.5,920.1 272.8,918.9 274,919.3 275.2,918.3 276.5,918.6 277.8,918.4 279,919.2 280.2,919.3 281.5,920 282.8,919.3 284,919.6 285.2,919.6 286.5,918.4 287.8,919.5 289,918.7 290.2,919.5 291.5,918.8 292.8,920.2 294,921.2 295.2,921.7 296.5,921.5 297.8,921 299,920.5 300.2,920.5 301.5,921 302.8,921.1 304,922.3 305.2,921.3 306.5,921.5 307.8,921.9 309,921.3 310.2,921.5 311.5,921.2 312.8,921.9 314,921.8 315.2,920.5 316.5,921.2 317.8,921.7 319,922.5 320.2,921.5 321.5,921.2 322.8,921.6 324,923.7 325.2,922.4 326.5,922.2 327.8,922.5 329,922.4 330.2,921.2 331.5,922.4 332.8,921.3 334,923.1 335.2,922.2 336.5,923 337.8,922.2 339,923 340.2,923.6 341.5,922.7 342.8,922.3 344,923.6 345.2,924.2 346.5,923.6 347.8,922.7 349,922.8 350.2,922.3 351.5,923.9 352.8,923.4 354,923.8 355.2,923.7 356.5,924.3 357.8,924.2 359,924.8 360.2,924.3 361.5,922.9 362.8,924.4 364,923.6 365.2,923.5 366.5,922.6 367.8,923.4 369,923.8 370.2,923.1 371.5,924 372.8,923.7 374,923.9 375.2,923.6 376.5,923.8 377.8,924.3 379,924.2 380.2,924.3 381.5,923.9 382.8,924.9 384,924.5 385.2,925.1 386.5,923.8 387.8,924.3 389,924.4 390.2,924 391.5,924 392.8,923.4 394,923.9 395.2,923.7 396.5,923.3 397.8,924.2 399,923.2 400.2,924.2 401.5,923.2 402.8,923.9 404,924.6 405.2,923.7 406.5,923.5 407.8,923.5 409,923.4 410.2,924.2 411.5,924.1 412.8,923.3 414,923 415.2,923.5 416.5,923.7 417.8,922.8 419,923.5 420.2,923.4 421.5,924 422.8,925.6 424,923.6 425.2,922.8 426.5,923.9 427.8,923.4 429,922.6 430.2,921.9 431.5,922.1 432.8,921 434,920.1 435.2,919.9 436.5,917.2 437.8,912.7 439,908.9 440.2,906.2 440.3,906.7 441.5,910.2 442.8,917.1 444,921.9 445.2,922.1 446.5,922.7 447.8,923.1 449,922.8 450.2,923 451.5,923.1 452.8,923.4 454,923 455.2,922.9 456.5,923 457.8,923.4 459,924 460.2,924.1 461.5,925.2 462.8,924.9 464,924.5 465.2,924.1 466.5,923 467.8,923.3 469,921.9 470.2,922.9 471.5,922.9 472.8,923 474,921.9 475.2,923.8 476.5,924.2 477.8,924.2 479,924.2 480.2,923.7 481.5,923.4 482.8,924.2 484,922.6 485.2,923.7 486.5,923.7 487.8,924.6 489,924.4 490.2,924.3 491.5,923 492.8,923.5 494,922.5 495.2,922.8 496.5,923.5 497.8,922.7 499,922.9 500.2,922.3 501.5,923.3 502.8,922.7 504,922.2 505.2,923.2 506.5,923.6 507.8,923.3 509,924.1 510.2,923.1 511.5,924.1 512.8,923.8 514,925.8 515.2,925.4 516.5,923.9 517.8,924 519,924.1 520.2,924.5 521.5,923.6 522.8,923.6 524,923.5 525.2,923.6 526.5,923.5 527.8,923.9 529,923.9 530.2,923.1 531.5,923.6 532.8,922.2 534,922.9 535.2,923.4 536.5,923.5 537.8,925 539,924 540.2,924.4 541.5,923.8 542.8,924.9 544,924.1 545.2,923.3 546.5,922.8 547.8,922.9 549,922.9 550.2,922.8 551.5,923.2 552.8,924.5 554,924.6 555.2,924.9 556.5,925.4 557.8,925.6 559,924.9 560.2,925.3 561.5,924.4 562.8,925.3 564,923.4 565.2,922.9 566.5,922.7 567.8,923.2 569,923.2 570.2,922.9 571.5,923 572.8,924.2 574,923.3 575.2,923.2 576.5,922.9 577.8,923.9 579,923.1 580.2,923.2 581.5,924.6 582.8,923.4 584,923.3 585.2,923.9 586.5,923.3 587.8,921.2 589,920.8 590.2,919.3 591.5,918 592.8,915.9 594,914.4 594.6,915.4 595.2,915 596.5,916.9 597.8,918.8 599,919.7 600.2,921.5 601.5,920.5 602.8,920.7 604,920.7 605.2,921.6 606.5,919.9 607.8,921.5 609,921.4 610.2,922.4 611.5,922.6 612.8,922 614,922.1 615.2,922.8 616.5,922.7 617.8,922.7 619,923.1 620.2,922.1 621.5,923.7 622.8,923.5 624,922.3 625.2,923.3 626.5,923.2 627.8,922.7 629,921.9 630.2,922.5 631.5,921.4 632.8,921.2 634,921.9 635.2,922.2 636.5,920.4 637.8,920.5 639,920.5 640.2,920.4 641.5,920.6 642.8,920.3 644,920.9 645.2,920.9 646.5,920.9 647.8,921.3 649,920.4 650.2,920.4 651.5,920.4 652.8,920.6 654,919.3 655.2,918.5 656.5,919.1 657.8,918.7 659,918.7 660.2,918.7 661.5,919.3 662.8,918.1 664,918.7 665.2,919.8 666.5,918.6 667.8,918.7 669,918.3 670.2,917.7 671.5,918.3 672.8,917.7 674,919 675.2,919.8 676.5,918.9 677.8,919.1 679,919 680.2,919.8 681.5,918.8 682.8,919.3 684,919 685.2,918.7 686.5,918.8 687.8,918.8 689,919.1 690.2,918.6 691.5,918.2 692.8,917.7 694,917.3 695.2,916.8 696.5,918.4 697.8,916.4 699,917.9 700.2,917.8 701.5,919.1 702.8,917.4 704,917.4 705.2,918.7 706.5,918.5 707.8,917.2 709,917.7 710.2,917.2 711.5,917.9 712.8,917.2 714,916.8 715.2,916.1 716.5,917.3 717.8,916.5 719,916.3 720.2,916.5 721.5,916.6 722.8,916.7 724,916.6 725.2,916.7 726.5,915.8 727.8,916.2 729,916.3 730.2,914.8 731.5,915.8 732.8,914.9 734,915.1 735.2,914 736.5,915.5 737.8,914.2 739,915 740.2,915.2 741.5,914.8 742.8,916.1 744,915.6 745.2,914.9 746.5,914.9 747.8,915.3 749,914.3 750.2,914.6 751.5,914.8 752.8,915.3 754,913.7 755.2,912.8 756.5,913.6 757.8,912.9 759,912.1 760.2,912.1 761.5,911.4 762.8,910.8 764,911.4 765.2,910 766.5,909.1 767.8,906.8 769,903.8 770.2,901.6 771.5,896 772.8,890 773.6,889.4 774,888.2 775.2,892 776.5,894.2 777.8,897.2 779,897.2 780.2,892.4 781.5,884.4 782.8,876.9 783,876.4 784,878.4 785.2,886.6 786.5,894.3 787.8,897.9 789,898.3 790.2,899.8 791.5,900.1 792.8,897.2 794,891.1 795.2,883.3 796.5,875.6 796.8,874.4 797.8,878.7 799,889.7 800.2,898.2 801.5,902.2 802.8,904.8 804,906.4 805.2,906.6 806.5,906.9 807.8,906.8 809,905.4 810.2,906.6 811.5,906.9 812.8,906 814,907.4 815.2,905.1 816.5,904.8 817.8,903.7 819,902.9 820.2,903.9 821.5,903.7 822.8,903.2 824,903.5 825.2,903 826.5,903.3 827.8,904.1 829,903 830.2,903 831.5,903 832.8,903.5 834,901.8 835.2,900.6 836.5,902.3 837.8,901.5 839,901.7 840.2,900.7 841.5,901.6 842.8,900 844,901.6 845.2,899.4 846.5,899.3 847.8,898.6 849,897.4 850.2,897.4 851.5,898.2 852.8,897.3 854,897.1 855.2,896.9 856.5,896.4 857.8,896.5 859,895.7 860.2,894.6 861.5,895.3 862.8,894.9 864,894.3 865.2,894.3 866.5,893.6 867.8,892.7 869,892 870.2,892.9 871.5,890.7 872.8,892.6 874,891.1 875.2,890.4 876.5,889.7 877.8,888.1 879,887.9 880.2,886.1 881.5,886.2 882.8,885.2 884,885.8 885.2,885.9 886.5,884.6 887.8,883.8 889,882.4 890.2,881.2 891.5,881.8 892.8,879.6 892.8,880.2 894,881.3 895.2,882.9 896.5,882.7 897.8,882.8 899,885.2 900.2,884.8 901.5,884.9 902.8,886.3 904,885.4 905.2,885.6 906.5,885.6 907.8,885.2 909,886.3 910.2,887.2 911.5,885.8 912.8,886 914,886.7 915.2,886.2 916.5,886.5 917.8,886.7 919,889.2 920.2,888.4 921.5,888.1 922.8,889.6 924,889.7 925.2,889.3 926.5,889.6 927.8,888.5 929,888.8 930.2,888.1 931.5,888.1 932.8,888.4 934,890.1 935.2,890.8 936.5,891.3 937.8,891.6 939,892.4 940.2,891.7 941.5,892.7 942.8,890 944,889.5 945.2,888 946.5,885.7 946.9,885.3 947.8,886.2 949,887.7 950.2,888.6 951.5,889.8 952.8,891.1 954,891 955.2,892.2 956.5,891.1 957.8,891.6 959,892.8 960.2,893.4 961.5,894.3 962.8,894.1 964,893.8 965.2,894 966.5,894.7 967.8,894.1 969,893.9 970.2,894.3 971.5,895.8 972.8,895.4 974,895.6 975.2,895.6 976.5,896.8 977.8,897 979,897.3 980.2,896.9 981.5,897.6 982.8,897.7 984,899 985.2,898.8 986.5,899.5 987.8,900.8 989,900.5 990.2,901.3 991.5,900.9 992.8,902.1 994,901.8 995.2,903.7 996.5,903.7 997.8,901 999,902.8 1000.2,902.8 1001.5,901.3 1002.8,902.1 1004,903.1 1005.2,902.6 1006.5,904.1 1007.8,904.4 1009,905.1 1010.2,904 1011.5,903.3 1012.8,905.5 1014,906.2 1015.2,904.5 1016.5,904.7 1017.8,905.4 1019,904.4 1020.2,904.9 1021.5,903.6 1022.8,900 1024,896.8 1025,895.6 1025.2,895.9 1026.5,897.2 1027.8,901.3 1029,904.1 1030.2,906.1 1031.5,906.3 1032.8,907.1 1034,908.1 1035.2,909 1036.5,908.2 1037.8,908.8 1039,909.9 1040.2,908.8 1041.5,908.4 1042.8,909.7 1044,910.2 1045.2,910.3 1046.5,911.2 1047.8,911.2 1049,912.1 1050.2,911.6 1051.5,911.2 1052.8,911.5 1054,913 1055.2,912.7 1056.5,913.1 1057.8,913.3 1059,913.9 1060.2,913.3 1061.5,913 1062.8,913.3 1064,912.6 1065.2,913.9 1066.5,914.5 1067.8,916.5 1069,916.9 1070.2,917.4 1071.5,917.7 1072.8,917.6 1074,918.5 1075.2,917.4 1076.5,916.5 1077.8,916.1 1079,915.6 1080.2,916.1 1081.5,915.2 1082.8,916.8 1084,917.2 1085.2,917.1 1086.5,916.9 1087.8,917 1089,917.4 1090.2,917.6 1091.5,916.4 1092.8,914.6 1094,911.2 1095.2,906.9 1096.5,902.4 1096.9,902 1097.8,903.8 1099,910.1 1100.2,913.5 1101.5,916 1102.8,917.6 1104,918.8 1105.2,920.7 1106.5,919.3 1107.8,918.8 1109,919.3 1110.2,919.2 1111.5,919.1 1112.8,918.7 1114,918.9 1115.2,919.6 1116.5,920.5 1117.8,920.7 1119,921.1 1120.2,921.9 1121.5,922.3 1122.8,921.9 1124,922.5 1125.2,922.2 1126.5,921.9 1127.8,922 1129,923 1130.2,922.4 1131.5,921.9 1132.8,922.1 1134,921.4 1135.2,921.5 1136.5,921.9 1137.8,920.6 1139,921.3 1140.2,922.1 1141.5,922.1 1142.8,923.9 1144,923.5 1145.2,923.6 1146.5,923.8 1147.8,924.3 1149,925.3 1150.2,923.5 1151.5,923.7 1152.8,923.6 1154,923.8 1155.2,924.8 1156.5,924.3 1157.2,924.3 1157.8,926 1159,926.7 1160.2,927.4 1161.5,926.1 1162.8,925.6 1164,927.1 1165.2,926.5 1166.5,926.1 1167.8,926.8 1169,926.9 1170.2,928.8 1171.5,928.3 1172.8,927.5 1174,927.5 1175.2,928.4 1176.5,928.5 1177.8,928.5 1179,927.4 1180.2,928.6 1181.5,928.3 1182.8,928.4 1184,928.9 1185.2,930.1 1186.5,930.3 1187.8,929.9 1189,929.9 1190.2,929.8 1191.5,929.3 1192.8,929.4 1194,930 1195.2,930.4 1196.5,930.1 1197.8,930.8 1199,930.8 1200.2,931.4 1201.5,930.2 1202.8,930.3 1204,930.6 1205.2,931.2 1206.5,931 1207.8,931.2 1209,931.1 1210.2,931.3 1211.5,929.9 1212.8,931.4 1214,930.9 1215.2,931.2 1216.5,931.3 1217.8,931.9 1219,932.2 1220.2,931.5 1221.5,931.7 1222.8,931.2 1224,931.6 1225.2,931.3 1226.5,931.4 1227.8,930.5 1229,930.7 1230.2,929.3 1231.5,928.7 1232.8,926.5 1234,925.8 1235.2,924.7 1236,924.5 1236.5,923.8 1237.8,925.4 1239,926 1240.2,926.2 1241.5,927.2 1242.8,928.1 1244,928.6 1245.2,929 1246.5,929.6 1247.8,930 1249,930.8 1250.2,931.9 1251.5,931.9 1252.8,932.1 1254,933.6 1255.2,933 1256.5,933.3 1257.8,933.1 1259,933.4 1260.2,932.7 1261.5,933.7 1262.8,933 1264,933.5 1265.2,933.4 1266.5,933.3 1267.8,933.3 1269,932.3 1270.2,931.6 1271.5,932.6 1272.8,932 1274,931.9 1275.2,931.7 1276.5,932.8 1277.8,932.4 1279,932.1 1280.2,932.1 1281.5,933 1282.8,932.2 1284,930.4 1285.2,930.7 1286.5,928.4 1287.8,926.4 1289,922.4 1290.2,917.8 1291.1,915.4 1291.5,915.8 1292.8,920.1 1294,924.2 1295.2,927.8 1296.5,929.6 1297.8,929.8 1299,931.2 1300.2,931.2 1301.5,932 1302.8,932.6 1304,931.9 1305.2,932.4 1306.5,932.5 1307.8,933.5 1309,932.6 1310.2,932.8 1311.5,932.2 1312.8,932.5 1314,932.8 1315.2,933.5 1316.5,932.9 1317.8,932.7 1319,932.8 1320.2,932.6 1321.5,933.5 1322.8,933.5 1324,933.1 1325.2,932.4 1326.5,933.5 1327.8,933.7 1329,934 1330.2,933.9 1331.5,934.4 1332.8,934.3 1334,934.5 1335.2,934.4 1336.5,934.7 1337.8,933.7 1339,934.4 1340.2,932.8 1341.5,933.1 1342.8,933 1344,931.7 1345.2,931.9 1346.5,931.4 1347.8,930.3 1349,930 1350.2,928.9 1351.5,929.3 1351.5,928.4 1352.8,928.9 1354,928.8 1355.2,928.9 1356.5,930.5 1357.8,930.3 1359,931.4 1360.2,932.3 1361.5,932.5 1362.8,933 1364,933.6 1365.2,932.7 1366.5,933.4 1367.8,932.8 1369,932.2 1370.2,932.8 1371.5,932.3 1372.8,932.8 1374,932.8 1375.2,934.1 1376.5,933.1 1377.8,933.7 1379,933.3 1380.2,933.2 1381.5,932.7 1382.8,933.2 1384,933.6 1385.2,932.9 1386.5,934 1387.8,933.5 1389,932.8 1390.2,934.1 1391.5,933.7 1392.8,934 1394,934.6 1395.2,935 1396.5,934.6 1397.8,934.2 1399,933.9 1400.2,934 1401.5,934.3 1402.8,934.5 1404,933.2 1405.2,933.9 1406.5,933.6 1407.8,933.7 1409,934.4 1410.2,935.4 1411.5,935.1 1412.8,934.7 1414,934.8 1415.2,934.6 1416.5,934.3 1417.8,933.6 1419,933.7 1420.2,933.2 1421.5,934.1 1422.8,933.5 1424,934.2 1425.2,933.6 1426.5,933.2 1427.8,934.6 1429,933.5 1430.2,934.6 1431.5,934.5 1432.8,933.9 1434,934.7 1435.2,934.8 1436.5,934.5 1437.8,935.1 1439,934.6 1440.2,934.7 1441.5,934.3 1442.8,935 1444,935.2 1445.2,935.7 1446.5,935.6 1447.8,935.7 1449,935.7 1450.2,936.1 1451.5,936.1 1452.8,936.3 1454,935.6 1455.2,936.3 1456.5,936.6 1457.8,935.4 1459,936.7 1460.2,936.2 1461.5,936.2 1462.8,936 1464,935.1 1465.2,935.3 1466.5,935.9 1467.8,935.6 1469,935.7 1470.2,935.9 1471.5,935.4 1472.8,935.3 1474,933.9 1475.2,934.7 1476.5,935.5 1477.8,935.9 1479,935.1 1480.2,935.9 1481.5,937.1 1482.8,936.4 1484,936.7 1485.2,936.8 1486.5,937.2 1487.8,936.6 1489,937.3 1490.2,936.1 1491.5,936.2 1492.8,936.4 1494,936 1495.2,936.1 1496.5,936.2 1497.8,935.6 1499,937.1 1500.2,936.1 1501.5,936.1 1502.8,936.2 1504,937.1 1505.2,936.3 1506.5,936.2 1507.8,937.2 1509,937.1 1510.2,936.6 1511.5,936.7 1512.8,937.1 1514,936.6 1515.2,936.2 1516.5,936.8 1517.8,936.2 1519,936.5 1520.2,936.3 1521.5,936.6 1522.8,936.5 1524,936.7 1525.2,936.1 1526.5,936.6 1527.8,935.5 1529,936.3 1530.2,936 1531.5,936.4 1532.8,935.8 1534,936.8 1535.2,937.4 1536.5,937 1537.8,936.6 1539,937.2 1540.2,936.6 1541.5,935.9 1542.8,936.3 1544,936.3 1545.2,936.1 1546.5,936.6 1547.8,936.2 1549,936.4 1550.2,936.6 1551.5,936.3 1552.8,936.7 1554,937.1 1555.2,936.3 1556.5,937 1557.8,937.2 1559,937.5 1560.2,937.1 1561.5,936.1 1562.8,936.7 1564,936.6 1565.2,935.9 1566.5,936.2 1567.8,936.7 1569,937.3 1570.2,938 1571.5,937.5 1572.8,938.5 1574,937.8 1575.2,938.3 1576.5,938.3 1577.8,937.3 1579,937.8 1580.2,936.6 1581.5,935.6 1582.8,936.5 1584,935.9 1585.2,935.6 1586.5,935.4 1587.8,934.4 1589,934.4 1590,933.7 1590.2,934.7 1591.5,935 1592.8,935.1 1594,934.9 1595.2,935.5 1596.5,935.5 1597.8,934.3 1599,934.4 1600.2,935.1 1601.5,934.2 1602.8,934.6 1604,934.6 1605.2,935.1 1606.5,935.7 1607.8,935.4 1609,936.1 1610.2,936.5 1611.5,935.7 1612.8,935.7 1614,934.2 1615.2,933.7 1615.5,933.9 1616.5,933.8 1617.8,934.4 1619,935 1620.2,935.6 1621.5,936.6 1622.8,936 1624,936.6 1625.2,936.7 1626.5,936.5 1627.8,936 1629,936.7 1630.2,937.2 1631.5,937.4 1632.8,936.9 1634,937.6 1635.2,937.7 1636.5,937.4 1637.8,937.9 1639,936.9 1640.2,936.8 1641.5,937.1 1642.8,937.1 1644,937.1 1645.2,937.6 1646.5,936.9 1647.8,937.5 1649,937.9 1650.2,937.2 1651.5,937.7 1652.8,936.9 1654,937.8 1655.2,937.6 1656.5,936.7 1657.8,936.7 1659,937.5 1660.2,937 1661.5,937 1662.8,937.8 1664,937.1 1665.2,937.5 1666.5,937.5 1667.8,938 1669,937.3 1670.2,938.2 1671.5,938.9 1672.8,937.6 1674,937.6 1675.2,937.5 1676.5,937.8 1677.8,937.6 1679,937.8 1680.2,937.7 1681.5,937.1 1682.8,938.4 1684,938.2 1685.2,938.1 1686.5,938 1687.8,938.3 1689,938.6 1690.2,938.6 1691.5,939.1 1692.8,937.7 1694,938.6 1695.2,939.5 1696.5,938.8 1697.8,939.4 1699,939.2 1700.2,938.7 1701.5,939.4 1702.8,938.9 1704,939.4 1705.2,939 1706.5,938.8 1707.8,938.9 1709,938.6 1710.2,938.9 1711.5,938.4 1712.8,938.6 1714,938.7 1715.2,938.3 1716.5,939.3 1717.8,939.1 1719,939.1 1720.2,939.1 1721.5,938.9 1722.8,939.4 1724,939.3 1725.2,939.1 1726.5,940.3 1727.8,940.3 1729,940.6 1730.2,940.8 1731.5,941.1 1732.8,941.2 1734,941.8 1735.2,941.5 1736.5,942 1737.8,942.1 1739,942 1740.2,941.5 1741.5,940.5 1742.8,939.7 1744,939.5 1745.2,939.7 1746.5,939.3 1747.8,939 1749,939.3 1749.8,939.7 1750.2,940 1751.5,939.5 1752.8,939.4 1754,940 1755.2,940.8 1756.5,940.6 1757.8,940.8 1759,940.5 1760.2,941.2 1761.5,941.8 1762.8,941.9 1764,942 1765.2,941.6 1766.5,941.6 1767.8,941.8 1769,941.3 1770.2,940.9 1771.5,941.7 1772.8,941.4 1774,941.2 1775.2,942.4 1776.5,942.5 1777.8,942.4 1779,942.6 1780.2,942.9 1781.5,942.6 1782.8,942.5 1784,942 1785.2,941.8 1786.5,942 1787.8,941.7 1789,941.6 1790.2,941.2 1791.5,941.2 1792.8,941.2 1794,942.3 1795.2,941.9 1796.5,942.3 1797.8,941.8 1799,942.8 1800.2,943 1801.5,942.3 1802.8,942.6 1804,941.5 1805.2,942.2 1806.5,942.4 1807.8,941.8 1809,941.9 1810.2,941.8 1811.5,942.5 1812.8,942 1814,942.1 1815.2,942.6 1816.5,941.4 1817.8,941.7 1819,942.4 1820.2,942.2 1821.5,943 1822.8,943.2 1824,943.3 1825.2,943.8 1826.5,943.1 1827.8,943.7 1829,943.1 1830.2,943.4 1831.5,943.6 1832.8,943.9 1834,943.6 1835.2,943.1 1836.5,943.2 1837.8,943.5 1839,943.6 1840.2,943 1841.5,942.9 1842.8,942.3 1844,943 1845.2,942.8 1846.5,943.1 1847.8,943.4 1849,943.9 1850.2,943.6 1851.5,943.7 1852.8,944.3 1854,943.9 1855.2,943.8 1856.5,943.4 1857.8,944 1859,943.1 1860.2,942.7 1861.5,942.3 1862.8,942.1 1864,941.9 1865.2,941.3 1866.5,941.7 1867.8,940.4 1869,941.4 1870.2,940.9 1871.5,940.7 1872.8,940.2 1873.6,939.8 1874,940.2 1875.2,940.2 1876.5,940.3 1877.8,940.9 1879,941.5 1880.2,941.8 1881.5,942.1 1882.8,943 1884,943 1885.2,942.6 1886.5,942.6 1887.8,942.8 1889,943.3 1890.2,942.7 1891.5,942.9 1892.8,942.9 1894,943.6 1895.2,943.3 1896.5,942.6 1897.8,942.5 1899,942.6 1900.2,942.7 1901.5,942.7 1902.8,943.2 1904,943.1 1905.2,943.7 1906.5,943.3 1907.8,943.3 1909,942.7 1910.2,943.1 1911.5,943 1912.8,942.3 1914,942.9 1915.2,942.8 1916.5,942.5 1917.8,944 1919,943.7 1920.2,944.7 1921.5,944.5 1922.8,944.2 1924,945 1925.2,944.1 1926.5,944 1927.8,944.1 1929,943.3 1930.2,943.8 1931.5,943.1 1932.8,943.7 1934,943 1935.2,943.7 1936.5,943.6 1937.8,944.6 1939,944 1940.2,943.8 1941.5,944 1942.8,943.8 1944,944.6 1945.2,943.6 1946.5,943.7 1947.8,943.3 1949,943.7 1950.2,943.8 1951.5,944.7 1952.8,944.9 1954,944.7 1955.2,944.7 1956.5,944.2 1957.8,944.1 1959,944.5 1960.2,945.4 1961.5,944.9 1962.8,945.2 1964,944.6 1965.2,944.7 1966.5,944.3 1967.8,944.6 1969,944.7 1970.2,944.8 1971.5,944.4 1972.8,945 1974,944.2 1975.2,943 1976.5,942.5 1977.8,941.1 1979,940.2 1980.2,939.2 1981.5,938.4 1982.1,938.5 1982.8,938.4 1984,939.1 1985.2,939.7 1986.5,941 1987.8,942 1989,942.3 1990.2,943.2 1991.5,944.5 1992.8,945.1 1994,945.7 1995.2,946.3 1996.5,945.8 1997.8,946.5 1999,946.4 2000.2,945.7 2001.5,945.9 2002.8,944.8 2004,944.4 2005.2,945 2006.5,944.8 2007.8,944.6 2009,945 2010.2,944.6 2011.5,944.8 2012.8,945.3 2014,945.6 2015.2,944.9 2016.5,945.3 2017.8,945.8 2019,946.4 2020.2,945.8 2021.5,945.9 2022.8,945.7 2024,946 2025.2,945.4 2026.5,946.1 2027.8,947.9 2029,947.7 2030.2,948.3 2031.5,948.9 2032.8,948 2034,947.5 2035.2,946.1 2036.5,945.9 2037.8,944.8 2039,945.3 2040.2,945.7 2041.5,945.9 2042.8,946.2 2044,945.8 2045.2,946.2 2046.5,946.6 2047.8,946.5 2049,946.8 2050.2,946 2051.5,946.4 2052.8,946 2054,946.3 2055.2,946.8 2056.5,945.5 2057.8,946.4 2059,945.8 2060.2,945.1 2061.5,945.6 2062.8,946.3 2064,946.6 2065.2,947.3 2066.5,947.5 2067.8,947.2 2069,948.4 2070.2,947.3 2071.5,947.5 2072.8,946.4 2074,946.2 2075.2,947.2 2076.5,947.4 2077.8,947.6 2079,947.4 2080.2,947 2081.5,946.5 2082.8,947.6 2084,947.2 2085.2,946.9 2086.5,947.3 2087.8,946.4 2089,948.3 2090.2,947.7 2091.5,947.6 2092.8,947.9 2094,947.2 2095.2,947.2 2096.5,947.1 2097.8,946.3 2099,947.2 2100.2,946.8 2101.5,946.3 2102.8,947 2104,947.1 2105.2,947.9 2106.5,946.9 2107.8,947.3 2109,946.6 2110.2,946.3 2111.5,946.5 2112.8,945.7 2114,945.4 2115.2,945.3 2116.5,945.6 2117.4,945.2 2117.8,945.4 2119,945.4 2120.2,947 2121.5,946.8 2122.8,946.6 2124,947.1 2125.2,947.2 2126.5,946.8 2127.8,948.6 2129,948.5 2130.2,948 2131.5,947.3 2132.8,948.2 2134,948.2 2135.2,948.1 2136.5,947.4 2137.8,948.4 2139,948.2 2140.2,949 2141.5,948.3 2142.8,948.2 2144,948.9 2145.2,948.4 2146.5,948.4 2147.8,948.4 2149,947.6 2150.2,947.3 2151.5,948.1 2152.8,948.6 2154,947.6 2155.2,948.1 2156.5,948.1 2157.8,948.5 2159,948.8 2160.2,948.8 2161.5,948.5 2162.8,948.5 2164,946.9 2165.2,947.9 2166.5,947.9 2167.8,946.9 2169,947.8 2170.2,948.4 2171.5,949.1 2172.8,949.3 2174,948.8 2175.2,949.9 2176.5,950.3 2177.8,950 2179,949.5 2180.2,948.6 2181.5,949.3 2182.8,948.9 2184,949.1 2185.2,949.1 2186.5,948.8 2187.8,949.1 2189,948.4 2190.2,948.4 2191.5,948.7 2192.8,948.4 2194,948.5 2195.2,949.6 2196.5,949.1 2197.8,949.5 2199,949.8 2200.2,949.9 2201.5,950.2 2202.8,949.7 2204,949.7 2205.2,949.6 2206.5,949.1 2207.8,949.2 2209,949.4 2210.2,949.2 2211.5,948.7 2212.8,948.9 2214,947.9 2215.2,948.7 2216.5,947.6 2217.8,948.4 2219,947.9 2220.2,947.8 2221.5,948.6 2222.8,949 2224,949 2225.2,949.5 2226.5,949.5 2227.8,950 2229,949.7 2230.2,949.3 2231.5,950 2232.8,949.3 2234,949.5 2235.2,950.1 2236.5,950.5 2237.8,949.9 2239,949.5 2240.2,950.5 2241.5,950.2 2242.8,949.8 2244,949.8 2245.2,950.1 2246.5,950.2 2247.8,949.9 2249,949.5 2250.2,949.2 2251.5,950.1 2252.8,950.1 2254,949.8 2255.2,949.3 2256.5,949.4 2257.8,950.2 2259,950 2260.2,949.8 2261.5,950.5 2262.8,950.7 2264,950.1 2265.2,949.9 2266.5,950.5 2267.8,950.7 2269,950.2 2270.2,950.6 2271.5,950.8 2272.8,950.2 2274,950.9 2275.2,950.1 2276.5,950.5 2277.8,950.1 2279,950.2 2280.2,950.4 2281.5,950.9 2282.8,951.3 2284,951.4 2285.2,951.8 2286.5,951.1 2287.8,950.1 2289,950.2 2290.2,949.7 2291.5,950.4 2292.8,950.7 2294,950 2295.2,950.7 2296.5,950.5 2297.8,950.8 2299,950.3 2300.2,950.7 2301.5,951.1 2302.8,950.4 2304,951.1 2305.2,950.5 2306.5,950.3 2307.8,950.4 2308.5,949.9"/>
<polyline class="c" stroke="#8080ff" points="41.5,750.5 42.8,749.7 44,751.4 45.2,753.3 46.5,752 47.8,751.6 49,750.2 50.2,752 51.5,752.8 52.8,754.1 54,753.8 55.2,755.9 56.5,756.2 57.8,756.4 59,755.4 60.2,754.9 61.5,756.2 62.8,756.8 64,758.5 65.2,758.8 66.5,758.7 67.8,761 69,761.1 70.2,759.6 71.5,761.8 72.8,762.3 74,761.6 75.2,763.4 76.5,762.9 77.8,763.1 79,764.1 80.2,764.5 81.5,766.2 82.8,765 84,766.3 85.2,767.8 86.5,768.3 87.8,768.3 89,768 90.2,768.7 91.5,769.6 92.8,770.3 94,769.7 95.2,770.5 96.5,770.6 97.8,771.6 99,772 100.2,771.3 101.5,772.3 102.8,772.3 104,772.1 105.2,774.7 106.5,773.8 107.8,774.5 109,773 110.2,773.8 111.5,774.3 112.8,774 114,774.6 115.2,775.3 116.5,776.3 117.8,775.5 119,776.3 120.2,777.4 121.5,775.7 122.8,779.1 124,777.9 125.2,779.9 126.5,779.1 127.8,779.4 129,780.1 130.2,781.5 131.5,781.3 132.8,781 134,781.9 135.2,783 136.5,782.6 137.8,783.6 139,783.1 140.2,784 141.5,783.1 142.8,783.7 144,783.1 145.2,783.4 146.5,784 147.8,783.5 149,784.9 150.2,785.9 151.5,786.4 152.8,786.5 154,786.7 155.2,786.6 156.5,786.7 157.8,786.9 159,787 160.2,788.4 161.5,787.9 162.8,788.4 164,789 165.2,789.3 166.5,789.5 167.8,789.9 169,791.1 170.2,790.7 171.5,791.4 172.8,792.1 174,794.4 175.2,793.1 176.5,793 177.8,791.8 179,792.8 180.2,792.9 181.5,791.8 182.8,792 184,792.5 185.2,793.4 186.5,792.9 187.8,792.7 189,793.3 190.2,793.6 191.5,794.3 192.8,794.6 194,792.9 195.2,794.1 196.5,795.8 197.8,797.3 199,796.4 200.2,795.9 201.5,796.5 202.8,797.2 204,796.5 205.2,795.6 206.5,796.5 207.8,797.1 209,796.3 210.2,796.2 211.5,796.7 212.8,798.2 214,798.1 215.2,797.6 216.5,798 217.8,798.7 219,797.7 220.2,797.2 221.5,797 222.8,797.7 224,797.7 225.2,797.2 226.5,797.8 227.8,798.5 229,797.7 230.2,799.1 231.5,798.6 232.8,800.1 234,801 235.2,800.9 236.5,801.4 237.8,801.4 239,802.1 240.2,801.2 241.5,801.3 242.8,801.9 244,801.6 245.2,801.4 246.5,801.1 247.8,801 249,801.2 250.2,800.7 251.5,802.1 252.8,800.8 254,803.1 255.2,803.1 256.5,802.5 257.8,802.2 259,801.6 260.2,801.8 261.5,802.1 262.8,801.3 264,801.8 265.2,803 266.5,803.4 267.8,804.5 269,803.9 270.2,803.5 271.5,803.4 272.8,803.1 274,804.1 275.2,803.9 276.5,804.9 277.8,804 279,805.2 280.2,805.5 281.5,806.5 282.8,804.8 284,804.4 285.2,806.1 286.5,805.1 287.8,806.2 289,805.2 290.2,805.5 291.5,804.5 292.8,806.3 294,805.9 295.2,804.3 296.5,804.3 297.8,804.6 299,804.3 300.2,804 301.5,804.7 302.8,805.1 304,805.1 305.2,804.9 306.5,805.6 307.8,806.4 309,806.7 310.2,806 311.5,806.8 312.8,807.2 314,806.2 315.2,807 316.5,807.2 317.8,806.3 319,806.2 320.2,807.3 321.5,806.4 322.8,806.7 324,806.7 325.2,807.2 326.5,805.2 327.8,805.2 329,804.6 330.2,805.6 331.5,806.2 332.8,804.8 334,807 335.2,805.6 336.5,806.1 337.8,805.8 339,805.4 340.2,806 341.5,806.1 342.8,807.4 344,807 345.2,806.4 346.5,806.4 347.8,805.5 349,806.4 350.2,806.2 351.5,806.6 352.8,806.9 354,805.7 355.2,806.6 356.5,805.6 357.8,805.6 359,806.6 360.2,806.4 361.5,807.6 362.8,807.9 364,807.2 365.2,807 366.5,807 367.8,805.7 369,806.3 370.2,806.8 371.5,805.6 372.8,806 374,806.7 375.2,808.3 376.5,806.9 377.8,807.9 379,806.9 380.2,806.7 381.5,805.8 382.8,806 384,806.6 385.2,806.4 386.5,806 387.8,806.8 389,807.4 390.2,806.4 391.5,806.8 392.8,806.3 394,805.9 395.2,806.4 396.5,807.4 397.8,805.7 399,806.9 400.2,806.7 401.5,807.5 402.8,806.6 404,806.4 405.2,807 406.5,806.8 407.8,806.9 409,806.7 410.2,806.6 411.5,805.4 412.8,806.3 414,806.4 415.2,806.6 416.5,806.8 417.8,805.9 419,806.9 420.2,806.6 421.5,806.1 422.8,805.8 424,805.3 425.2,806 426.5,803.7 427.8,804.8 429,802.8 430.2,801.1 431.5,801.6 432.8,800.4 434,797.7 435.2,794.3 436.5,787.8 437.8,777.8 439,765.7 440.2,757.7 440.3,758 441.5,768.6 442.8,787.6 444,798.6 445.2,802.7 446.5,804.3 447.8,804.3 449,804.8 450.2,805 451.5,806 452.8,805.9 454,805.9 455.2,806.1 456.5,805.8 457.8,805.7 459,806 460.2,806.4 461.5,806.8 462.8,806.1 464,807.6 465.2,807.2 466.5,807 467.8,806.5 469,807 470.2,805.9 471.5,806 472.8,805.9 474,805.1 475.2,804.6 476.5,806 477.8,806.4 479,807.2 480.2,807.2 481.5,807.1 482.8,807.6 484,806.6 485.2,805.7 486.5,805.5 487.8,806.1 489,804.8 490.2,806.1 491.5,806.6 492.8,806.4 494,806.7 495.2,806.3 496.5,806.6 497.8,806.8 499,807.3 500.2,806.9 501.5,807 502.8,807.1 504,806.8 505.2,805.8 506.5,807.1 507.8,806.8 509,807.4 510.2,807.3 511.5,807.6 512.8,806.8 514,806 515.2,806.2 516.5,805.1 517.8,806.3 519,804.9 520.2,806 521.5,806.4 522.8,805.7 524,806.3 525.2,804.7 526.5,806.3 527.8,805.2 529,805.6 530.2,806.4 531.5,806.5 532.8,806.1 534,806 535.2,806.9 536.5,806 537.8,806.3 539,806.6 540.2,805.9 541.5,806 542.8,806.3 544,806.3 545.2,805.7 546.5,805.2 547.8,806.4 549,805.8 550.2,806.3 551.5,805.8 552.8,805.6 554,805.9 555.2,804.9 556.5,805.1 557.8,806.1 559,805.6 560.2,805.3 561.5,804.8 562.8,804.6 564,803.6 565.2,804 566.5,803.3 567.8,804.3 569,804.9 570.2,804.3 571.5,805.6 572.8,804.3 574,804 575.2,804 576.5,802.8 577.8,802.3 579,803.2 580.2,802.8 581.5,802.7 582.8,802.6 584,801.5 585.2,800.7 586.5,799.9 587.8,799 589,798.3 590.2,795.7 591.5,795.8 592.8,792.2 594,791.4 594.6,789.7 595.2,790.4 596.5,791.6 597.8,794.6 599,796.5 600.2,797.7 601.5,799.7 602.8,800.3 604,800.8 605.2,801 606.5,801.6 607.8,801.6 609,799.9 610.2,800.7 611.5,800.3 612.8,799.9 614,799.1 615.2,799.3 616.5,798.9 617.8,798.1 619,797.6 620.2,798.6 621.5,798.4 622.8,799.3 624,799.2 625.2,800.3 626.5,799.7 627.8,799.3 629,799.7 630.2,799.4 631.5,798.7 632.8,799.2 634,799.8 635.2,799.4 636.5,798.9 637.8,798.8 639,799.3 640.2,798.3 641.5,798.4 642.8,798.2 644,798.8 645.2,798.9 646.5,798.3 647.8,798.5 649,797.4 650.2,797.5 651.5,797.6 652.8,798.4 654,798.5 655.2,797.1 656.5,798 657.8,796.9 659,797.2 660.2,797.2 661.5,797.4 662.8,797.4 664,796.8 665.2,797.3 666.5,797.2 667.8,796.1 669,797.3 670.2,796.3 671.5,797 672.8,797.8 674,796.4 675.2,797.2 676.5,795.6 677.8,796.5 679,796.4 680.2,797.6 681.5,796.7 682.8,796.3 684,796.6 685.2,795.7 686.5,797 687.8,797.2 689,798 690.2,796.9 691.5,797.3 692.8,796.6 694,796.1 695.2,796.6 696.5,795.5 697.8,796 699,796.3 700.2,796.3 701.5,796 702.8,795.6 704,795.7 705.2,795.6 706.5,794.5 707.8,795.2 709,795.7 710.2,795.8 711.5,795.2 712.8,795.2 714,795.4 715.2,795.1 716.5,795.7 717.8,794.2 719,793.9 720.2,794.2 721.5,794.1 722.8,794.7 724,793.9 725.2,794.7 726.5,794.9 727.8,794.7 729,795.9 730.2,795.2 731.5,795.9 732.8,794.6 734,795 735.2,793.6 736.5,794 737.8,794.1 739,793.9 740.2,793.6 741.5,793.4 742.8,792.4 744,792.5 745.2,792.3 746.5,792.9 747.8,792 749,793.3 750.2,792.3 751.5,792.4 752.8,791.9 754,791 755.2,790.4 756.5,789.7 757.8,789.8 759,790.2 760.2,789.4 761.5,787.7 762.8,786.5 764,786.1 765.2,785 766.5,782 767.8,778.3 769,771.1 770.2,760.4 771.5,749 772.8,737.4 773.6,734.6 774,735.1 775.2,741.2 776.5,750.3 777.8,755.8 779,754.9 780.2,744.9 781.5,725.6 782.8,710.1 783,709.9 784,717.2 785.2,736.2 786.5,749.9 787.8,756.8 789,761.1 790.2,762.2 791.5,762 792.8,756.4 794,745.8 795.2,727.7 796.5,713.3 796.8,714.4 797.8,725 799,749.9 800.2,767.8 801.5,776.8 802.8,780.9 804,783.2 805.2,784 806.5,784.2 807.8,783.9 809,784.2 810.2,784.8 811.5,784.6 812.8,784.3 814,785.2 815.2,785.4 816.5,785.4 817.8,784.6 819,785 820.2,784.7 821.5,784.4 822.8,784.6 824,785.2 825.2,785.3 826.5,785.5 827.8,785.6 829,783.7 830.2,784 831.5,784.6 832.8,784.8 834,784.3 835.2,783.8 836.5,783.5 837.8,784.2 839,783.5 840.2,782.7 841.5,783.4 842.8,784.3 844,782.8 845.2,784.5 846.5,783.9 847.8,783.9 849,784.4 850.2,781.9 851.5,782.3 852.8,781.5 854,781.2 855.2,780.6 856.5,779.6 857.8,780.7 859,779.8 860.2,780.3 861.5,779.9 862.8,779.1 864,779 865.2,777.8 866.5,778 867.8,778.7 869,777.1 870.2,777.7 871.5,775.6 872.8,776.6 874,774.4 875.2,773.9 876.5,773.3 877.8,773.7 879,773.4 880.2,772.9 881.5,772.6 882.8,771.2 884,770.1 885.2,768.1 886.5,765.2 887.8,764.4 889,761.4 890.2,757.4 891.5,755.9 892.8,754.1 892.8,754.4 894,756.2 895.2,758.2 896.5,761.9 897.8,764 899,766.9 900.2,767.5 901.5,768.4 902.8,769.1 904,770 905.2,771.6 906.5,772.2 907.8,772.4 909,773.2 910.2,772.6 911.5,772.6 912.8,771.7 914,773.7 915.2,774.2 916.5,774.2 917.8,774.8 919,776.1 920.2,775.9 921.5,776.7 922.8,776.5 924,777.1 925.2,776.8 926.5,777.6 927.8,777.7 929,777.7 930.2,777.7 931.5,779 932.8,777.8 934,777.3 935.2,778 936.5,777.5 937.8,777.3 939,777.5 940.2,777.9 941.5,777.8 942.8,774.5 944,772 945.2,766.7 946.5,761.4 946.9,760.8 947.8,762.4 949,769.5 950.2,773.1 951.5,775.5 952.8,776.1 954,778.2 955.2,778.9 956.5,779.3 957.8,779.8 959,780.6 960.2,780.6 961.5,780.2 962.8,780.3 964,780.4 965.2,783.3 966.5,782.5 967.8,781.6 969,783.5 970.2,782.9 971.5,783.2 972.8,783.6 974,783.3 975.2,785 976.5,783.5 977.8,785.3 979,786 980.2,785.6 981.5,786.5 982.8,787.1 984,786.9 985.2,788.4 986.5,787.9 987.8,787.8 989,789.5 990.2,789.6 991.5,790.4 992.8,789.4 994,790.8 995.2,791 996.5,789.5 997.8,789.7 999,790.5 1000.2,791.1 1001.5,790.7 1002.8,791.4 1004,791.5 1005.2,793.2 1006.5,790.4 1007.8,791 1009,790.9 1010.2,792.6 1011.5,791.8 1012.8,793 1014,789.9 1015.2,791 1016.5,790.9 1017.8,790.7 1019,788.8 1020.2,787.8 1021.5,783.9 1022.8,778.5 1024,769.6 1025,766 1025.2,764.9 1026.5,773.2 1027.8,780.5 1029,785.7 1030.2,789.9 1031.5,791.8 1032.8,795 1034,794 1035.2,795 1036.5,795.7 1037.8,795.8 1039,797.6 1040.2,797 1041.5,797.5 1042.8,796.2 1044,797.1 1045.2,795.7 1046.5,795 1047.8,796.1 1049,796.2 1050.2,797.2 1051.5,796.8 1052.8,798 1054,798.2 1055.2,799 1056.5,799.8 1057.8,800.2 1059,801.3 1060.2,800.1 1061.5,801.6 1062.8,800.3 1064,802.8 1065.2,802.8 1066.5,802.1 1067.8,804.2 1069,803.9 1070.2,803.2 1071.5,804.4 1072.8,803 1074,803.6 1075.2,804 1076.5,803.6 1077.8,803.6 1079,804.6 1080.2,804.1 1081.5,803.8 1082.8,802.5 1084,803.2 1085.2,803.7 1086.5,802.4 1087.8,803 1089,802.5 1090.2,800.8 1091.5,798.7 1092.8,795.8 1094,788 1095.2,775.3 1096.5,766 1096.9,764.5 1097.8,768.1 1099,780.5 1100.2,790.6 1101.5,796.1 1102.8,799.9 1104,802.4 1105.2,802.6 1106.5,804 1107.8,805.1 1109,805.4 1110.2,805.6 1111.5,806.3 1112.8,806.7 1114,806.4 1115.2,807.2 1116.5,808 1117.8,808.2 1119,807.2 1120.2,807.7 1121.5,807.8 1122.8,806.7 1124,806.4 1125.2,806.8 1126.5,807.9 1127.8,807.9 1129,808.1 1130.2,808.3 1131.5,809.3 1132.8,810.1 1134,809.7 1135.2,809.1 1136.5,810.4 1137.8,810.7 1139,810.2 1140.2,810.2 1141.5,809.9 1142.8,810.9 1144,811.5 1145.2,813 1146.5,812.1 1147.8,813 1149,813.4 1150.2,812.9 1151.5,813 1152.8,812.3 1154,811 1155.2,809.6 1156.5,807.7 1157.2,807.3 1157.8,806.8 1159,807.6 1160.2,810 1161.5,812.4 1162.8,811.9 1164,812.3 1165.2,813.7 1166.5,814.5 1167.8,814.1 1169,813.8 1170.2,815.5 1171.5,815.2 1172.8,815.4 1174,814.8 1175.2,813.4 1176.5,813.7 1177.8,813.7 1179,814.4 1180.2,814.7 1181.5,814.9 1182.8,816.2 1184,816.2 1185.2,816.4 1186.5,815.8 1187.8,816.6 1189,816.7 1190.2,816 1191.5,817.5 1192.8,817.7 1194,817.7 1195.2,817 1196.5,817.2 1197.8,817.5 1199,817 1200.2,816.8 1201.5,816.3 1202.8,816.6 1204,815.9 1205.2,816.6 1206.5,816.8 1207.8,816.3 1209,817.4 1210.2,817.1 1211.5,816.9 1212.8,816.5 1214,817.1 1215.2,817.3 1216.5,817.3 1217.8,819.4 1219,817.7 1220.2,818.9 1221.5,818.9 1222.8,818.9 1224,819.5 1225.2,817.9 1226.5,818.9 1227.8,818.5 1229,818.8 1230.2,816.6 1231.5,814.6 1232.8,812.8 1234,809.5 1235.2,805.8 1236,805.4 1236.5,805.2 1237.8,806.6 1239,807 1240.2,809.7 1241.5,811.5 1242.8,813.2 1244,814.4 1245.2,814.2 1246.5,816.3 1247.8,816.9 1249,817.7 1250.2,817.9 1251.5,818.4 1252.8,819.2 1254,819.3 1255.2,819.3 1256.5,818.9 1257.8,819.8 1259,820.4 1260.2,820.2 1261.5,819.7 1262.8,819.6 1264,820.5 1265.2,819.7 1266.5,820.1 1267.8,819.5 1269,820 1270.2,817.9 1271.5,818 1272.8,818.1 1273,818.4 1274,818.4 1275.2,817.7 1276.5,818.6 1277.8,817.7 1279,817.7 1280.2,817.1 1281.5,817.4 1282.8,816.1 1284,814.8 1285.2,813.8 1286.5,809.8 1287.8,803.2 1289,791.5 1290.2,777.8 1291.1,772.6 1291.5,773.1 1292.8,785 1294,798.1 1295.2,806.9 1296.5,812.3 1297.8,815.2 1299,816.7 1300.2,816.9 1301.5,817.6 1302.8,818.8 1304,819.2 1305.2,818.1 1306.5,819.7 1307.8,820.3 1309,820.3 1310.2,820.4 1311.5,820.6 1312.8,821.4 1314,821.2 1315.2,820.7 1316.5,819.7 1317.8,819.5 1319,819.3 1320.2,819 1321.5,819.3 1322.8,820.3 1324,820.2 1325.2,820.2 1326.5,820 1327.8,820.2 1329,820.8 1330.2,820.4 1331.5,821 1332.8,821.3 1334,821 1335.2,820.9 1336.5,821.1 1337.8,821.8 1339,820.7 1340.2,819.8 1341.5,819.8 1342.8,818.4 1344,818.4 1345.2,816.1 1346.5,814.2 1347.8,811.2 1349,810 1350.2,807.9 1351.5,807.9 1351.5,807.1 1352.8,808.2 1354,809.6 1355.2,811.5 1356.5,812.1 1357.8,814.9 1359,816.5 1360.2,817.3 1361.5,817.3 1362.8,818.5 1364,820.6 1365.2,820.1 1366.5,819.6 1367.8,820.5 1369,820.5 1370.2,821.1 1371.5,820.7 1372.8,821.5 1374,821.8 1375.2,820.7 1376.5,821.6 1377.8,822.1 1379,822.1 1380.2,821.6 1381.5,821.6 1382.8,822.5 1384,821.2 1385.2,822.1 1386.5,821.5 1387.8,820.7 1389,821.2 1390.2,821.6 1391.5,821.4 1392.8,821.1 1394,821.3 1395.2,820.6 1396.5,821.1 1397.8,820.8 1399,820.8 1400.2,820.8 1401.5,821 1402.8,821.3 1404,821.7 1405.2,821.5 1406.5,822.1 1407.8,821.9 1409,821.5 1410.2,821.7 1411.5,821.2 1412.8,820.7 1414,821.8 1415.2,821.3 1416.5,821.2 1417.8,820.7 1419,821.3 1420.2,821.5 1421.5,821.4 1422.8,822.4 1424,822.7 1425.2,822.4 1426.5,822.1 1427.8,821.6 1429,821.9 1430.2,822.1 1431.5,821.2 1432.8,822 1434,822.2 1435.2,821.2 1436.5,822.4 1437.8,822.4 1439,822.3 1440.2,821.8 1441.5,821.7 1442.8,822.8 1444,822.5 1445.2,822.8 1446.5,823.5 1447.8,822.7 1449,822.4 1450.2,823.5 1451.5,822.7 1452.8,822.2 1454,822.3 1455.2,822.3 1456.5,823 1457.8,822.4 1459,823.4 1460.2,822.9 1461.5,822.7 1462.8,823.5 1464,823.3 1465.2,823.9 1466.5,823.7 1467.8,823 1469,823.2 1470.2,823.3 1471.5,823.1 1472.8,823.8 1474,823.2 1475.2,823.9 1476.5,823.7 1477.8,823.6 1479,823.9 1480.2,825 1481.5,823.9 1482.8,824.8 1484,824.2 1485.2,824.5 1486.5,824.7 1487.8,824 1489,823.8 1490.2,824.3 1491.5,824.8 1492.8,824.1 1494,825.2 1495.2,824.9 1496.5,825 1497.8,825.2 1499,824.8 1500.2,823.9 1501.5,824.6 1502.8,824 1504,825.2 1505.2,824.1 1506.5,824.3 1507.8,824.9 1509,824.3 1510.2,824.2 1511.5,824.8 1512.8,824.8 1514,823.4 1515.2,824 1516.5,824 1517.8,823.7 1519,823.9 1520.2,823.3 1521.5,823.5 1522.8,823.5 1524,824.2 1525.2,824.1 1526.5,824.2 1527.8,824.5 1529,825.2 1530.2,824.8 1531.5,824.6 1532.8,823.9 1534,824.4 1535.2,825.2 1536.5,825.4 1537.8,825 1539,825.2 1540.2,825.3 1541.5,825.2 1542.8,823.9 1544,824.4 1545.2,824 1546.5,823.6 1547.8,823 1549,823 1549.2,822.7 1550.2,822.9 1551.5,822.6 1552.8,822.4 1554,822.8 1555.2,824 1556.5,824.5 1557.8,824.9 1559,825.3 1560.2,825.8 1561.5,826 1562.8,825.5 1564,827.2 1565.2,825.8 1566.5,825.8 1567.8,825.3 1569,825.3 1570.2,826.3 1571.5,825.9 1572.8,826.1 1574,825.2 1575.2,826.3 1576.5,825.5 1577.8,825.1 1579,824.2 1580.2,824.5 1581.5,823.6 1582.8,823.3 1584,823.1 1585.2,822.4 1586.5,821.6 1587.8,821 1589,820.3 1590,821.1 1590.2,820.4 1591.5,820.9 1592.8,820.6 1594,822 1595.2,821.4 1596.5,823.4 1597.8,824.5 1599,823.3 1600.2,824.4 1601.5,824.4 1602.8,824.3 1604,825 1605.2,824.9 1606.5,824.6 1607.8,824.7 1609,824 1610.2,823.1 1611.5,823.2 1612.8,822 1614,821.3 1615.2,821.2 1615.5,821.2 1616.5,820.6 1617.8,820.1 1619,822.2 1620.2,822.5 1621.5,823.3 1622.8,824.9 1624,824.5 1625.2,826.5 1626.5,825.8 1627.8,826 1629,825.7 1630.2,825.5 1631.5,826.7 1632.8,826.6 1634,826.1 1635.2,826 1636.5,826.6 1637.8,827.2 1639,826.5 1640.2,826.7 1641.5,826.8 1642.8,827.8 1644,827.9 1645.2,826.9 1646.5,827.5 1647.8,827.4 1649,827.4 1650.2,827.4 1651.5,827.6 1652.8,827.7 1654,827.5 1655.2,827.1 1656.5,827.7 1657.8,826.8 1659,826.9 1660.2,827.5 1661.5,827.9 1662.8,827.8 1664,828.8 1665.2,827.4 1666.5,828 1667.8,827.8 1669,828.7 1670.2,828 1671.5,827.6 1672.8,828 1674,828.6 1675.2,828.5 1676.5,828.8 1677.8,829.1 1679,828.9 1680.2,828.8 1681.5,829.1 1682.8,828.2 1684,828.5 1685.2,827.9 1686.5,827.6 1687.8,827.9 1689,828 1690.2,828.2 1691.5,828.5 1692.8,828.3 1694,827.8 1695.2,827.3 1696.5,828.2 1697.8,827.7 1699,828.3 1700.2,828.9 1701.5,829 1702.8,829.5 1704,829.1 1705.2,829.3 1706.5,829.6 1707.8,829.2 1709,829.3 1710.2,829.1 1711.5,828.8 1712.8,829.1 1714,828.8 1715.2,829.1 1716.5,829.7 1717.8,829.2 1719,829.4 1720.2,829 1721.5,828 1722.8,828.3 1724,828.5 1725.2,828.8 1726.5,828.5 1727.8,828.4 1729,828.4 1730.2,828.8 1731.5,828.9 1732.8,829.4 1734,828.7 1735.2,829.5 1736.5,828.9 1737.8,828.8 1739,828.1 1740.2,827.2 1741.5,826.8 1742.8,825.6 1744,825.1 1745.2,824.5 1746.5,823.1 1747.8,823.5 1749,823.1 1749.8,823.3 1750.2,823.7 1751.5,823.8 1752.8,823.8 1754,824 1755.2,824 1756.5,825.5 1757.8,824.8 1759,825.7 1760.2,826.5 1761.5,827.4 1762.8,827.8 1764,828.4 1765.2,828.5 1766.5,828.7 1767.8,829.9 1769,829.3 1770.2,829.8 1771.5,830.1 1772.8,829.9 1774,830.4 1775.2,829.6 1776.5,830.4 1777.8,830.7 1779,829.4 1780.2,830.1 1781.5,829.2 1782.8,830.1 1784,829.4 1785.2,829 1786.5,831.3 1787.8,830.3 1789,830.9 1790.2,830.9 1791.5,831.2 1792.8,831.8 1794,830.5 1795.2,830.9 1796.5,831.7 1797.8,832 1799,830.5 1800.2,830.6 1801.5,830.9 1802.8,831.4 1804,830.8 1805.2,830.6 1806.5,831.9 1807.8,831.5 1809,830.9 1810.2,831 1811.5,830.9 1812.8,830.7 1814,830.6 1815.2,829.5 1816.5,830 1817.8,830.8 1819,829.9 1820.2,830.2 1821.5,830.1 1822.8,829.9 1824,830.9 1825.2,831.7 1826.5,831.2 1827.8,831 1829,830.6 1830.2,831 1831.5,831 1832.8,831 1834,831 1835.2,831.8 1836.5,831.2 1837.8,830.3 1839,830.6 1840.2,831.2 1841.5,831.6 1842.8,831.2 1844,831.4 1845.2,831.8 1846.5,831.7 1847.8,831.6 1849,830.4 1850.2,830.3 1851.5,831.6 1852.8,830.8 1854,831.6 1855.2,831.3 1856.5,831.8 1857.8,831.3 1859,831.7 1860.2,831.7 1861.5,830.8 1862.8,831.4 1864,830.7 1865.2,830.3 1866.5,829.2 1867.8,829.1 1869,827.7 1870.2,827.2 1871.5,825.4 1872.8,824.4 1873.6,824.4 1874,824 1875.2,824.1 1876.5,824.6 1877.8,826 1879,826.9 1880.2,828.9 1881.5,829.7 1882.8,829.9 1884,831.2 1885.2,831.6 1886.5,831.5 1887.8,832.2 1889,832 1890.2,832 1891.5,831.5 1892.8,831.4 1894,831.8 1895.2,830.8 1896.5,831.2 1897.8,830.8 1899,830.9 1899.7,831.2 1900.2,830.6 1901.5,831.5 1902.8,832.3 1904,832.5 1905.2,831.9 1906.5,832.4 1907.8,832.3 1909,831.7 1910.2,832.1 1911.5,832 1912.8,832.1 1914,832.7 1915.2,832.6 1916.5,832.9 1917.8,832.2 1919,832.6 1920.2,831.5 1921.5,831.7 1922.8,831.8 1924,832.3 1925.2,833.3 1926.5,832.6 1927.8,832.9 1929,832.5 1930.2,832.4 1931.5,833.3 1932.8,833.5 1934,833.6 1935.2,834.1 1936.5,834.6 1937.8,834.6 1939,834 1940.2,833.9 1941.5,833.3 1942.8,832.6 1944,832.2 1945.2,831.7 1946.5,831.2 1947.8,830.8 1949,830.2 1950.2,830.8 1951.5,830.7 1952.8,830.9 1954,830.8 1955.2,830.7 1956.5,830.8 1957.8,831.1 1959,830.6 1959,830.5 1960.2,830.8 1961.5,831.7 1962.8,831.5 1964,830.7 1965.2,831.9 1966.5,832.6 1967.8,831.7 1969,832.4 1970.2,831.7 1971.5,831.4 1972.8,831 1974,829.6 1975.2,828.1 1976.5,825.6 1977.8,822.3 1979,818.8 1980.2,814.2 1981.5,811.1 1982.1,811.1 1982.8,811.1 1984,813.6 1985.2,816.7 1986.5,820.7 1987.8,823.8 1989,827 1990.2,829 1991.5,830.3 1992.8,831.2 1994,831.6 1995.2,833.4 1996.5,832.5 1997.8,833.2 1999,834.2 2000.2,834.7 2001.5,834.4 2002.8,833.6 2004,834.4 2005.2,833.7 2006.5,834.3 2007.8,833.6 2009,833.8 2010.2,835.1 2011.5,835.2 2012.8,834.3 2014,834.5 2015.2,835.1 2016.5,834.3 2017.8,834.9 2019,834.2 2020.2,834.8 2021.5,835 2022.8,835.2 2024,835 2025.2,834.9 2026.5,835.3 2027.8,834.9 2029,834.5 2030.2,834.3 2031.5,834.2 2032.8,834.2 2034,834.7 2035.2,834 2036.5,834.4 2037.8,835 2039,835.2 2040.2,835.2 2041.5,835.2 2042.8,835.2 2044,835.2 2045.2,835 2046.5,834.9 2047.8,834.5 2049,834.7 2050.2,835.5 2051.5,835.8 2052.8,835.7 2054,835.9 2055.2,835.7 2056.5,835.3 2057.8,835.7 2059,835.7 2060.2,834.9 2061.5,835.2 2062.8,835 2064,834.6 2065.2,835.2 2066.5,835.3 2067.8,835.3 2069,835.5 2070.2,835 2071.5,834.8 2072.8,835.6 2074,835.8 2075.2,834.9 2076.5,835.1 2077.8,834.2 2079,833.9 2080.2,833.3 2081.5,832.7 2082.8,831.5 2084,831.6 2084.6,832.1 2085.2,832.3 2086.5,831.9 2087.8,833.3 2089,834 2090.2,834.1 2091.5,834.9 2092.8,835.5 2094,835.8 2095.2,835.6 2096.5,835.2 2097.8,835.9 2099,836 2100.2,835.8 2101.5,835.7 2102.8,836.3 2104,836 2105.2,835.8 2106.5,835 2107.8,834.7 2109,833.8 2110.2,833.1 2111.5,832.5 2112.8,831.1 2114,829.3 2115.2,827.1 2116.5,825.9 2117.4,825.6 2117.8,825.1 2119,825.8 2120.2,827 2121.5,828.1 2122.8,829 2124,830.7 2125.2,831.6 2126.5,832.8 2127.8,833.2 2129,834.5 2130.2,835.4 2131.5,834.3 2132.8,835.5 2134,834.5 2135.2,835.3 2136.5,836.1 2137.8,835.7 2139,836.6 2140.2,836.2 2141.5,836.3 2142.8,837.5 2144,836 2145.2,837.3 2146.5,836.8 2147.8,836.3 2149,836.5 2150.2,836.8 2151.5,836.9 2152.8,836.9 2154,836.5 2155.2,837 2156.5,836.7 2157.8,836.6 2159,837.4 2160.2,837.4 2161.5,836.1 2162.8,836.7 2164,836.6 2165.2,835.7 2166.5,835.7 2167.8,835.6 2169,835.9 2170.2,836.3 2171.5,836.6 2172.8,836.6 2174,836.6 2175.2,836.3 2176.5,836.5 2177.8,836.3 2179,836.3 2180.2,836.8 2181.5,837.4 2182.8,836.7 2184,835.8 2185.2,836.7 2186.5,837.2 2187.8,836.5 2189,836.4 2190.2,837.1 2191.5,836.9 2192.8,836.2 2194,836.9 2195.2,836.7 2196.5,836.5 2197.8,837 2199,836.8 2200.2,836.9 2201.5,837.1 2202.8,836.9 2204,837.9 2205.2,837.5 2206.5,837.2 2207.8,838 2209,837.7 2210.2,837.4 2211.5,837.6 2212.8,837.2 2214,837.2 2215.2,838.1 2216.5,837.4 2217.8,837.5 2219,837.1 2220.2,837.6 2221.5,838.2 2222.8,837.9 2224,838.4 2225.2,838.6 2226.5,838.9 2227.8,838.8 2229,838.6 2230.2,837.9 2231.5,838.7 2232.8,838.1 2234,838.2 2235.2,838.1 2236.5,838.1 2237.8,838.7 2239,837.6 2240.2,837.7 2241.5,838 2242.8,837.4 2244,837.4 2245.2,837.5 2246.5,837.7 2247.8,837.1 2249,838.4 2250.2,837.9 2251.5,837.8 2252.8,838.2 2254,838.4 2255.2,837.9 2256.5,838.3 2257.8,838.2 2259,838.1 2260.2,838.3 2261.5,838.3 2262.8,838.4 2264,837.9 2265.2,837.6 2266.5,838.3 2267.8,838.4 2269,838.2 2270.2,837.9 2271.5,838.6 2272.8,837.8 2274,837.3 2275.2,837.2 2276.5,837.4 2277.8,837.4 2279,838 2280.2,838 2281.5,837.5 2282.8,837.6 2284,837.1 2285.2,837.9 2286.5,837.4 2287.8,837.7 2289,837.4 2290.2,837.7 2291.5,837.9 2292.8,837.9 2294,838.2 2295.2,837.7 2296.5,838 2297.8,838.5 2299,838.6 2300.2,838 2301.5,839 2302.8,838.4 2304,838.8 2305.2,838.7 2306.5,838.8 2307.8,839.2 2308.5,838.7"/>
<polyline class="c" stroke="#9900ff" points="41.5,610.8 42.8,610.5 44,611.4 45.2,610.1 46.5,610.4 47.8,611.2 49,611.9 50.2,613.5 51.5,615.5 52.8,614.9 54,615.7 55.2,614.6 56.5,617.3 57.8,615.8 59,615.9 60.2,617.6 61.5,617.5 62.8,617.4 64,618.4 65.2,617.8 66.5,617.7 67.8,616.9 69,619.7 70.2,617.9 71.5,618.4 72.8,618.1 74,619.5 75.2,618.2 76.5,618.5 77.8,619.7 79,618.6 80.2,620 81.5,620.7 82.8,621.2 84,623 85.2,622.8 86.5,624 87.8,624.8 89,624.9 90.2,622 91.5,625.1 92.8,624.7 94,625.3 95.2,625.4 96.5,623.2 97.8,624.3 99,625.6 100.2,627.1 101.5,627 102.8,627.1 104,629.6 105.2,627.2 106.5,626.7 107.8,630 109,628.7 110.2,629.3 111.5,626.9 112.8,627.4 114,629.4 115.2,626.8 116.5,628.9 117.8,629 119,632.2 120.2,630.3 121.5,631.5 122.8,632.5 124,631.8 125.2,632.8 126.5,631.9 127.8,630.7 129,631.6 130.2,630.9 131.5,632.2 132.8,631.2 134,632.6 135.2,632.6 136.5,634.5 137.8,634.8 139,635.3 140.2,633.4 141.5,634 142.8,634 144,633.8 145.2,635 146.5,635.9 147.8,636.8 149,637.3 150.2,636.7 151.5,636.4 152.8,636.9 154,637 155.2,638.8 156.5,637.8 157.8,637.6 159,640.3 160.2,640.3 161.5,639.6 162.8,639.7 164,638.2 165.2,637 166.5,639.7 167.8,638.5 169,640 170.2,639.8 171.5,640.6 172.8,642.3 174,642.5 175.2,643 176.5,642.8 177.8,642.4 179,638.9 180.2,642 181.5,642 182.8,644.7 184,642.3 185.2,644 186.5,646.4 187.8,646.1 189,645.8 190.2,645.2 191.5,646.7 192.8,643.6 194,646.5 195.2,645.6 196.5,645.4 197.8,646 199,646.5 200.2,646.4 201.5,646.3 202.8,645 204,643.7 205.2,645.6 206.5,645.5 207.8,645.9 209,647.1 210.2,647.4 211.5,646.6 212.8,646.6 214,647.4 215.2,648.2 216.5,648.8 217.8,648.5 219,649.4 220.2,647 221.5,647.5 222.8,648.2 224,649.2 225.2,648.1 226.5,646.9 227.8,646.5 229,648.2 230.2,649.6 231.5,650.5 232.8,649.6 234,651.6 235.2,649.1 236.5,649.8 237.8,649.7 239,650.9 240.2,651.1 241.5,650.9 242.8,650.5 244,650.3 245.2,651.8 246.5,650.5 247.8,651.8 249,649.7 250.2,650.4 251.5,650.9 252.8,650.7 254,651.7 255.2,651.5 256.5,651.6 257.8,650.9 259,650.8 260.2,650.7 261.5,650.5 262.8,652 264,651.4 265.2,652.3 266.5,652 267.8,652.1 269,651.4 270.2,653.1 271.5,652 272.8,653.5 274,652.9 275.2,652 276.5,653.4 277.8,653.3 279,652.9 280.2,653.6 281.5,653.4 282.8,654.2 284,653.9 285.2,654.3 286.5,654.9 287.8,654.9 289,654.7 290.2,655.7 291.5,655 292.8,654.1 294,652.8 295.2,653.4 296.5,654.1 297.8,652.3 299,651.9 300.2,652.4 301.5,653.2 302.8,654.8 304,653.8 305.2,654.1 306.5,653.9 307.8,652.4 309,653.6 310.2,652.4 311.5,653.1 312.8,652.9 314,652.9 315.2,652.5 316.5,653.2 317.8,652.1 319,652.5 320.2,654.3 321.5,653.6 322.8,652.6 324,652.9 325.2,653.4 326.5,652.9 327.8,654.3 329,654.4 330.2,654.2 331.5,654.2 332.8,656.5 334,655.4 335.2,654.6 336.5,655.6 337.8,655.1 339,654.9 340.2,655.3 341.5,651.5 342.8,654.6 344,653.7 345.2,653.2 346.5,653.6 347.8,652.9 349,653.7 350.2,653 351.5,654.5 352.8,653.3 354,654.2 355.2,652.7 356.5,652.7 357.8,655.2 359,653.2 360.2,653.4 361.5,653.2 362.8,654.1 364,655.1 365.2,655.2 366.5,653.3 367.8,654.5 369,654.6 370.2,654.1 371.5,651.8 372.8,653.3 374,653.1 375.2,651.8 376.5,652.2 377.8,655.9 379,653.5 380.2,654.2 381.5,654.2 382.8,653.3 384,654.2 385.2,652.5 386.5,651.6 387.8,651.3 389,652.7 390.2,652.6 391.5,652.1 392.8,654.2 394,653.4 395.2,653.6 396.5,652.8 397.8,651.1 399,652.5 400.2,653.9 401.5,654.4 402.8,653 404,653.1 405.2,652.2 406.5,652.4 407.8,652.4 409,653.6 410.2,654.6 411.5,651.4 412.8,652.3 414,653.5 415.2,653.2 416.5,653.6 417.8,652.4 419,652.2 420.2,651.3 421.5,650.3 422.8,651.4 424,650.6 425.2,650.5 426.5,648.8 427.8,647.7 429,646.7 430.2,645.9 431.5,645.1 432.8,641.4 434,638.9 435.2,633.4 436.5,624.8 437.8,612.3 439,592.1 440.2,568.4 441,563.9 441.5,569 442.8,598.7 444,625.1 445.2,639.2 446.5,645.6 447.8,646.2 449,647.1 450.2,646.7 451.5,648.4 452.8,648.7 454,649.3 455.2,650.2 456.5,650.1 457.8,647.6 459,646.8 460.2,647.6 461.5,646.9 462.8,647.7 464,648.2 465.2,648.7 466.5,649.1 467.8,650.1 469,650.5 470.2,649.1 471.5,649.6 472.8,649.1 474,648.4 475.2,647.9 476.5,648 477.8,648.1 479,647.1 480.2,645.5 481.5,647.1 482.8,646.9 484,646.1 485.2,646.6 486.5,646.9 487.8,645.6 489,646.4 490.2,647 491.5,646.6 492.8,646.6 494,644.2 495.2,646.4 496.5,646.9 497.8,644 499,645.2 500.2,645.2 501.5,644.8 502.8,646.1 504,645.4 505.2,644.3 506.5,645.7 507.8,645.2 509,646 510.2,645.8 511.5,647.2 512.8,645.1 514,645.3 515.2,644.5 516.5,644.1 517.8,645.4 519,644.9 520.2,644.6 521.5,644.9 522.8,645.6 524,644.9 525.2,646.7 526.5,645.2 527.8,644.5 529,644.6 530.2,643.5 531.5,643.2 532.8,645.4 534,644.4 535.2,645.6 536.5,644 537.8,644.4 539,645.1 540.2,644.3 541.5,644.2 542.8,644.3 544,645.8 545.2,646.7 546.5,644.9 547.8,645.3 549,645.7 550.2,642.8 551.5,642 552.8,642.1 554,642.5 555.2,643.4 556.5,642 557.8,643 559,641.4 560.2,642.9 561.5,642.9 562.8,640.5 564,642.9 565.2,639.9 566.5,639.9 567.8,640.3 569,641.8 570.2,640.9 571.5,640.9 572.8,639.4 574,640.1 575.2,637.9 576.5,639.7 577.8,639.8 579,639 580.2,638.2 581.5,639.5 582.8,639.3 584,638.3 585.2,637.1 586.5,637.6 587.8,634.5 589,634.3 590.2,629.5 591.5,626.1 592.8,623.2 594,618.8 595.2,616.1 595.3,617 596.5,616.9 597.8,624.3 599,629.2 600.2,631.4 601.5,635.6 602.8,634.6 604,633.3 605.2,635.6 606.5,635.4 607.8,637.6 609,637 610.2,634.5 611.5,635.8 612.8,636.1 614,635.3 615.2,635 616.5,634.8 617.8,633.8 619,633.9 620.2,635.4 621.5,636 622.8,637.2 624,636.4 625.2,635.2 626.5,636.4 627.8,635.3 629,634.8 630.2,635.4 631.5,636.8 632.8,636 634,635.9 635.2,635.5 636.5,635.6 637.8,637 639,636.7 640.2,637.6 641.5,636.1 642.8,636.8 644,634.9 645.2,636.1 646.5,635.7 647.8,637.3 649,634.8 650.2,637.4 651.5,636 652.8,633.2 654,634.6 655.2,636.4 656.5,636.4 657.8,636 659,635.4 660.2,635.8 661.5,635.2 662.8,637.9 664,635.8 665.2,637.9 666.5,636.9 667.8,636.2 669,636.5 670.2,634.4 671.5,635.4 672.8,636 674,636.4 675.2,634.1 676.5,631.6 677.8,635.4 679,633.3 680.2,633.8 681.5,633.1 682.8,632.7 684,629.4 685.2,632 686.5,630.9 686.7,632.4 687.8,631.6 689,632.2 690.2,632.2 691.5,632.2 692.8,633.7 694,634 695.2,631.8 696.5,635.2 697.8,632.6 699,633 700.2,633.3 701.5,633.8 702.8,635.5 704,637.6 705.2,634.5 706.5,634.5 707.8,635 709,636.3 710.2,636.6 711.5,637.6 712.8,636.6 714,635.5 715.2,634.6 716.5,634.4 717.8,634 719,635.6 720.2,636.1 721.5,637.9 722.8,634.6 724,635.7 725.2,636.3 726.5,633.8 727.8,634.9 729,634.2 730.2,633.9 731.5,633.2 732.8,634.1 734,633.1 735.2,635.4 736.5,634.7 737.8,635.4 739,633.4 740.2,634.4 741.5,635.2 742.8,634.4 744,632.5 745.2,634.8 746.5,632.8 747.8,633.6 749,633.9 750.2,634.3 751.5,632.6 752.8,632.1 754,630.3 755.2,632.5 756.5,631.1 757.8,628.3 759,628.4 760.2,628.3 761.5,630.9 762.8,630.6 764,627.9 765.2,623.9 766.5,622.9 767.8,615.7 769,605.1 770.2,589.4 771.5,568.3 772.8,548.5 774,530.9 774.3,531.7 775.2,533.9 776.5,549.2 777.8,561.7 779,566.6 780.2,556.5 781.5,528 782.8,490.2 783.7,479.1 784,479.3 785.2,506.1 786.5,545 787.8,564.4 789,575.8 790.2,580.5 791.5,581.4 792.8,583 794,575.2 795.2,555.5 796.5,527.2 797.5,519.8 797.8,520.8 799,550.3 800.2,584.5 801.5,605.9 802.8,614.7 804,620.3 805.2,622.5 806.5,624.5 807.8,625.6 809,628.2 810.2,628.2 811.5,629.5 812.8,626.7 814,627.9 815.2,629 815.8,629.3 816.5,627.4 817.8,626.3 819,627.8 820.2,628.7 821.5,629.6 822.8,630.5 824,628.5 825.2,631.4 826.5,631.1 827.8,629.4 829,629.8 830.2,631 831.5,632.5 832.8,631.1 834,631 835.2,632.5 836.5,631.4 837.8,633.8 839,633.4 840.2,632 841.5,634 842.8,633 844,633.5 845.2,634.1 846.5,632.8 847.8,633.8 849,634.6 850.2,634.4 851.5,635.3 852.8,634.5 854,634.5 855.2,635.1 856.5,634.1 857.8,634.4 859,632.8 860.2,634.7 861.5,632.9 862.8,633.1 864,633.2 865.2,632.2 866.5,632.2 867.8,632.8 869,631.7 870.2,635.2 871.5,635.7 872.8,633 874,633.1 875.2,633.9 876.5,633.2 877.8,632.7 879,634 880.2,631.9 881.5,633.7 882.8,632.5 884,633.6 885.2,633.5 886.5,630.4 887.8,630.6 889,629.2 890.2,629.8 891.5,628.1 892.8,624.5 893.5,625 894,627.6 895.2,626.3 896.5,627.7 897.8,629.7 899,632.3 900.2,632.1 901.5,631.1 902.8,631.3 904,633.1 905.2,631.9 906.5,633.3 907.8,633.6 909,634.9 910.2,634.4 911.5,635.5 912.8,633.4 914,635.6 915.2,633.5 916.5,632.9 917.8,632.1 919,633.7 920.2,634.2 921.5,633.1 922.8,634.7 924,633 925.2,634.5 926.5,633.9 927.8,637.1 929,635.8 930.2,639.4 931.5,639.4 932.8,638.8 934,637.4 935.2,636.8 936.5,635.1 937.8,636.5 939,635.1 940.2,635.5 941.5,632.6 942.8,631.4 944,626.8 945.2,619.9 946.5,610.7 947.6,604.5 947.8,603.6 949,612.1 950.2,622.4 951.5,628.9 952.8,630.1 954,634.1 955.2,636 956.5,636.9 957.8,638.6 959,639.9 960.2,638.6 961.5,641.4 962.8,639.8 964,638.7 965.2,640.3 966.5,639.6 967.8,640.8 969,641.7 970.2,641.3 971.5,640.4 972.8,640.1 974,643.3 975.2,641.9 976.5,643.5 977.8,643.9 979,645.2 980.2,642.9 981.5,646 982.8,642.3 984,644.1 985.2,644.7 986.5,646.9 987.8,645.7 989,645.7 990.2,647.2 991.5,648.3 992.8,647.9 994,648.6 995.2,648.5 996.5,648.5 997.8,647.2 999,647.8 1000.2,648.3 1001.5,649.4 1002.8,647.6 1004,648.3 1005.2,647.2 1006.5,646.8 1007.8,646.4 1009,647.4 1010.2,648.1 1011.5,648.9 1012.8,648.9 1014,648.4 1015.2,647.8 1016.5,648.1 1017.8,646.5 1019,644.3 1020.2,642.5 1021.5,635.1 1022.8,624.2 1024,607.7 1025.2,589.6 1025.7,589.5 1026.5,594.4 1027.8,611.3 1029,627.1 1030.2,636.1 1031.5,642.6 1032.8,644.7 1034,645.9 1035.2,646.1 1036.5,647.6 1037.8,647.6 1039,649.4 1040.2,648.9 1041.5,651.7 1042.8,649.7 1044,649.7 1045.2,651.4 1046.5,650.7 1047.8,651.6 1049,652.2 1050.2,650.7 1051.5,651.9 1052.8,653.2 1054,653.2 1055.2,653.8 1056.5,653.1 1057.8,652.1 1059,654.3 1060.2,654.4 1061.5,655.1 1062.8,656.8 1064,654.8 1065.2,654.6 1066.5,655.8 1067.8,656.5 1069,657.3 1070.2,654.9 1071.5,656 1072.8,656.8 1074,655.6 1075.2,656.2 1076.5,657.7 1077.8,654.9 1079,655.2 1080.2,655.2 1081.5,655.9 1082.8,654.2 1084,654.9 1085.2,653.5 1086.5,653.7 1087.8,651.8 1089,651.9 1090.2,649.7 1091.5,647.8 1092.8,642.8 1094,631.9 1095.2,615.2 1096.5,593.8 1097.6,582.8 1097.8,584.7 1099,599.3 1100.2,619.9 1101.5,633.5 1102.8,642.7 1104,647.9 1105.2,648.8 1106.5,652.1 1107.8,654.6 1109,653.1 1110.2,654.2 1111.5,651.9 1112.8,653.3 1114,655.4 1115.2,653.9 1116.5,655.7 1117.8,656.5 1119,655.2 1120.2,656.7 1121.5,656.2 1122.8,656.2 1124,656.7 1125.2,657.9 1126.5,657.8 1127.8,657.8 1129,657.2 1130.2,656.9 1131.5,656.5 1132.8,659 1134,659.4 1135.2,658.7 1136.5,660.3 1137.8,661 1139,660.4 1140.2,662.1 1141.5,662.3 1142.8,661.9 1144,661.1 1145.2,662.1 1146.5,661.8 1147.8,661.2 1149,661.1 1150.2,662.5 1151.5,661.1 1152.8,660.9 1154,659.1 1155.2,654.1 1156.5,651.8 1157.8,648.6 1157.9,648.6 1159,650.9 1160.2,653.5 1161.5,658 1162.8,659.1 1164,660.5 1165.2,663.1 1166.5,662.7 1167.8,663.6 1169,664.4 1170.2,664.1 1171.5,666 1172.8,665 1174,665.3 1175.2,663.2 1176.5,665.5 1177.8,665 1179,664.2 1180.2,665.9 1181.5,666.7 1182.8,666.4 1184,666.7 1185.2,666.3 1186.5,666.8 1187.8,666.1 1189,667.2 1190.2,669 1191.5,668.3 1192.8,668.6 1194,667.7 1195.2,668.5 1196.5,668.6 1197.8,669.1 1199,669.8 1200.2,668 1201.5,669.5 1202.8,668.6 1204,668.8 1205.2,668.9 1206.5,668.6 1207.8,669.5 1209,669.2 1210.2,670.1 1211.5,669.2 1212.8,668 1214,669.1 1215.2,668.2 1216.5,668.4 1217.8,668.5 1219,668.9 1220.2,668 1221.5,668.5 1222.8,668.8 1224,668.4 1225.2,668.6 1226.5,667.9 1227.8,668 1229,666.7 1230.2,665.5 1231.5,661.7 1232.8,657 1234,651.7 1235.2,645 1236.5,643.1 1236.7,642.9 1237.8,644.7 1239,645.2 1240.2,649.6 1241.5,652.1 1242.8,654.7 1244,657.8 1245.2,660.2 1246.5,661.4 1247.8,663.6 1249,665.9 1250.2,666.5 1251.5,667 1252.8,668.8 1254,668 1255.2,667.6 1256.5,667.5 1257.8,668.5 1259,668.9 1260.2,668.9 1261.5,669.1 1262.8,668.5 1264,668.1 1265.2,668.7 1266.5,670.2 1267.8,670.2 1269,669.2 1270.2,671.2 1271.5,670.4 1272.8,670.1 1274,668.9 1275.2,669.8 1276.5,668 1277.8,666.6 1279,666 1280.2,667 1281.5,667 1282.8,665.2 1284,664.6 1285.2,660 1286.5,656.2 1287.8,648 1289,633.2 1290.2,610.5 1291.5,589.4 1291.8,587.1 1292.8,594.5 1294,619.8 1295.2,638.6 1296.5,649.6 1297.8,657.3 1299,661.5 1300.2,662.9 1301.5,666 1302.8,666.7 1304,668.4 1305.2,668.7 1306.5,669.6 1307.8,669.3 1309,669.8 1310.2,670.4 1311.5,669.7 1312.8,670.3 1314,670.6 1315.2,670 1316.5,671.1 1317.8,672 1319,671.2 1320.2,671.4 1321.5,670.7 1322.8,671.9 1324,671.2 1325.2,669.7 1326.5,669.2 1327.8,670.3 1329,671.2 1330.2,670.7 1331.5,670.2 1332.8,669.7 1334,671.3 1335.2,672.2 1336.5,670.4 1337.8,670.8 1339,671.2 1340.2,670.4 1341.5,668.3 1342.8,667.8 1344,666 1345.2,663.5 1346.5,658.5 1347.8,655.3 1349,651.2 1350.2,647.9 1351.5,645.2 1352.2,643.7 1352.8,643.3 1354,646.4 1355.2,649 1356.5,653.9 1357.8,657.2 1359,660.8 1360.2,664.8 1361.5,666.7 1362.8,668.6 1364,668.8 1365.2,671.3 1366.5,670.9 1367.8,670.5 1369,672.1 1370.2,670.1 1371.5,671.1 1372.8,669.6 1374,671.2 1375.2,671 1376.5,671.2 1377.8,671.6 1379,671 1380.2,672.5 1381.5,671.9 1382.8,671.3 1384,672.9 1385.2,672.4 1386.5,672.6 1387.8,673.5 1389,673.2 1390.2,672 1391.5,671.9 1392.8,671.2 1394,671.4 1395.2,672 1396.5,671.3 1397.8,670.9 1399,673.4 1400.2,673.8 1401.5,675.5 1402.8,675.2 1404,675.4 1405.2,675.5 1406.5,674.2 1407.8,673.5 1409,674.5 1410.2,673.8 1411.5,672.6 1412.8,673.2 1414,674 1415.2,675.4 1416.5,674.8 1417.8,675.4 1419,676 1420.2,675.2 1421.5,675.8 1422.8,675.5 1424,675.8 1425.2,675 1426.5,675 1427.8,676.1 1429,677.5 1430.2,675.2 1431.5,676.3 1432.8,675.6 1434,676.6 1435.2,674 1436.5,674.2 1437.8,674.7 1439,674.7 1440.2,675.4 1441.5,675 1442.8,675.5 1444,676.7 1445.2,676.3 1446.5,676.2 1447.8,675.1 1449,676.1 1450.2,675.7 1451.5,675.4 1452.8,675.6 1454,675.2 1455.2,676.5 1456.5,677.3 1457.8,675.1 1459,674.6 1460.2,673.8 1461.5,674.4 1462.8,674.1 1464,673.6 1465.2,673.9 1466.5,673.5 1467.8,671.7 1469,672.8 1470.2,672.5 1471.5,672.2 1471.5,672.2 1472.8,671.7 1474,672.2 1475.2,673.3 1476.5,673.5 1477.8,674.8 1479,675.1 1480.2,674.9 1481.5,676.1 1482.8,675.1 1484,675.9 1485.2,675.4 1486.5,676.7 1487.8,677.6 1489,677.1 1490.2,677.4 1491.5,676.2 1492.8,676.9 1494,676.5 1495.2,676.3 1496.5,676.9 1497.8,675.6 1499,676.2 1500.2,676.5 1501.5,677.1 1502.8,676.5 1504,677 1505.2,677.9 1506.5,675.8 1507.8,676.2 1509,676.9 1510.2,677.5 1511.5,676.1 1512.8,677.8 1514,677.9 1515.2,678.2 1516.5,678.8 1517.8,678.8 1519,678.1 1520.2,677.3 1521.5,677.8 1522.8,676.9 1524,676.7 1525.2,676.5 1526.5,675.9 1527.8,676.5 1529,676.1 1530.2,675.5 1531.5,675.6 1532.8,677 1534,676.6 1535.2,677.3 1536.5,677.8 1537.8,677.6 1539,676.6 1540.2,676.6 1541.5,674.9 1542.8,673.9 1544,673.6 1545.2,672.7 1546.5,671.6 1547.8,671.5 1549,671.8 1549.9,671.9 1550.2,671 1551.5,671.3 1552.8,670.9 1554,673.7 1555.2,672.9 1556.5,672.1 1557.8,673.9 1559,674.3 1560.2,675.3 1561.5,675.9 1562.8,676.7 1564,677.2 1565.2,678 1566.5,677.3 1567.8,677.8 1569,678.3 1570.2,675 1571.5,677.3 1572.8,678.2 1574,677.2 1575.2,678.4 1576.5,675.3 1577.8,677.9 1579,676.1 1580.2,675.5 1581.5,674.8 1582.8,675.8 1584,675.2 1585.2,674.4 1586.5,670.6 1587.8,671.4 1589,668.8 1590.2,667.9 1590.7,667.1 1591.5,666.9 1592.8,667.7 1594,670.2 1595.2,669.8 1596.5,671.7 1597.8,673.6 1599,674.3 1600.2,675.3 1601.5,675.3 1602.8,674.9 1604,675 1605.2,675.7 1606.5,675 1607.8,674.6 1609,673.6 1610.2,672.8 1611.5,671.3 1612.8,670.1 1614,670.8 1615.2,668.2 1616.2,669.7 1616.5,669.4 1617.8,669.8 1619,670.1 1620.2,671.2 1621.5,672.5 1622.8,672.9 1624,675.1 1625.2,676 1626.5,677.7 1627.8,677.9 1629,678.6 1630.2,679.7 1631.5,678.5 1632.8,677.9 1634,677.6 1635.2,678 1636.5,678.2 1637.8,679.2 1639,679.2 1640.2,679.6 1641.5,678.8 1642.8,679.3 1644,679.3 1645.2,678.3 1646.5,678.8 1647.8,678.2 1649,679.3 1650.2,679.6 1651.5,679.2 1652.8,679.8 1654,679.5 1655.2,679.4 1656.5,680.5 1657.8,679.7 1659,678.4 1660.2,679.7 1661.5,679.7 1662.8,679.5 1664,678.3 1665.2,679.4 1666.5,678.9 1667.8,678.7 1669,678.5 1670.2,678.3 1671.5,677.7 1672.8,678.4 1674,679 1675.2,678.9 1676.5,679.6 1677.8,679.8 1679,680.1 1680.2,680.1 1681.5,680.8 1682.8,680.1 1684,679.4 1685.2,679.7 1686.5,679.7 1687.8,679.6 1689,679.5 1690.2,678.6 1691.5,679.2 1692.8,679.7 1694,679.4 1695.2,678.9 1696.5,678.8 1697.8,680 1699,679 1700.2,678.8 1701.5,680.5 1702.8,679.4 1704,679.2 1705.2,679.5 1706.5,679.5 1707.8,678.4 1709,679.2 1710.2,679.3 1711.5,680.2 1712.8,679.9 1714,680.7 1715.2,679.9 1716.5,680.6 1717.8,679.6 1719,679.5 1720.2,681.2 1721.5,679.1 1722.8,678.3 1724,679.5 1725.2,678.5 1726.5,677.9 1727.8,676.5 1729,675.8 1730.2,674.7 1731.5,674.7 1732.8,674.9 1733,675.8 1734,675.2 1735.2,675.7 1736.5,675.3 1737.8,676.2 1739,675.6 1740.2,675.8 1741.5,676.2 1742.8,673.8 1744,673 1745.2,672.8 1746.5,669.8 1747.8,668.8 1749,666.9 1750.2,667.1 1750.5,666.4 1751.5,666.5 1752.8,667 1754,668.2 1755.2,668.2 1756.5,669.2 1757.8,670.4 1759,671.9 1760.2,671.7 1761.5,673.3 1762.8,675.5 1764,676.2 1765.2,678.9 1766.5,678.5 1767.8,679.6 1769,680.6 1770.2,680.5 1771.5,679.6 1772.8,678.3 1774,680 1775.2,679.5 1776.5,678.9 1777.8,678.9 1779,679.7 1780.2,679.7 1781.5,679.1 1782.8,679.4 1784,681.3 1785.2,680.3 1786.5,681.2 1787.8,681.3 1789,681.4 1790.2,681.3 1791.5,680.5 1792.8,680.5 1794,680.7 1795.2,680.4 1796.5,681.6 1797.8,681.6 1799,681 1800.2,681.9 1801.5,681.9 1802.8,681.6 1804,681.8 1805.2,681.7 1806.5,682.5 1807.8,682.5 1809,681.5 1810.2,681.2 1811.5,681.7 1812.8,682 1814,680.2 1815.2,680 1816.5,681.1 1817.8,680.7 1819,681.6 1820.2,682.7 1821.5,680.7 1822.8,681.9 1824,681.2 1825.2,682.4 1826.5,682.7 1827.8,683 1829,683.8 1830.2,682.8 1831.5,683.7 1832.8,681 1834,682.8 1835.2,683.1 1836.5,681.8 1837.8,681.2 1839,682.3 1840.2,680.8 1841.5,681.6 1842.8,681.2 1844,681.4 1845.2,682.3 1846.5,681.5 1847.8,681 1849,682.5 1850.2,682 1851.5,681.1 1852.8,681.5 1854,680.8 1855.2,680.5 1856.5,681.2 1857.8,681.7 1859,679.5 1860.2,681 1861.5,681 1862.8,679.9 1864,680.1 1865.2,678.8 1866.5,679 1867.8,676.5 1869,675.5 1870.2,672.9 1871.5,670.9 1872.8,669 1874,668.3 1874.3,667.8 1875.2,667.7 1876.5,668 1877.8,668.9 1879,672.2 1880.2,673.7 1881.5,675 1882.8,677.3 1884,677.7 1885.2,680 1886.5,680.3 1887.8,679.8 1889,682.3 1890.2,681.2 1891.5,681.2 1892.8,681.4 1894,681.2 1895.2,680.6 1896.5,681.4 1897.8,680.4 1899,679 1900.2,680 1900.4,680.9 1901.5,680.7 1902.8,680.4 1904,680 1905.2,681 1906.5,681 1907.8,681.6 1909,683.1 1910.2,682.3 1911.5,682 1912.8,683.6 1914,682 1915.2,682.3 1916.5,682.8 1917.8,683.2 1919,684.2 1920.2,684.2 1921.5,683.2 1922.8,682.7 1924,682.8 1925.2,682.7 1926.5,683.2 1927.8,681.8 1929,681.7 1930.2,682.5 1931.5,682.5 1932.8,683.2 1934,683.7 1935.2,684.5 1936.5,683.7 1937.8,683.2 1939,683.6 1940.2,682.9 1941.5,683.5 1942.8,682.8 1944,682.5 1945.2,681.9 1946.5,682.3 1947.8,682.6 1949,681.2 1950.2,682.7 1951.5,681.2 1952.8,680.7 1954,680.6 1955.2,681.1 1956.5,680 1957.8,679.8 1959,678.2 1959.7,679.7 1960.2,678.3 1961.5,678.5 1962.8,679.3 1964,680.5 1965.2,680.9 1966.5,680.9 1967.8,681.3 1969,682.6 1970.2,680.4 1971.5,681 1972.8,680.7 1974,680 1975.2,676.9 1976.5,673.8 1977.8,668 1979,662.6 1980.2,654.5 1981.5,649.1 1982.7,645.7 1982.8,646.5 1984,649.4 1985.2,653.5 1986.5,657.9 1987.8,663.1 1989,669.9 1990.2,673.6 1991.5,676.7 1992.8,677.8 1994,679.7 1995.2,680.2 1996.5,681.1 1997.8,682.2 1999,682.8 2000.2,683.6 2001.5,684.8 2002.8,684.3 2004,685.6 2005.2,685.1 2006.5,685.5 2007.8,685 2009,685.4 2010.2,685.3 2011.5,684.8 2012.8,684.8 2014,685.4 2015.2,684.5 2016.5,684.6 2017.8,684.1 2019,684.6 2020.2,685.2 2021.5,685.7 2022.8,684.8 2024,686 2025.2,686.4 2026.5,684.9 2027.8,684.7 2029,685.5 2030.2,686.3 2031.5,684.5 2032.8,686 2034,684.6 2035.2,685.1 2036.5,685.7 2037.8,685.3 2039,685.7 2040.2,684.6 2041.5,684.7 2042.8,685.9 2044,685.8 2045.2,685.1 2046.5,686 2047.8,685.7 2049,684.5 2050.2,684.5 2051.5,685.2 2052.8,684.9 2054,685.5 2055.2,684.4 2056.5,686.4 2057.8,686.1 2059,685 2060.2,686.4 2061.5,684.6 2062.8,686.1 2064,685.5 2065.2,685.7 2066.5,685.7 2067.8,685.3 2069,686.3 2070.2,685.3 2071.5,685.4 2072.8,685.2 2074,686.1 2075.2,685.2 2076.5,684.8 2077.8,684.8 2079,683.2 2080.2,681.9 2081.5,682.7 2082.8,682.1 2084,681.5 2085.2,680.2 2085.3,680.4 2086.5,679.5 2087.8,679.3 2089,679.4 2090.2,680 2091.5,682.3 2092.8,682.5 2094,682.5 2095.2,684 2096.5,684.8 2097.8,685.3 2099,686.5 2100.2,685.8 2101.5,685.5 2102.8,685.5 2104,685 2105.2,685.7 2106.5,683.9 2107.8,684.8 2109,684.1 2110.2,683.6 2111.5,682.7 2112.8,680.7 2114,678.3 2115.2,675.2 2116.5,673.5 2117.8,673.7 2118.1,671.9 2119,672.4 2120.2,671.8 2121.5,675.1 2122.8,675.2 2124,677.5 2125.2,679.6 2126.5,681.6 2127.8,681.6 2129,682.8 2130.2,684.1 2131.5,683.4 2132.8,684.3 2134,685.7 2135.2,684.6 2136.5,684.8 2137.8,685.7 2139,685.6 2140.2,684.8 2141.5,685.5 2142.8,684.3 2144,684.4 2145.2,684.5 2146.5,684.7 2147.8,685.3 2149,684.9 2150.2,685.5 2151.5,685.7 2152.8,685.8 2154,685.1 2155.2,686 2156.5,685.9 2157.8,685.6 2159,686.6 2160.2,686.7 2161.5,687.2 2162.8,687.4 2164,686.5 2165.2,686.9 2166.5,686.5 2167.8,686.7 2169,687.3 2170.2,687.3 2171.5,687.4 2172.8,686.1 2174,686.7 2175.2,687 2176.5,685.2 2177.8,687 2179,686.9 2180.2,687.2 2181.5,687.9 2182.8,686.9 2184,687 2185.2,687.3 2186.5,687 2187.8,687.7 2189,687.1 2190.2,687.5 2191.5,687.9 2192.8,688 2194,687.4 2195.2,686.7 2196.5,686.9 2197.8,687.6 2199,687.3 2200.2,687.9 2201.5,687.2 2202.8,688.7 2204,688.2 2205.2,687.8 2206.5,687.4 2207.8,687.4 2209,687.9 2210.2,688.4 2211.5,687 2212.8,687.6 2214,687.4 2215.2,688.1 2216.5,687.4 2217.8,687.8 2219,688 2220.2,688.9 2221.5,687.7 2222.8,687.2 2224,687.9 2225.2,688.5 2226.5,687.8 2227.8,688.9 2229,688.7 2230.2,688.4 2231.5,688.1 2232.8,688.4 2234,687.4 2235.2,688 2236.5,689 2237.8,687.3 2239,687.9 2240.2,688.1 2241.5,687 2242.8,686.8 2244,689 2245.2,688.4 2246.5,688.7 2247.8,687.8 2249,688 2250.2,689.1 2251.5,689.8 2252.8,688.7 2254,689.2 2255.2,688.9 2256.5,688.8 2257.8,688.5 2259,688.1 2260.2,687.8 2261.5,687.9 2262.8,689.3 2264,689.1 2265.2,690.1 2266.5,689.6 2267.8,688.4 2269,688.5 2270.2,689.6 2271.5,688.8 2272.8,689.8 2274,688.8 2275.2,689.4 2276.5,689 2277.8,689 2279,688.3 2280.2,688.3 2281.5,687.5 2282.8,687.2 2284,687.8 2285.2,688.8 2286.5,687.3 2287.8,688 2289,688.3 2290.2,688.8 2291.5,688.4 2292.8,688.5 2294,687.8 2295.2,687.8 2296.5,688.2 2297.8,687.8 2299,687.5 2300.2,687 2301.5,687.5 2302.8,687.7 2304,686.6 2305.2,686.9 2306.5,686 2307.8,686.4 2308.5,686.7"/>
<polyline class="c" stroke="#e39a14" points="41.5,375.6 42.8,378.2 44,378.2 45.2,378 46.5,378.6 47.8,379.9 49,380.3 50.2,381.3 51.5,380.4 52.8,382.2 54,382.6 55.2,382.2 56.5,385 57.8,383.7 59,384.4 60.2,386.5 61.5,386.1 62.8,387.1 64,387.8 65.2,389 66.5,390.3 67.8,390.5 69,391.9 70.2,391.1 71.5,390.4 72.8,392 74,392.9 75.2,392 76.5,393.7 77.8,393.3 79,393.8 80.2,394.7 81.5,395.4 82.8,395.8 84,395.7 85.2,397.5 86.5,397.7 87.8,398.8 89,398.4 90.2,397.5 91.5,398.2 92.8,397.9 94,398.4 95.2,398.8 96.5,400.4 97.8,401.2 99,402.1 100.2,402.7 101.5,402.6 102.8,403.2 104,403.7 105.2,403.9 106.5,404.7 107.8,404.2 109,405.4 110.2,405.5 111.5,405 112.8,406.6 114,405 115.2,405.3 116.5,406.2 117.8,406.1 119,405.4 120.2,405.5 121.5,407 122.8,407.4 124,407.1 125.2,408.1 126.5,407.6 127.8,408.8 129,408.5 130.2,410.4 131.5,409.4 132.8,409.5 134,408.9 135.2,408.7 136.5,410.5 137.8,408.9 139,408.6 140.2,410.3 141.5,410.1 142.8,410 144,410.3 145.2,411.1 146.5,412 147.8,411.6 149,411.9 150.2,412.9 151.5,413.5 152.8,413.8 154,414.3 155.2,414.3 156.5,415.2 157.8,415.2 159,414.8 160.2,414 161.5,414.3 162.8,413.8 164,414.5 165.2,415.2 166.5,414.8 167.8,414.2 169,415.2 170.2,416 171.5,416.1 172.8,416 174,417.4 175.2,416.4 176.5,415.6 177.8,416.2 179,416.7 180.2,417.8 181.5,417.3 182.8,417.4 184,418.5 185.2,419 186.5,418.5 187.8,419.3 189,419.8 190.2,420 191.5,419.2 192.8,418.5 194,419.4 195.2,420 196.5,420.1 197.8,420.4 199,421.7 200.2,421.9 201.5,421.6 202.8,422 204,421.1 205.2,421.3 206.5,421.3 207.8,420.4 209,420.4 210.2,421.2 211.5,420.9 212.8,421 214,421.7 215.2,422.7 216.5,423.5 217.8,421.4 219,422.5 220.2,422.4 221.5,422.3 222.8,422.7 224,421.6 225.2,422.7 226.5,422.3 227.8,422.2 229,422.8 230.2,423.5 231.5,423.5 232.8,423.5 234,423.7 235.2,424.5 236.5,424.7 237.8,423.8 239,424.3 240.2,425.6 241.5,425.5 242.8,424.5 244,425.6 245.2,425.9 246.5,425.3 247.8,425.3 249,425.2 250.2,425.3 251.5,425.3 252.8,426.8 254,425 255.2,425.3 256.5,425.8 257.8,426.8 259,427 260.2,427.3 261.5,427 262.8,427.6 264,426.9 265.2,427.6 266.5,427.9 267.8,428.5 269,426.6 270.2,427.4 271.5,428.5 272.8,428.3 274,428 275.2,428.1 276.5,428.1 277.8,428.3 279,428.3 280.2,428.8 281.5,428.3 282.8,428.3 284,428.7 285.2,428.5 286.5,428.9 287.8,428.1 289,428.4 290.2,428.5 291.5,428.8 292.8,428.8 294,429.7 295.2,428.4 296.5,428.8 297.8,429.2 299,429.1 300.2,428.2 301.5,428.9 302.8,430.3 304,430 305.2,430.4 306.5,431.5 307.8,432.3 309,430.3 310.2,430.7 311.5,430.5 312.8,430.4 314,429.8 315.2,430.3 316.5,431.1 317.8,430.6 319,431.5 320.2,431.3 321.5,430.5 322.8,431.1 324,431.3 325.2,431.2 326.5,430.6 327.8,430.4 329,431.1 330.2,430.9 331.5,430.4 332.8,430.9 334,431.4 335.2,432 336.5,432.1 337.8,432.7 339,432.1 340.2,433.3 341.5,431.3 342.8,431.2 344,432 345.2,432.2 346.5,432.2 347.8,432 349,432.9 350.2,432.6 351.5,432.1 352.8,432.7 354,432.2 355.2,433.1 356.5,432.2 357.8,433.7 359,432.5 360.2,432.5 361.5,432.6 362.8,433.1 364,433.6 365.2,434 366.5,432.2 367.8,432.8 369,433.5 370.2,432.7 371.5,432.1 372.8,432.2 374,432.3 375.2,433.1 376.5,433.4 377.8,433.8 379,433.6 380.2,433.3 381.5,433.9 382.8,432.9 384,432.5 385.2,433.7 386.5,433.5 387.8,433 389,432.5 390.2,432.8 391.5,432.2 392.8,432.6 394,432.5 395.2,432.4 396.5,433.3 397.8,432.8 399,433.1 400.2,432.8 401.5,432.1 402.8,432.4 404,431.6 405.2,431.8 406.5,433.4 407.8,433.3 409,433.1 410.2,434.1 411.5,435 412.8,433.9 414,434 415.2,432.7 416.5,432.9 417.8,433.5 419,433 420.2,433.4 421.5,433.6 422.8,433.5 424,432.8 425.2,433 426.5,433.2 427.8,432.5 429,431.3 430.2,431.8 431.5,431.7 432.8,431.2 434,431.2 435.2,430.9 436.5,429.1 437.8,429 439,425.2 440.2,421.4 441.5,416.3 442.6,414.7 442.8,414.3 444,420.2 445.2,426.3 446.5,429.7 447.8,430.6 449,430.5 450.2,430.7 451.5,431.9 452.8,431 454,432 455.2,431.7 456.5,432.3 457.8,431.1 459,431.5 460.2,431.5 461.5,431.1 462.8,431.2 464,432 465.2,431.2 466.5,432 467.8,432.9 469,433.1 470.2,432.6 471.5,432.6 472.8,432.6 474,431.5 475.2,432 476.5,431.9 477.8,430.6 479,431.7 480.2,431.6 481.5,432.4 482.8,431.3 484,431.9 485.2,430.9 486.5,432 487.8,431.8 489,431.6 490.2,431.9 491.5,432.1 492.8,431.5 494,431.7 495.2,431.7 496.5,432.2 497.8,431.1 499,431.2 500.2,430.6 501.5,431.3 502.8,431.3 504,431.4 505.2,431.1 506.5,430.9 507.8,430.4 509,429 510.2,429.3 511.5,428.9 512.8,429.8 514,430.7 515.2,430.6 516.5,431.5 517.8,432.3 519,432.6 520.2,432.4 521.5,431 522.8,432 524,432.2 525.2,430.4 526.5,430.5 527.8,430.5 529,430.9 530.2,432 531.5,431.2 532.8,431.4 534,431.9 535.2,431.8 536.5,430.3 537.8,430.9 539,431.8 540.2,431.8 541.5,432.8 542.8,432 544,432.7 545.2,431.8 546.5,431.3 547.8,431.3 549,430.8 550.2,431.3 551.5,430.5 552.8,430.6 554,431 555.2,431.1 556.5,430.6 557.8,431.1 559,431.5 560.2,430.9 561.5,431 562.8,430.2 564,430.3 565.2,430.6 566.5,430.3 567.8,431.2 569,430.6 570.2,431 571.5,431.8 572.8,431.1 574,430.6 575.2,429.7 576.5,429.8 577.8,430.8 579,430.7 580.2,430.6 581.5,429.5 582.8,429.7 584,429.1 585.2,428.1 586.5,428.2 587.8,427.1 589,427.6 590.2,426.5 591.5,426.2 592.8,424.3 594,422.9 595.2,421.7 596.5,421.2 596.9,421.9 597.8,421.3 599,424.1 600.2,425.7 601.5,427 602.8,426.3 604,426.5 605.2,427.8 606.5,427.8 607.8,426.9 609,428.2 610.2,428.6 611.5,428.6 612.8,428.2 614,427.9 615.2,427.6 616.5,428.2 617.8,426.4 619,427.4 620.2,428.3 621.5,427.2 622.8,427.9 624,428.2 625.2,428.2 626.5,427.7 627.8,426.8 629,427.7 630.2,427.3 631.5,427.5 632.8,426.1 634,426.8 635.2,427.6 636.5,427.6 637.8,427.9 639,426.8 640.2,426.5 641.5,427.7 642.8,426.2 644,425.8 645.2,426.5 646.5,427.5 647.8,427.1 649,426.7 650.2,426.7 651.5,427.5 652.8,426.5 654,427 655.2,426.1 656.5,425.6 657.8,426.3 659,426.2 660.2,426.6 661.5,426.4 662.8,427.1 664,427.9 665.2,426.8 666.5,426.3 667.8,426.6 669,426.7 670.2,425.3 671.5,425.6 672.8,426.8 674,426.6 675.2,427.3 676.5,426 677.8,427.7 679,426.2 680.2,427.5 681.5,426.8 682.8,426.6 684,426 685.2,426.3 686.5,425.4 687.8,425.4 689,425.9 690.2,426 691.5,425.9 692.8,424.9 694,425.3 695.2,425.1 696.5,424.3 697.8,424.4 699,424.2 700.2,424.1 701.5,424.8 702.8,423.4 704,423.1 705.2,423 706.5,422.4 707.8,422.8 709,422.7 710.2,422.6 711.5,423.1 712.8,423 714,422.9 715.2,423.4 716.5,422.8 717.8,423.5 719,423.3 720.2,422.5 721.5,421.9 722.8,423 724,422.3 725.2,421 726.5,422.1 727.8,421 729,420.5 730.2,421.7 731.5,421.9 732.8,421.8 734,421.2 735.2,421.5 736.5,420.3 737.8,421 739,419.9 740.2,419.7 741.5,419.7 742.8,419.8 744,420.3 745.2,419.2 746.5,419.1 747.8,420.3 749,418.6 750.2,419.9 751.5,418.9 752.8,418.4 754,418.4 755.2,418.3 756.5,419.3 757.8,417.9 759,417.1 760.2,417.1 761.5,415.6 762.8,415.2 764,415.6 765.2,414.9 766.5,415 767.8,414.8 769,413.3 770.2,410.1 771.5,407.6 772.8,403.1 774,398.2 775.2,393.5 775.8,393.8 776.5,393.2 777.8,397.4 779,400.8 780.2,403.8 781.5,400.6 782.8,393.8 784,383.4 785.2,374.8 785.3,375.4 786.5,382.7 787.8,390.7 789,398.4 790.2,402 791.5,402.5 792.8,402.3 794,399.5 795.2,393.6 796.5,381 797.8,363.7 799,351.4 799,352.3 800.2,365.8 801.5,386.1 802.8,399.3 804,407.7 805.2,409.8 806.5,411.5 807.8,411.7 809,410.2 810.2,410.5 811.5,409.4 812.8,407.9 814,407.8 815.2,408.3 816.5,407.1 817.3,408.9 817.8,408 819,406.9 820.2,407.9 821.5,406.5 822.8,406.3 824,406.8 825.2,408.2 826.5,408.4 827.8,407.2 829,408.3 830.2,407.5 831.5,407.7 832.8,407.6 834,407.8 835.2,408.3 836.5,407.2 837.8,408.3 839,409 840.2,410.2 841.5,410.2 842.8,408.1 844,409.4 845.2,408.5 846.5,408.8 847.8,407.6 849,407 850.2,406.9 851.5,405.9 852.8,404.8 854,405.9 855.2,405.6 856.5,405.1 857.8,405.8 859,404 860.2,404.1 861.5,403.9 862.8,402.1 864,402.8 865.2,402.1 866.5,400.8 867.8,399.7 869,400.1 870.2,399.7 871.5,399 872.8,397.4 874,398.8 875.2,397.2 876.5,396.1 877.8,395.8 879,395.2 880.2,393.9 881.5,393.6 882.8,393.2 884,392.5 885.2,392.7 886.5,391 887.8,390.2 889,389.6 890.2,388.5 891.5,386.3 892.8,383.8 894,382.2 895.1,379.5 895.2,381.7 896.5,381.9 897.8,383 899,385.8 900.2,388.7 901.5,388.7 902.8,389 904,390.3 905.2,389.8 906.5,389.7 907.8,391.6 909,392.1 910.2,391.3 911.5,391.1 912.8,391.7 914,392.1 915.2,392.9 916.5,393.1 917.8,393.1 919,395.8 920.2,394.9 921.5,395.9 922.8,395.4 924,395.8 925.2,397.1 926.5,396.5 927.8,396.3 929,397 930.2,396.5 931.5,397.7 932.8,399.6 934,398.1 935.2,399.3 936.5,399.1 937.8,399.3 939,399.9 940.2,401 941.5,401.1 942.8,398.9 944,400.1 945.2,397.8 946.5,397.1 947.8,395 949,392.4 949.2,393.9 950.2,395.4 951.5,398.2 952.8,399.5 954,400.4 955.2,400.6 956.5,401.7 957.8,400.6 959,401.5 960.2,402.3 961.5,402.2 962.8,403.1 964,403.5 965.2,402.9 966.5,404.5 967.8,404.3 969,404.3 970.2,403.1 971.5,405.5 972.8,404.2 974,404.3 975.2,404.9 976.5,405.4 977.8,404.5 979,406.3 980.2,405.6 981.5,404.5 982.8,405.6 984,405.1 985.2,406.8 986.5,407.7 987.8,406.3 989,406.9 990.2,408.2 991.5,406.1 992.8,407.3 994,407.9 995.2,407.6 996.5,407.3 997.8,409.8 999,407.4 1000.2,408.3 1001.5,409.2 1002.8,408.3 1004,408.3 1005.2,408.8 1006.5,408.7 1007.8,410.1 1009,410.8 1010.2,411.1 1011.5,411.7 1012.8,411 1014,410.4 1015.2,412.4 1016.5,413.1 1017.8,410.5 1019,411.5 1020.2,410.9 1021.5,410.7 1022.8,409.2 1024,408 1025.2,404.1 1026.5,401 1027.3,400.6 1027.8,400.6 1029,404.2 1030.2,407.5 1031.5,410 1032.8,412 1034,413.6 1035.2,413.9 1036.5,414.6 1037.8,414.4 1039,414 1040.2,414.5 1041.5,414.8 1042.8,414.5 1044,415.3 1045.2,414.6 1046.5,417.2 1047.8,416.9 1049,415.9 1050.2,418.7 1051.5,418.6 1052.8,418.4 1054,419.3 1055.2,419.9 1056.5,418.9 1057.8,420.1 1059,419.7 1060.2,420.2 1061.5,419.2 1062.8,420.3 1064,419.7 1065.2,420.7 1066.5,420.9 1067.8,420.4 1069,421.1 1070.2,421.6 1071.5,421.7 1072.8,422.2 1074,422.2 1075.2,422.7 1076.5,422.8 1077.8,422.7 1079,423.2 1080.2,424 1081.5,424.6 1082.8,424.3 1084,425 1085.2,424.8 1086.5,424.4 1087.8,423.8 1089,423.1 1090.2,422.9 1091.5,422.4 1092.8,421.2 1094,422 1095.2,419.6 1096.5,415.3 1097.8,411 1099,406 1099.1,406.5 1100.2,409.2 1101.5,415.6 1102.8,419 1104,422.1 1105.2,423.9 1106.5,424.3 1107.8,424.8 1109,425.1 1110.2,425.3 1111.5,425.5 1112.8,426.2 1114,426.8 1115.2,426.6 1116.5,427.3 1117.8,427.5 1119,428 1120.2,426.7 1121.5,427.2 1122.8,427.2 1124,427.8 1125.2,427.3 1126.5,427 1127.8,428 1129,427.7 1130.2,428.4 1131.5,428.2 1132.8,429 1134,429 1135.2,428.4 1136.5,429.4 1137.8,429.7 1139,428.4 1140.2,427.7 1141.5,427.4 1142.8,428.5 1144,428.2 1145.2,427.9 1145.2,428.2 1146.5,428 1147.8,427.6 1149,430.1 1150.2,430.5 1151.5,430.8 1152.8,430.6 1154,430.3 1155.2,430.6 1156.5,430.2 1157.8,429.3 1159,429 1159.5,430.1 1160.2,429.6 1161.5,429.9 1162.8,430.9 1164,431 1165.2,431.8 1166.5,431.8 1167.8,432.6 1169,433.3 1170.2,434.2 1171.5,433.5 1172.8,434.2 1174,434 1175.2,433.5 1176.5,434 1177.8,433.3 1179,433.9 1180.2,434.2 1181.5,435.3 1182.8,434.3 1184,434 1185.2,434.5 1186.5,435.1 1187.8,435.8 1189,435.3 1190.2,436.1 1191.5,436.8 1192.8,436.6 1194,436.5 1195.2,436.5 1196.5,436.9 1197.8,436.5 1199,436.2 1200.2,436.2 1201.5,435.5 1202.8,436.6 1204,435.8 1205.2,435.6 1206.5,436.3 1207.8,436.2 1209,436.6 1210.2,436.4 1211.5,435.9 1212.8,435.9 1214,436.6 1215.2,435.2 1216.5,436 1217.8,436.7 1219,437.7 1220.2,436.8 1221.5,437.3 1222.8,437.8 1224,437.6 1225.2,437 1226.5,436.9 1227.8,436.3 1229,436.9 1230.2,436.9 1231.5,436.4 1232.8,435.9 1234,435.5 1235.2,434.3 1236.5,434 1237.8,432.4 1238.3,432.2 1239,432.2 1240.2,432.2 1241.5,433 1242.8,433.5 1244,434.4 1245.2,435.5 1246.5,435.5 1247.8,435.9 1249,436 1250.2,436.7 1251.5,436 1252.8,437.4 1254,436.8 1255.2,437.1 1256.5,437.6 1257.8,437.5 1259,437.9 1260.2,438 1261.5,437.9 1262.8,438 1264,436.9 1265.2,438.2 1266.5,437.7 1267.8,437.9 1269,437.9 1270.2,437.2 1271.5,438.5 1272.8,438.7 1274,436.7 1275.2,438.3 1276.5,437.8 1277.8,437.3 1279,437.3 1280.2,436.5 1281.5,437 1282.8,437.1 1284,436 1285.2,436 1286.5,435.4 1287.8,434 1289,432 1290.2,428.7 1291.5,423.3 1292.8,415.9 1293.4,413.9 1294,416.2 1295.2,420.7 1296.5,427.4 1297.8,431.6 1299,433.2 1300.2,435.7 1301.5,436.8 1302.8,437.6 1304,436.5 1305.2,437 1306.5,437.1 1307.8,436.8 1309,437.4 1310.2,437.6 1311.5,438.2 1312.8,438.1 1314,438.6 1315.2,438.4 1316.5,438.9 1317.8,438.2 1319,437.9 1320.2,438 1321.5,438 1322.8,437.7 1324,438.4 1325.2,438.6 1326.5,438.2 1327.8,437.8 1329,437.7 1330.2,437.7 1331.5,438.1 1332.8,438.7 1334,438.2 1335.2,438.3 1336.5,438.3 1337.8,438.3 1339,438.5 1340.2,437.9 1341.5,437.9 1342.8,438.3 1344,438.4 1345.2,438.1 1346.5,436.8 1347.8,436.8 1349,436.6 1350.2,436.2 1351.5,434.8 1352.8,434 1353.7,434 1354,433.1 1355.2,433.6 1356.5,434 1357.8,435.2 1359,435.5 1360.2,437.2 1361.5,438.6 1362.8,439.2 1364,439.3 1365.2,439.4 1366.5,439 1367.8,438.9 1369,438.5 1370.2,439.2 1371.5,438.6 1372.8,438.7 1374,439.3 1375.2,439.3 1376.5,439.1 1377.8,439.1 1379,439 1380.2,439.9 1381.5,439.6 1382.8,439 1384,439.4 1385.2,439.4 1386.5,439.3 1387.8,439.2 1389,440.2 1390.2,439.6 1391.5,440.3 1392.8,439 1394,440.1 1395.2,439.4 1396.5,440.2 1397.8,440.9 1399,440.5 1400.2,440.6 1401.5,440.2 1402.8,440.6 1404,441 1405.2,441.3 1406.5,440.2 1407.8,439.5 1409,439.1 1410.2,439.8 1411.5,438.8 1412.8,438.5 1414,439.2 1415.2,440.1 1416.5,439.5 1417.8,440.9 1419,441.4 1420.2,441.6 1421.5,441.5 1422.8,440.8 1424,440.8 1425.2,440.6 1426.5,440.9 1427.8,441 1429,441.4 1430.2,442.1 1431.5,440.2 1432.8,440.8 1434,439.5 1435.2,440.2 1436.5,439.9 1437.8,439.3 1439,439.7 1440.2,439.5 1441.5,440.6 1442.8,441.2 1444,440.4 1445.2,441.4 1446.5,442 1447.8,441.8 1449,441.7 1450.2,441.4 1451.5,442.1 1452.8,442.4 1454,442.1 1455.2,441 1456.5,441.1 1457.8,440.5 1459,440.3 1460.2,440.4 1461.5,440.1 1462.8,439.7 1464,440.7 1465.2,441.1 1466.5,440.9 1467.8,440.9 1469,441.2 1470.2,441.5 1471.5,441.5 1472.8,441.8 1474,441.6 1475.2,441 1476.5,441.4 1477.8,441.8 1479,441.7 1480.2,441.3 1481.5,442 1482.8,442.2 1484,443.2 1485.2,443.2 1486.5,442.2 1487.8,442.7 1489,442.2 1490.2,441.8 1491.5,441.5 1492.8,441.2 1494,441.5 1495.2,440.2 1496.5,440.6 1497.8,441.6 1499,441.3 1500.2,441.2 1501.5,441.5 1502.8,442.5 1504,442 1505.2,442.3 1506.5,442.3 1507.8,441.9 1509,442.2 1510.2,442.4 1511.5,442.2 1512.8,442.1 1514,442.6 1515.2,442.7 1516.5,443 1517.8,443.4 1519,443.9 1520.2,443.3 1521.5,443.1 1522.8,443.2 1524,443 1525.2,443.2 1526.5,442.4 1527.8,440.7 1529,441.5 1530.2,442.2 1531.5,441.6 1532.8,441.3 1534,441.7 1535.2,442.2 1536.5,442 1537.8,442.6 1539,443.2 1540.2,442.8 1541.5,443.1 1542.8,443.5 1544,442.8 1545.2,443.1 1546.5,442.7 1547.8,443.1 1549,442.1 1550.2,442.7 1551.5,442.7 1552.8,443.1 1554,444 1555.2,443.2 1556.5,443.9 1557.8,443.8 1559,444.2 1560.2,443.8 1561.5,444.3 1562.8,444 1564,442.7 1565.2,443.6 1566.5,444.1 1567.8,443.6 1569,444.5 1570.2,444.2 1571.5,444.9 1572.8,444.6 1574,443.6 1575.2,444.3 1576.5,444.3 1577.8,445.1 1579,444.5 1580.2,444.9 1581.5,444.7 1582.8,443.9 1584,442.5 1585.2,442.6 1586.5,442.3 1587.8,441.9 1589,440.5 1590.2,440 1591.5,439.1 1592.3,439.5 1592.8,439.8 1594,440.8 1595.2,441 1596.5,442.1 1597.8,442.6 1599,442.5 1600.2,443.6 1601.5,442.8 1602.8,443 1604,443 1605.2,443.5 1606.5,442.6 1607.8,443.4 1609,442.8 1610.2,442.3 1611.5,442.1 1612.8,442.3 1614,442 1615.2,440 1616.5,440.6 1617.8,441.1 1617.8,440.9 1619,441.1 1620.2,440.9 1621.5,441.5 1622.8,441.9 1624,442.7 1625.2,443.9 1626.5,443.6 1627.8,444.6 1629,444.1 1630.2,444 1631.5,444.4 1632.8,445 1634,444.6 1635.2,445 1636.5,445.8 1637.8,445.9 1639,445 1640.2,445.9 1641.5,445.1 1642.8,445.8 1644,445.3 1645.2,445.6 1646.5,445.5 1647.8,446.2 1649,446.1 1650.2,445.9 1651.5,445.5 1652.8,445.4 1654,445.1 1655.2,445.2 1656.5,445.7 1657.8,445.2 1659,444.3 1660.2,446 1661.5,445.9 1662.8,445.9 1664,446.1 1665.2,446.9 1666.5,446.4 1667.8,446.7 1669,446.6 1670.2,446.3 1671.5,446.8 1672.8,446.5 1674,446.1 1675.2,445.5 1676.5,445.6 1677.8,445.8 1679,446.2 1680.2,445.7 1681.5,446 1682.8,446.2 1684,445.9 1685.2,446.2 1686.5,446 1687.8,446.2 1689,445.7 1690.2,446.1 1691.5,447.5 1692.8,446.8 1694,446.5 1695.2,446.1 1696.5,446.2 1697.8,446.7 1699,445.5 1700.2,445.9 1701.5,446.1 1702.8,445.8 1704,446.2 1705.2,446 1706.5,447 1707.8,447.1 1709,445.8 1710.2,446.7 1711.5,446.5 1712.8,446.4 1714,446 1715.2,446.8 1716.5,446.5 1717.8,447.1 1719,448.1 1720.2,447.2 1721.5,447.9 1722.8,447.9 1724,447.6 1725.2,448 1726.5,447 1727.8,448 1729,448.5 1730.2,448 1731.5,448.5 1732.8,448.4 1734,448.4 1735.2,448.6 1736.5,447.5 1737.8,447.6 1739,447.2 1740.2,447.1 1741.5,446.2 1742.8,446.9 1744,446.8 1745.2,446.2 1746.5,446.2 1747.8,444.8 1749,444.3 1750.2,444.9 1751.5,445 1752,445.2 1752.8,444.8 1754,445.5 1755.2,446.6 1756.5,446.3 1757.8,446.2 1759,446.6 1760.2,447.1 1761.5,447.6 1762.8,447.7 1764,448.3 1765.2,448 1766.5,447.9 1767.8,447.2 1769,446.7 1770.2,445.9 1771.5,446.7 1772.8,447.4 1774,447.9 1775.2,448.2 1776.5,448.5 1777.8,448.5 1779,448.8 1780.2,448.6 1781.5,448.7 1782.8,448.6 1784,449.2 1785.2,448.7 1786.5,448.5 1787.8,447.9 1789,448.4 1790.2,448.8 1791.5,449 1792.8,448.7 1794,450.1 1795.2,449.8 1796.5,449.3 1797.8,449.8 1799,448.8 1800.2,448.4 1801.5,448.4 1802.8,448.4 1804,448.4 1805.2,448 1806.5,449.4 1807.8,449.7 1809,449.5 1810.2,449.6 1811.5,448.7 1812.8,449.6 1814,448.5 1815.2,448.7 1816.5,448.7 1817.8,447.6 1819,448.7 1820.2,449.5 1821.5,449.4 1822.8,450.4 1824,450.1 1825.2,449.7 1826.5,449 1827.8,449.2 1829,449 1830.2,449.1 1831.5,449.2 1832.8,449.1 1834,449.5 1835.2,448.9 1836.5,449.4 1837.8,449.2 1839,449.5 1840.2,450.3 1841.5,451 1842.8,450.7 1844,451.4 1845.2,449.9 1846.5,450.1 1847.8,450.2 1849,450.2 1850.2,449.2 1851.5,450 1852.8,449.5 1854,450.1 1855.2,449.9 1856.5,449.6 1857.8,450.3 1859,449.3 1860.2,450 1861.5,449.7 1862.8,450.8 1864,450.7 1865.2,450.8 1866.5,450.7 1867.8,449.6 1869,448.9 1870.2,448.9 1871.5,447.5 1872.8,446.7 1874,446.1 1875.2,446.4 1875.9,446.1 1876.5,446.6 1877.8,446.7 1879,447.3 1880.2,447.6 1881.5,449.2 1882.8,449.3 1884,449.1 1885.2,449.9 1886.5,449.2 1887.8,448.9 1889,449.9 1890.2,449.1 1891.5,449.3 1892.8,449.9 1894,451.5 1895.2,450.1 1896.5,450.1 1897.8,451.6 1899,450.8 1900.2,450.8 1901.5,450 1902.8,450.9 1904,450.5 1905.2,450.4 1906.5,450.7 1907.8,450.2 1909,450.9 1910.2,450.9 1911.5,451 1912.8,451.3 1914,451 1915.2,451.1 1916.5,450.6 1917.8,450.8 1919,449.1 1920.2,449.7 1921.5,449.8 1922.8,450.5 1924,450.1 1925.2,450.3 1926.5,450.7 1927.8,450.7 1929,450.8 1930.2,450.8 1931.5,450.5 1932.8,451 1934,450.8 1935.2,450.6 1936.5,450 1937.8,450.9 1939,450.4 1940.2,451.3 1941.5,450.7 1942.8,450.5 1944,451.3 1945.2,450.7 1946.5,450.4 1947.8,450.3 1949,448.9 1950.2,449.7 1951.5,448.7 1952.8,449.1 1954,448.7 1955.2,448.8 1956.5,448 1957.8,447.1 1959,446.6 1960.2,446.9 1961.3,446.7 1961.5,445.5 1962.8,445.3 1964,447.2 1965.2,446.7 1966.5,447.8 1967.8,447.9 1969,447.4 1970.2,447.7 1971.5,448.2 1972.8,449.6 1974,450 1975.2,450.5 1976.5,449 1977.8,449.3 1979,449 1980.2,445.7 1981.5,443.9 1982.8,441.8 1984,440.5 1984.3,440.7 1985.2,441.2 1986.5,442.4 1987.8,444.8 1989,446.4 1990.2,447.8 1991.5,449.9 1992.8,449.8 1994,450.2 1995.2,450.9 1996.5,450.8 1997.8,450.6 1999,450.5 2000.2,451.3 2001.5,451.2 2002.8,451.4 2004,452 2005.2,452 2006.5,452.1 2007.8,452.6 2009,452.1 2010.2,451.6 2011.5,451.7 2012.8,450.7 2014,451.5 2015.2,451.4 2016.5,451.9 2017.8,451.7 2019,451.5 2020.2,452.1 2021.5,450.6 2022.8,451.4 2024,452.2 2025.2,451.8 2026.5,451.1 2027.8,451.1 2029,452.4 2030.2,451.3 2031.5,451.5 2032.8,451.6 2034,452.1 2035.2,451.8 2036.5,452.1 2037.8,452.6 2039,452.8 2040.2,452.5 2041.5,451 2042.8,452.1 2044,452.1 2045.2,452.7 2046.5,452 2047.8,452.6 2049,452.8 2050.2,452.7 2051.5,452.1 2052.8,451.9 2054,452.4 2055.2,452.1 2056.5,452.4 2057.8,453.3 2059,452.6 2060.2,453.8 2061.5,453.4 2062.8,453.8 2064,453.9 2065.2,453.6 2066.5,453 2067.8,452.6 2069,452.3 2070.2,453.1 2071.5,453.4 2072.8,453.4 2074,454.4 2075.2,453.8 2076.5,453.1 2077.8,452 2079,452.2 2080.2,452.5 2081.5,452.5 2082.8,452.3 2084,451.4 2085.2,452.5 2086.5,452.4 2087.8,452.5 2089,452.4 2090.2,452.5 2091.5,453.4 2092.8,453.3 2094,453 2095.2,453.8 2096.5,452.6 2097.8,453.2 2099,452.2 2100.2,453.5 2101.5,452.8 2102.8,452.6 2104,451.7 2105.2,452.7 2106.5,452 2107.8,452.5 2109,453.3 2110.2,452.3 2111.5,452.4 2112.8,452.9 2114,453 2115.2,452.6 2116.5,451.9 2117.8,451.5 2119,450.1 2119.6,450.4 2120.2,450.4 2121.5,450.8 2122.8,450.6 2124,450.9 2125.2,452.2 2126.5,452.1 2127.8,452.7 2129,452.3 2130.2,452.6 2131.5,452.9 2132.8,452.8 2134,453.5 2135.2,452.6 2136.5,453.7 2137.8,454.2 2139,454.1 2140.2,454.1 2141.5,453.9 2142.8,453.7 2144,453.8 2145.2,454.2 2146.5,454.1 2147.8,454 2149,454 2150.2,453.7 2151.5,454 2152.8,454.3 2154,454.3 2155.2,454.3 2156.5,454.8 2157.8,455.6 2159,455.4 2160.2,454.6 2161.5,454.2 2162.8,454.2 2164,454.2 2165.2,454.5 2166.5,454.5 2167.8,454.3 2169,454.5 2170.2,455 2171.5,454.7 2172.8,454.1 2174,454.8 2175.2,455.4 2176.5,455.4 2177.8,455.6 2179,455.5 2180.2,454.6 2181.5,454.5 2182.8,454.6 2184,454.4 2185.2,454.2 2186.5,454.4 2187.8,454.7 2189,455.5 2190.2,455.9 2191.5,455.9 2192.8,455.4 2194,456 2195.2,456.5 2196.5,455.7 2197.8,455.7 2199,455.7 2200.2,455.9 2201.5,455.3 2202.8,455.2 2204,455.6 2205.2,455.7 2206.5,456.4 2207.8,456.4 2209,456.2 2210.2,456.6 2211.5,455.9 2212.8,455.1 2214,455.9 2215.2,455.5 2216.5,455.6 2217.8,454.8 2219,455.5 2220.2,456.4 2221.5,456 2222.8,456.7 2224,455.6 2225.2,456 2226.5,456.2 2227.8,454.6 2229,455.6 2230.2,456.3 2231.5,456.5 2232.8,456.5 2234,455.6 2235.2,456.7 2236.5,456.9 2237.8,456.3 2239,456.2 2240.2,456.1 2241.5,456.1 2242.8,456.2 2244,456.9 2245.2,456.8 2246.5,456.5 2247.8,456.6 2249,456 2250.2,456 2251.5,456.7 2252.8,455.9 2254,456.3 2255.2,455.6 2256.5,456.1 2257.8,455.4 2259,455.7 2260.2,455.9 2261.5,456.5 2262.8,457 2264,456.4 2265.2,456.6 2266.5,456.4 2267.8,456.9 2269,456.5 2270.2,456.4 2271.5,456.5 2272.8,457.5 2274,456.8 2275.2,456.9 2276.5,456.8 2277.8,456.5 2279,457.3 2280.2,455.8 2281.5,455.6 2282.8,456 2284,455.8 2285.2,455.8 2286.5,455.9 2287.8,456.2 2289,455.8 2290.2,455.2 2291.5,455.6 2292.8,455.6 2294,456.2 2295.2,456.7 2296.5,456.9 2297.8,456.5 2299,457 2300.2,457.3 2301.5,457.1 2302.8,457.5 2304,457.6 2305.2,457.5 2306.5,457.2 2307.8,457.9 2308.5,457.2"/>
<polyline class="c" stroke="#ff0080" points="41.5,237.2 42.8,236.5 44,238.1 45.2,239.1 46.5,239.2 47.8,240 49,239.8 50.2,238 51.5,240.8 52.8,239.9 54,241.4 55.2,242.5 56.5,242.9 57.8,244.9 59,244.8 60.2,245.5 61.5,246.4 62.8,246 64,246.4 65.2,247.6 66.5,249.8 67.8,250.6 69,250.6 70.2,250.7 71.5,252.3 72.8,250.8 74,251.5 75.2,254 76.5,252.5 77.8,253.7 79,255.2 80.2,255.9 81.5,256.2 82.8,255.2 84,256.3 85.2,257.7 86.5,256.6 87.8,257.4 89,257.8 90.2,259.1 91.5,258.3 92.8,259.8 94,259.1 95.2,261 96.5,260.3 97.8,262.5 99,261.7 100.2,262.8 101.5,264.2 102.8,265 104,263.6 105.2,264 106.5,263.9 107.8,265.1 109,265.5 110.2,266.8 111.5,266.5 112.8,268 114,268.5 115.2,267.6 116.5,266.5 117.8,267.2 119,267.7 120.2,268.7 121.5,269.2 122.8,270.3 124,268.5 125.2,270.1 126.5,269.8 127.8,270.6 129,271.2 130.2,271.3 131.5,271.8 132.8,271.8 134,274.8 135.2,273.5 136.5,274.3 137.8,273.8 139,275.4 140.2,274.6 141.5,274.1 142.8,274.2 144,274.7 145.2,275 146.5,274.4 147.8,275.5 149,276.7 150.2,276.1 151.5,276.9 152.8,277.8 154,277.8 155.2,277.4 156.5,277.7 157.8,279.3 159,278.5 160.2,279 161.5,279.3 162.8,278.5 164,281.1 165.2,280.2 166.5,279.4 167.8,280.1 169,280 170.2,280.5 171.5,282.1 172.8,280.9 174,281.1 175.2,282.1 176.5,282.2 177.8,283.5 179,282.6 180.2,282.5 181.5,282.6 182.8,282.9 184,283 185.2,283.6 186.5,283.6 187.8,284.7 189,284 190.2,285 191.5,285.7 192.8,283.7 194,286.3 195.2,287.1 196.5,285.7 197.8,286.6 199,286 200.2,287.8 201.5,286 202.8,286.9 204,285.8 205.2,287 206.5,287.4 207.8,286.1 209,287.1 210.2,285.7 211.5,285.4 212.8,287.9 214,287.9 215.2,287.8 216.5,288.2 217.8,289.7 219,288.8 220.2,289.6 221.5,289.1 222.8,289.6 224,289.6 225.2,290.4 226.5,290.7 227.8,288.8 229,290.7 230.2,290.4 231.5,288 232.8,289.6 234,290.5 235.2,290 236.5,291.2 237.8,290.9 239,291.7 240.2,292.5 241.5,291.3 242.8,292 244,292.4 245.2,292.7 246.5,292.7 247.8,293.2 249,293.4 250.2,293 251.5,293.5 252.8,294.7 254,294.5 255.2,294.4 256.5,294.5 257.8,295.8 259,295.7 260.2,294.1 261.5,294.2 262.8,294.4 264,296.2 265.2,296.9 266.5,297 267.8,296.8 269,296.9 270.2,297.1 271.5,296.1 272.8,297.3 274,296.9 275.2,296.9 276.5,296.9 277.8,296.2 279,296.3 280.2,296.2 281.5,297.4 282.8,296.6 284,296.8 285.2,296.4 286.5,297.1 287.8,295.2 289,295 290.2,296.7 291.5,296.2 292.8,298 294,297.6 295.2,298.3 296.5,298.4 297.8,299.3 299,298.9 300.2,298.9 301.5,299.1 302.8,299.5 304,298.5 305.2,297.8 306.5,298.8 307.8,297.5 309,297.6 310.2,297 311.5,297.7 312.8,297.6 314,296 315.2,296.9 316.5,298.2 317.8,298 319,297.4 320.2,297.1 321.5,298.2 322.8,298 324,297.1 325.2,296.5 326.5,298.2 327.8,298.7 329,298.1 330.2,299.9 331.5,298.4 332.8,299.4 334,297.5 335.2,298 336.5,297.9 337.8,298.1 339,298 340.2,298.5 341.5,298.3 342.8,299.4 344,298.5 345.2,296.9 346.5,298.8 347.8,298.4 349,298.6 350.2,298.5 351.5,299.7 352.8,298.3 354,297.9 355.2,298.4 356.5,298.8 357.8,298.8 359,299.4 360.2,298.7 361.5,300.3 362.8,298.7 364,298.7 365.2,299.4 366.5,299.5 367.8,298.6 369,299.3 370.2,297.9 371.5,298.9 372.8,297.8 374,298.1 375.2,297.7 376.5,297.8 377.8,298.5 379,298.7 380.2,299.2 381.5,299.2 382.8,299.8 384,300.1 385.2,299.7 386.5,299.6 387.8,298.9 389,297.7 390.2,298.2 391.5,297.4 392.8,297 394,296.8 395.2,296.9 396.5,296.1 397.8,297.2 399,298.5 400.2,297.7 401.5,299 402.8,298.7 404,298.7 405.2,298.7 406.5,297.7 407.8,298.6 409,298.6 410.2,298.4 411.5,297.9 412.8,297.5 414,298.7 415.2,296.6 416.5,296.6 417.8,297.5 419,296.9 420.2,296.5 421.5,296.5 422.8,296.2 424,296 425.2,295.7 426.5,295.5 427.8,295.9 429,295.5 430.2,294.8 431.5,292.8 432.8,292.6 434,288.8 435.2,285 436.5,278.3 437.8,265.8 439,252.2 440.1,246.5 440.2,246.3 441.5,260.4 442.8,278.9 444,288.5 445.2,292.2 446.5,294.3 447.8,294.5 449,295.5 450.2,294.9 451.5,296.5 452.8,296.7 454,296.5 455.2,295.8 456.5,295.9 457.8,295.6 459,296.9 460.2,297 461.5,296.6 462.8,298 464,296.9 465.2,296.2 466.5,296.5 467.8,296.8 469,297 470.2,296.1 471.5,297.5 472.8,297.5 474,297.3 475.2,297.4 476.5,296.1 477.8,296.7 479,296.1 480.2,296.6 481.5,295.1 482.8,294.5 484,295.2 485.2,295.9 486.5,295.3 487.8,295.4 489,295.3 490.2,296 491.5,296.1 492.8,295.9 494,296.6 495.2,295 496.5,294.6 497.8,294.9 499,294 500.2,295.2 501.5,294.3 502.8,296.3 504,297.5 505.2,296.4 506.5,295.3 507.8,296.2 509,296.8 510.2,297.2 511.5,295.1 512.8,295.7 514,296.4 515.2,296.3 516.5,295.4 517.8,294.9 519,295.1 520.2,294.9 521.5,293.8 522.8,294.2 524,294 525.2,294.8 526.5,293.5 527.8,294.6 529,295.7 530.2,295.1 531.5,295.3 532.8,294.8 534,294.7 535.2,294.4 536.5,292.9 537.8,292.7 539,293.1 540.2,293.4 541.5,293.1 542.8,294.1 544,294 545.2,295.4 546.5,294.9 547.8,293.6 549,294 550.2,293.5 551.5,293.3 552.8,293.1 554,292.4 555.2,293.4 556.5,292.7 557.8,292.5 559,293 560.2,293.7 561.5,293.6 562.8,293.2 564,295 565.2,294.1 566.5,293.2 567.8,293.1 569,292.7 570.2,294 571.5,292.4 572.8,293.4 574,293 575.2,291.6 576.5,290.2 577.8,290.3 579,291.6 580.2,290.8 581.5,290.9 582.8,291.5 584,291.7 585.2,289.6 586.5,289.4 587.8,287.1 589,287 590.2,284.9 591.5,282.6 592.8,280.7 594,277.8 594.5,278.2 595.2,278 596.5,279.9 597.8,283.6 599,286.4 600.2,286.5 601.5,288.7 602.8,288.6 604,290.3 605.2,289.4 606.5,289.6 607.8,289.5 609,289.9 610.2,290 611.5,289.4 612.8,289.1 614,289.6 615.2,290 616.5,289.7 617.8,289.9 619,289.2 620.2,289.4 621.5,289.3 622.8,288.5 624,289.7 625.2,289.6 626.5,287.8 627.8,289.5 629,289.2 630.2,288.9 631.5,287.8 632.8,288.2 634,287 635.2,287 636.5,287.7 637.8,288 639,287.7 640.2,289.2 641.5,288.6 642.8,289.1 644,289.1 645.2,288.1 646.5,288.2 647.8,287.6 649,288 650.2,288.6 651.5,286.8 652.8,287.4 654,287.7 655.2,287.9 656.5,286.8 657.8,287.7 659,288.3 660.2,287 661.5,287.1 662.8,286.5 664,286.4 665.2,286 666.5,285.9 667.8,286 669,286 670.2,285.8 671.5,286.1 672.8,285.9 674,285.2 675.2,284.2 676.5,283.9 677.8,284.3 679,284 680.2,283.9 681.5,284.1 682.8,283.6 684,284.1 685.2,284.4 685.9,283.4 686.5,282 687.8,283.3 689,283.4 690.2,283.2 691.5,282.2 692.8,281.6 694,281.8 695.2,282.8 696.5,283.7 697.8,283 699,283.6 700.2,285.7 701.5,285.1 702.8,283.9 704,285.5 705.2,285.6 706.5,284.8 707.8,284.9 709,285.4 710.2,286.7 711.5,286 712.8,285.2 714,284.5 715.2,285.2 716.5,284.5 717.8,283.9 719,283.9 720.2,284.3 721.5,283.9 722.8,283.8 724,285 725.2,284.8 726.5,285.2 727.8,284.3 729,284.4 730.2,284.9 731.5,285.6 732.8,284.1 734,283.9 735.2,283.2 736.5,283.2 737.8,282.2 739,283.1 740.2,283.9 741.5,283.7 742.8,283.6 744,281.1 745.2,283.5 746.5,282.9 747.8,282.8 749,283.8 750.2,282.8 751.5,282.5 752.8,283 754,282.3 755.2,280.4 756.5,279.9 757.8,279.5 759,279.3 760.2,279.4 761.5,279.6 762.8,279.6 764,277.3 765.2,276.1 766.5,273.6 767.8,268.2 769,260.2 770.2,249.5 771.5,234.6 772.8,224.5 773.4,221.2 774,221.6 775.2,228.5 776.5,238.2 777.8,244.3 779,240.3 780.2,227.6 781.5,206.1 782.8,191.3 782.8,190.2 784,200.8 785.2,223.2 786.5,238.4 787.8,246.9 789,249.5 790.2,251.7 791.5,251.6 792.8,246.6 794,234.5 795.2,216.3 796.5,204.2 796.6,204 797.8,218.7 799,242.8 800.2,259 801.5,268 802.8,272.3 804,273.2 805.2,274.8 806.5,275 807.8,275.3 809,276 810.2,276.3 811.5,276.3 812.8,275.8 814,276.4 815.2,276 816.5,277 817.8,277.7 819,277.1 820.2,277.6 821.5,277.6 822.8,276.4 824,278.3 825.2,278.9 826.5,278.5 827.8,275.9 829,277.2 830.2,276.4 831.5,277.3 832.8,275.7 834,275.6 835.2,277.9 836.5,277.9 837.8,277.5 839,275.3 840.2,276.6 841.5,276.6 842.8,275.2 844,275.3 845.2,275.4 846.5,275.7 847.8,275.1 849,276 850.2,275.3 851.5,275.9 852.8,275.1 854,274.7 855.2,275 856.5,273.8 857.8,273.2 859,272.7 860.2,272.7 861.5,272.6 862.8,273.5 864,272.5 865.2,273.7 866.5,270.6 867.8,270 869,270.2 870.2,268.8 871.5,268.2 872.8,268.8 874,269.5 875.2,269.2 876.5,268.9 877.8,268.6 879,267.1 880.2,266.6 881.5,264.1 882.8,265.8 884,263.7 885.2,263.5 886.5,263.6 887.8,262.2 889,259.9 890.2,257.9 891.5,255.7 892.7,254.9 892.8,256.8 894,257.5 895.2,258.8 896.5,260.2 897.8,262.7 899,262 900.2,263.2 901.5,263.5 902.8,262.6 904,263.9 905.2,263.6 906.5,264.8 907.8,264.5 909,264.1 910.2,264 911.5,264.6 912.8,265.4 914,265.8 915.2,267 916.5,266.3 917.8,267.7 919,267.4 920.2,269.4 921.5,269.5 922.8,269.5 924,269.4 925.2,270 926.5,269.4 927.8,271.2 929,271.2 930.2,272 931.5,271.1 932.8,272.2 934,271.9 935.2,271.3 936.5,272 937.8,272.1 939,272.7 940.2,272.6 941.5,271.5 942.8,269.8 944,265.8 945.2,260.7 946.5,257.6 946.7,257.1 947.8,260 949,266.3 950.2,268.3 951.5,271.8 952.8,273.4 954,275.2 955.2,275.1 956.5,276.3 957.8,277.1 959,276 960.2,277.6 961.5,277.9 962.8,278.9 964,279.3 965.2,281.1 966.5,279 967.8,280 969,280.8 970.2,282.9 971.5,280.9 972.8,280.9 974,282 975.2,282.4 976.5,282.1 977.8,282.1 979,282.6 980.2,282.7 981.5,283.5 982.8,283.2 984,283.7 985.2,283.1 986.5,283.9 987.8,283.3 989,283.7 990.2,284.2 991.5,284.2 992.8,284.1 994,285.6 995.2,285.3 996.5,285.8 997.8,284.5 999,284.6 1000.2,284.6 1001.5,284.4 1002.8,285.7 1004,285.7 1005.2,287 1006.5,286.8 1007.8,288 1009,287.3 1010.2,287.2 1011.5,286.9 1012.8,287.2 1014,286.4 1015.2,287 1016.5,286.7 1017.8,286.1 1019,284.9 1020.2,281.8 1021.5,277.8 1022.8,269.1 1024,259.2 1024.9,255.7 1025.2,256.3 1026.5,266 1027.8,276.1 1029,280.4 1030.2,285.1 1031.5,288.3 1032.8,288.5 1034,290.1 1035.2,289.5 1036.5,289.9 1037.8,291.1 1039,290.9 1040.2,291 1041.5,291 1042.8,290.4 1044,290 1045.2,290.9 1046.5,291.7 1047.8,291.4 1049,292.2 1050.2,293 1051.5,292.5 1052.8,292 1054,292.3 1055.2,293.7 1056.5,293.8 1057.8,294.5 1059,294.9 1060.2,295.1 1061.5,296.3 1062.8,295.2 1064,294.3 1065.2,295.1 1066.5,294.2 1067.8,295.5 1069,295.4 1070.2,295.6 1071.5,294.5 1072.8,295.6 1074,295.6 1075.2,295.1 1076.5,295.6 1077.8,295.7 1079,295.7 1080.2,296.1 1081.5,296 1082.8,296.1 1084,295 1085.2,295.6 1086.5,293.8 1087.8,293.6 1089,293.1 1090.2,291.6 1091.5,288.8 1092.8,284.2 1094,275.5 1095.2,264.8 1096.5,254 1096.7,254.4 1097.8,260.1 1099,273.2 1100.2,283 1101.5,288.6 1102.8,291.6 1104,293.8 1105.2,295.6 1106.5,297.2 1107.8,297.5 1109,297.5 1110.2,297.7 1111.5,296.4 1112.8,295.6 1114,297.3 1115.2,297.7 1116.5,296.6 1117.8,297.9 1119,299.2 1120.2,299.1 1121.5,298.4 1122.8,298 1124,299.2 1125.2,298.8 1126.5,299.5 1127.8,299.4 1129,299.9 1130.2,299.7 1131.5,300.4 1132.8,300.1 1134,300.5 1135.2,301.5 1136.5,301.4 1137.8,300.8 1139,301.5 1140.2,301.5 1141.5,301.7 1142.8,301.3 1144,301.7 1145.2,301.5 1146.5,302.7 1147.8,302.6 1149,303.5 1150.2,302 1151.5,302.3 1152.8,301.8 1154,301.1 1155.2,298.4 1156.5,298 1157,296.7 1157.8,297.3 1159,299.4 1160.2,300.9 1161.5,303.1 1162.8,304.5 1164,305.6 1165.2,305.7 1166.5,306.2 1167.8,306.4 1169,306.4 1170.2,306.1 1171.5,307 1172.8,306.9 1174,306.6 1175.2,306.5 1176.5,306.8 1177.8,307.5 1179,307.4 1180.2,307.5 1181.5,307.5 1182.8,308 1184,308.7 1185.2,307.7 1186.5,309.3 1187.8,310 1189,308.9 1190.2,310.1 1191.5,309.5 1192.8,309.5 1194,310.5 1195.2,310.9 1196.5,311.4 1197.8,310.2 1199,311 1200.2,311.1 1201.5,310.7 1202.8,310.8 1204,310.5 1205.2,309.9 1206.5,309.7 1207.8,310.7 1209,311.2 1210.2,310.7 1211.5,310.4 1212.8,310.6 1214,311.5 1215.2,312 1216.5,311.5 1217.8,310.8 1219,311.5 1220.2,312.5 1221.5,311.1 1222.8,311 1224,311.5 1225.2,310.5 1226.5,310.8 1227.8,309.9 1229,309.6 1230.2,307.8 1231.5,306.4 1232.8,303.6 1234,300.7 1235.2,298.2 1235.9,298.4 1236.5,298.1 1237.8,298.2 1239,299.4 1240.2,300.8 1241.5,303.3 1242.8,304.2 1244,305.4 1245.2,307.4 1246.5,308.3 1247.8,308.6 1249,309.6 1250.2,309.5 1251.5,310.2 1252.8,310.3 1254,310.6 1255.2,310.6 1256.5,310.5 1257.8,311.5 1259,310 1260.2,310.6 1261.5,309.8 1262.8,310.1 1264,310.5 1265.2,310.1 1266.5,310.3 1267.8,310.5 1269,310.5 1270.2,311 1271.5,311.1 1272.8,309.9 1274,309.8 1275.2,309.6 1276.5,309.6 1277.8,309.4 1279,310.9 1280.2,309.9 1281.5,309.4 1282.8,309 1284,307.4 1285.2,305.3 1286.5,302.4 1287.8,293.8 1289,282 1290.2,268.1 1291,264.2 1291.5,266.6 1292.8,279.4 1294,291.4 1295.2,299.8 1296.5,304.5 1297.8,307.1 1299,309 1300.2,310.1 1301.5,310.6 1302.8,311.4 1304,311.5 1305.2,311.9 1306.5,312.7 1307.8,312.7 1309,312.9 1310.2,313.3 1311.5,312.5 1312.8,313.4 1314,311.5 1315.2,312.2 1316.5,313.1 1317.8,313.5 1319,314.4 1320.2,313.8 1321.5,314.5 1322.8,313.8 1324,313.7 1325.2,314 1326.5,313 1327.8,313.1 1329,313.1 1330.2,313.4 1331.5,313.3 1332.8,313.4 1334,313 1335.2,313.4 1336.5,313.1 1337.8,313 1339,312.5 1340.2,312 1341.5,312.9 1342.8,311.2 1344,309.7 1345.2,308.1 1346.5,305.9 1347.8,303 1349,300.3 1350.2,298.8 1351.3,298.6 1351.5,297.4 1352.8,298.4 1354,301.5 1355.2,302.9 1356.5,305.2 1357.8,307.7 1359,308.9 1360.2,310.2 1361.5,310.7 1362.8,312.5 1364,313.2 1365.2,314.1 1366.5,313.4 1367.8,313.5 1369,314.1 1370.2,313.8 1371.5,313.4 1372.8,313.9 1374,314.2 1375.2,315.1 1376.5,314.9 1377.8,315.5 1379,315.2 1380.2,314.6 1381.5,315.5 1382.8,315 1384,315.7 1385.2,316 1386.5,315.3 1387.8,314.9 1389,314.9 1390.2,315.3 1391.5,314.3 1392.8,314.5 1394,314.5 1395.2,314.6 1396.5,315.4 1397.8,315.3 1399,316 1400.2,315.3 1401.5,315.7 1402.8,316.6 1404,315.8 1405.2,316 1406.5,316.1 1407.8,316 1409,315.8 1410.2,316.2 1411.5,315.7 1412.8,315.7 1414,315.3 1415.2,315.8 1416.5,315.4 1417.8,315 1419,315.2 1420.2,314.9 1421.5,315.6 1422.8,314.4 1424,315.2 1425.2,316 1426.5,315.9 1427.8,316.5 1429,316 1430.2,315.7 1431.5,316.3 1432.8,316.3 1434,315.5 1435.2,316 1436.5,316.8 1437.8,316.1 1439,316.2 1440.2,316.3 1441.5,316.9 1442.8,315.8 1444,315.6 1445.2,316.1 1446.5,315.9 1447.8,316.2 1449,315.5 1450.2,315.7 1451.5,316.3 1452.8,317 1454,316.7 1455.2,316.3 1456.5,315.8 1457.8,315.9 1459,315.5 1460.2,315 1461.5,315.4 1462.8,315.3 1464,315.6 1465.2,316.2 1466.5,317.2 1467.8,317 1469,316.3 1470.2,317.5 1471.5,317.3 1472.8,316.4 1474,316.7 1475.2,317.3 1476.5,317.8 1477.8,316.3 1479,317.1 1480.2,317.2 1481.5,316.8 1482.8,317.3 1484,316.1 1485.2,316.2 1486.5,316.3 1487.8,316.6 1489,315.9 1490.2,316.8 1491.5,316.5 1492.8,317.2 1494,316.4 1495.2,316.6 1496.5,317.2 1497.8,316.4 1499,316.8 1500.2,316.6 1501.5,316.8 1502.8,317.8 1504,317.9 1505.2,318.1 1506.5,317 1507.8,316.7 1509,317.2 1510.2,316.7 1511.5,316.7 1512.8,316.7 1514,317.7 1515.2,316.8 1516.5,317.1 1517.8,316.7 1519,316.8 1520.2,316.2 1521.5,316.8 1522.8,316 1524,316.4 1525.2,317.6 1526.5,316.9 1527.8,318 1529,318 1530.2,317.2 1531.5,316.8 1532.8,315.8 1534,317 1535.2,316.4 1536.5,316.2 1537.8,316 1539,314.9 1540.2,315.4 1541.5,314.6 1542.8,314.3 1544,314.4 1545.2,314.8 1546.5,315 1547.8,314.9 1549,313.8 1549.1,313.4 1550.2,313.2 1551.5,313.3 1552.8,313.4 1554,314.2 1555.2,315.8 1556.5,315.1 1557.8,316.1 1559,316.4 1560.2,317.6 1561.5,317.9 1562.8,317.9 1564,317.3 1565.2,318.2 1566.5,318.1 1567.8,317.7 1569,317.4 1570.2,318.8 1571.5,318.2 1572.8,318.6 1574,318.4 1575.2,317.6 1576.5,317.3 1577.8,317.9 1579,318 1580.2,317.3 1581.5,317.6 1582.8,317.4 1584,316.6 1585.2,316.2 1586.5,315.2 1587.8,315.7 1589,314.7 1589.9,314.6 1590.2,314.8 1591.5,315.4 1592.8,315.4 1594,315.6 1595.2,316.1 1596.5,315.5 1597.8,315.9 1599,316.4 1600.2,317.4 1601.5,317.1 1602.8,318.1 1604,317.5 1605.2,317.4 1606.5,317.2 1607.8,315.8 1609,316.7 1610.2,314.6 1611.5,314.8 1612.8,313.8 1614,313.2 1615.2,314.2 1615.3,313.3 1616.5,314.3 1617.8,314 1619,313.9 1620.2,315.9 1621.5,317.1 1622.8,317.3 1624,319.3 1625.2,319.2 1626.5,319.7 1627.8,320.3 1629,320.1 1630.2,319.1 1631.5,319.1 1632.8,320.3 1634,319.7 1635.2,320.3 1636.5,319.3 1637.8,320.3 1639,319.4 1640.2,319.2 1641.5,320 1642.8,319.5 1644,319.5 1645.2,320.6 1646.5,321 1647.8,321.1 1649,321.1 1650.2,321.3 1651.5,320.6 1652.8,320.1 1654,320.3 1655.2,320.7 1656.5,320.6 1657.8,320.6 1659,320.8 1660.2,321.6 1661.5,320.5 1662.8,321.4 1664,320.9 1665.2,320.5 1666.5,321 1667.8,321.7 1669,321 1670.2,321.3 1671.5,321.8 1672.8,321.3 1674,320.9 1675.2,320.9 1676.5,321.3 1677.8,320.5 1679,321.1 1680.2,320.7 1681.5,320.4 1682.8,320.7 1684,320.6 1685.2,320.9 1686.5,321 1687.8,321.3 1689,321.4 1690.2,320.9 1691.5,321 1692.8,320.8 1694,320.5 1695.2,320.7 1696.5,322 1697.8,321.6 1699,322.2 1700.2,322.1 1701.5,322.5 1702.8,321.5 1704,322.3 1705.2,322.3 1706.5,320.8 1707.8,321.6 1709,321.3 1710.2,321.4 1711.5,321.2 1712.8,320.7 1714,321.6 1715.2,321.2 1716.5,321.6 1717.8,321.5 1719,321.5 1720.2,321.6 1721.5,321.7 1722.8,321.6 1724,321.7 1725.2,322.4 1726.5,321.9 1727.8,321.7 1729,322 1730.2,322.9 1731.5,322.4 1732.8,322.2 1734,322.4 1735.2,321.3 1736.5,321 1737.8,320.3 1739,320.4 1740.2,320.4 1741.5,318.6 1742.8,319.3 1744,318 1745.2,316.8 1746.5,316.8 1747.8,316.3 1749,315.3 1749.6,315.2 1750.2,315.9 1751.5,316 1752.8,315.4 1754,316.7 1755.2,317.3 1756.5,318.2 1757.8,318.3 1759,319.7 1760.2,319.1 1761.5,320.4 1762.8,320.7 1764,321.1 1765.2,321.2 1766.5,322.1 1767.8,321.6 1769,322.1 1770.2,321.9 1771.5,322.6 1772.8,322.8 1774,323.7 1775.2,323.7 1776.5,323.7 1777.8,323.3 1779,322.8 1780.2,322.3 1781.5,322.3 1782.8,322.9 1784,323 1785.2,323.4 1786.5,323.1 1787.8,322.5 1789,322.4 1790.2,322.3 1791.5,322 1792.8,322.1 1794,321.5 1795.2,322.8 1796.5,322.3 1797.8,322.7 1799,322.7 1800.2,322 1801.5,323.4 1802.8,323.3 1804,323.1 1805.2,322.7 1806.5,323.8 1807.8,323.8 1809,323.5 1810.2,322.6 1811.5,322.4 1812.8,322.7 1814,322.8 1815.2,323 1816.5,322.5 1817.8,323.2 1819,322.7 1820.2,323.1 1821.5,323.8 1822.8,323.5 1824,323.7 1825.2,323.8 1826.5,323.8 1827.8,323.1 1829,323.5 1830.2,323.5 1831.5,323.9 1832.8,323.5 1834,324 1835.2,323.6 1836.5,323 1837.8,323.5 1839,322.6 1840.2,323 1841.5,322.8 1842.8,323.3 1844,323.2 1845.2,323.7 1846.5,324.7 1847.8,324.8 1849,324.9 1850.2,325.2 1851.5,325.1 1852.8,324 1854,322.8 1855.2,323.5 1856.5,323.6 1857.8,323.3 1859,322.3 1860.2,322.5 1861.5,322 1862.8,321.8 1864,321.5 1865.2,321.1 1866.5,320.6 1867.8,319.1 1869,317 1870.2,316.2 1871.5,315.4 1872.8,314.7 1873.4,315.7 1874,315.6 1875.2,315.3 1876.5,316.5 1877.8,317.2 1879,317.5 1880.2,318.4 1881.5,319.9 1882.8,321.7 1884,321 1885.2,322.7 1886.5,322.6 1887.8,323.7 1889,323.4 1890.2,323.9 1891.5,324 1892.8,324.2 1894,323.1 1895.2,323 1896.5,322.8 1897.8,321.9 1899,322.2 1900.2,322.1 1901.5,322.5 1902.8,322.7 1904,323.3 1905.2,323.5 1906.5,323.9 1907.8,322.8 1909,323.6 1910.2,322.8 1911.5,323 1912.8,322.9 1914,322.5 1915.2,323.3 1916.5,323.1 1917.8,322.5 1919,323.8 1920.2,323.8 1921.5,323.5 1922.8,323.5 1924,324.2 1925.2,324.2 1926.5,323.7 1927.8,324.2 1929,324.3 1930.2,323.7 1931.5,324.2 1932.8,323.9 1934,323.7 1935.2,324.4 1936.5,323.4 1937.8,324.2 1939,323.7 1940.2,324.1 1941.5,323.8 1942.8,324.4 1944,323.5 1945.2,323.5 1946.5,323.7 1947.8,323.5 1949,323.7 1950.2,323.9 1951.5,324 1952.8,323.3 1954,322.9 1955.2,322.7 1956.5,321.9 1957.8,322.4 1958.9,321.6 1959,322.9 1960.2,322.8 1961.5,323.1 1962.8,323.4 1964,324.2 1965.2,324.5 1966.5,323.8 1967.8,324.5 1969,323.5 1970.2,323.9 1971.5,323.9 1972.8,323.1 1974,322.6 1975.2,321 1976.5,318.5 1977.8,316 1979,311.6 1980.2,308.5 1981.5,306.5 1981.9,306.3 1982.8,305.6 1984,308.1 1985.2,311 1986.5,314.4 1987.8,317 1989,319.6 1990.2,322.1 1991.5,323.1 1992.8,324.9 1994,324.4 1995.2,326 1996.5,325.1 1997.8,324.9 1999,325.4 2000.2,326.1 2001.5,326.5 2002.8,326.6 2004,326.8 2005.2,327.7 2006.5,326.8 2007.8,326.8 2009,327.1 2010.2,327 2011.5,327 2012.8,327.9 2014,327.6 2015.2,327.6 2016.5,328.2 2017.8,328 2019,328.2 2020.2,327.1 2021.5,327.8 2022.8,328.3 2024,328.3 2025.2,327.9 2026.5,327.2 2027.8,327.9 2029,327.4 2030.2,327.9 2031.5,327.7 2032.8,327.3 2034,328.1 2035.2,327.4 2036.5,327.6 2037.8,328.4 2039,328.2 2040.2,327.9 2041.5,327.7 2042.8,327.6 2044,328 2045.2,328.1 2046.5,329 2047.8,327.4 2049,328 2050.2,328 2051.5,327.3 2052.8,328.3 2054,328.2 2055.2,328.8 2056.5,328.9 2057.8,328.8 2059,329.4 2060.2,328.5 2061.5,327.9 2062.8,327.6 2064,327.3 2065.2,327.1 2066.5,326.3 2067.8,326.7 2069,327.7 2070.2,328.1 2071.5,327.9 2072.8,328.3 2074,329.3 2075.2,329.1 2076.5,328.1 2077.8,327 2079,327.2 2080.2,326.5 2081.5,325.8 2082.8,325.1 2084,324.5 2084.4,325 2085.2,325.5 2086.5,325.7 2087.8,326.7 2089,326.6 2090.2,327.8 2091.5,328.3 2092.8,328.2 2094,328.6 2095.2,329 2096.5,329 2097.8,329.8 2099,329.1 2100.2,329.6 2101.5,329.1 2102.8,330 2104,329 2105.2,329 2106.5,328.7 2107.8,328.8 2109,328 2110.2,327.3 2111.5,325.6 2112.8,325.1 2114,323.3 2115.2,321.9 2116.5,320.7 2117.2,319.5 2117.8,320.4 2119,321.4 2120.2,321.5 2121.5,322.2 2122.8,324.1 2124,324.7 2125.2,325.9 2126.5,327.4 2127.8,328.5 2129,329.1 2130.2,329.3 2131.5,329.9 2132.8,329.4 2134,329.1 2135.2,328.7 2136.5,327.4 2137.8,328.3 2139,327.4 2140.2,328.4 2141.5,328.5 2142.8,329 2144,328.6 2145.2,328.8 2146.5,329.5 2147.8,328.5 2149,329 2150.2,329.1 2151.5,329.3 2152.8,329.1 2154,329.1 2155.2,329.1 2156.5,329.9 2157.8,329.7 2159,330.8 2160.2,330.6 2161.5,329.7 2162.8,329.7 2164,330.1 2165.2,329.1 2166.5,329.1 2167.8,330 2169,329.5 2170.2,329.4 2171.5,329.9 2172.8,329.2 2174,330.3 2175.2,330.1 2176.5,329.6 2177.8,329.1 2179,329.2 2180.2,328.8 2181.5,328.8 2182.8,329.3 2184,330.4 2185.2,329.3 2186.5,330.4 2187.8,330.2 2189,330.3 2190.2,330.1 2191.5,330.4 2192.8,329.5 2194,330.4 2195.2,330.2 2196.5,329.7 2197.8,329.3 2199,328.9 2200.2,328.8 2201.5,329.1 2202.8,329.3 2204,329.9 2205.2,329.6 2206.5,330.3 2207.8,330.2 2209,330.7 2210.2,330.5 2211.5,330.3 2212.8,330.2 2214,330.5 2215.2,330.8 2216.5,330.9 2217.8,331.6 2219,330.1 2220.2,330.5 2221.5,330.9 2222.8,330.5 2224,330.5 2225.2,330.3 2226.5,331.1 2227.8,330.8 2229,330.5 2230.2,330.3 2231.5,331.1 2232.8,330.8 2234,330.8 2235.2,330 2236.5,329.7 2237.8,330.2 2239,330.2 2240.2,330.8 2241.5,330.3 2242.8,330.9 2244,331.1 2245.2,331.2 2246.5,331.4 2247.8,332.2 2249,332.2 2250.2,331.7 2251.5,331.6 2252.8,330.6 2254,329.9 2255.2,331 2256.5,330.4 2257.8,330.1 2259,329.9 2260.2,329.9 2261.5,330.6 2262.8,329.8 2264,330.4 2265.2,331.1 2266.5,331.2 2267.8,331.2 2269,330.7 2270.2,330.9 2271.5,331.3 2272.8,330.2 2274,331.5 2275.2,331.1 2276.5,331.9 2277.8,331.9 2279,331.7 2280.2,332.2 2281.5,332.2 2282.8,332 2284,331.4 2285.2,331.6 2286.5,331.8 2287.8,332.2 2289,332 2290.2,332 2291.5,332.3 2292.8,332.3 2294,332.3 2295.2,331.5 2296.5,331.3 2297.8,331.1 2299,331.7 2300.2,332.1 2301.5,330.9 2302.8,331.3 2304,331.8 2305.2,331.6 2306.5,331.1 2307.8,330.8 2308.5,331.6"/>
</g>
<g id="labels">
<text id="leg1" style="font-size:76px;" transform="translate(1508.86 126.30) scale(0.9693 1)" xml:space="preserve"><tspan x="0.00">M-Mullite</tspan> <tspan x="361.63">Q-Quartz</tspan></text>
<text id="leg2" style="font-size:76px;" transform="translate(1505.12 213.80) scale(0.9611 1)">C-Calcium silicate hydrate</text>
<text id="wb13" style="font-size:76px;" transform="translate(2073.90 294.90) scale(0.9593 1)">W-B13</text>
<text id="wb7" style="font-size:76px;" transform="translate(2111.00 410.60) scale(0.9659 1)">W-B7</text>
<text id="wb5" style="font-size:76px;" transform="translate(2125.30 651.40) scale(0.9551 1)">W-B5</text>
<text id="db13" style="font-size:76px;" transform="translate(2093.39 802.00) scale(0.9540 1)">D-B13</text>
<text id="db7" style="font-size:76px;" transform="translate(2126.09 925.70) scale(0.9533 1)">D-B7</text>
<text id="db5" style="font-size:76px;" transform="translate(2125.69 1145.10) scale(0.9561 1)">D-B5</text>
<text id="sb13" style="font-size:76px;" transform="translate(2117.62 1295.70) scale(0.9570 1)">S-B13</text>
<text id="sb7" style="font-size:76px;" transform="translate(2146.20 1414.30) scale(0.9591 1)">S-B7</text>
<text id="sb5" style="font-size:76px;" transform="translate(2158.93 1614.30) scale(0.9939 1)">S-B5</text>
<text id="pM1" style="font-size:66px;" transform="translate(436.50 214.30) scale(1.0491 1)">M</text>
<text id="pQ1" style="font-size:66px;" transform="translate(592.64 249.50) scale(1.0205 1)">Q</text>
<text id="pM2" style="font-size:66px;" transform="translate(730.79 193.70) scale(1.0545 1)">M</text>
<text id="pQ2" style="font-size:66px;" transform="translate(804.62 198.30) scale(1.0273 1)">Q</text>
<text id="pC" style="font-size:66px;" transform="translate(854.38 237.60) scale(1.1054 1)">C</text>
<text id="pM3" style="font-size:66px;" transform="translate(933.57 227.00) scale(1.0655 1)">M</text>
<text id="pM4" style="font-size:66px;" transform="translate(997.89 240.90) scale(1.0545 1)">M</text>
<text id="pM5" style="font-size:66px;" transform="translate(1099.89 254.30) scale(1.0545 1)">M</text>
<text id="pM6" style="font-size:66px;" transform="translate(1273.57 230.90) scale(1.0655 1)">M</text>
<text id="t10" style="font-size:82px;font-weight:bold;" transform="translate(173.81 1803.20) scale(1.0278 1)">10</text>
<text id="t20" style="font-size:82px;font-weight:bold;" transform="translate(523.98 1803.20) scale(1.0066 1)">20</text>
<text id="t30" style="font-size:82px;font-weight:bold;" transform="translate(872.98 1803.20) scale(1.0066 1)">30</text>
<text id="t40" style="font-size:82px;font-weight:bold;" transform="translate(1223.92 1803.20) scale(0.9808 1)">40</text>
<text id="t50" style="font-size:82px;font-weight:bold;" transform="translate(1570.48 1803.20) scale(1.0066 1)">50</text>
<text id="t60" style="font-size:82px;font-weight:bold;" transform="translate(1919.48 1803.20) scale(1.0066 1)">60</text>
<text id="t70" style="font-size:82px;font-weight:bold;" transform="translate(2265.32 1803.20) scale(1.0554 1)">70</text>
<text id="title" style="font-size:88px;font-weight:bold;" transform="translate(1061.57 1949.10) scale(1.0786 1)" xml:space="preserve"><tspan x="0.00">2</tspan><tspan x="43.27" style="font-size:80px">θ</tspan> <tspan x="122.05" style="font-size:80px">(°)</tspan></text>
</g>
</svg>
</body>
</html>
